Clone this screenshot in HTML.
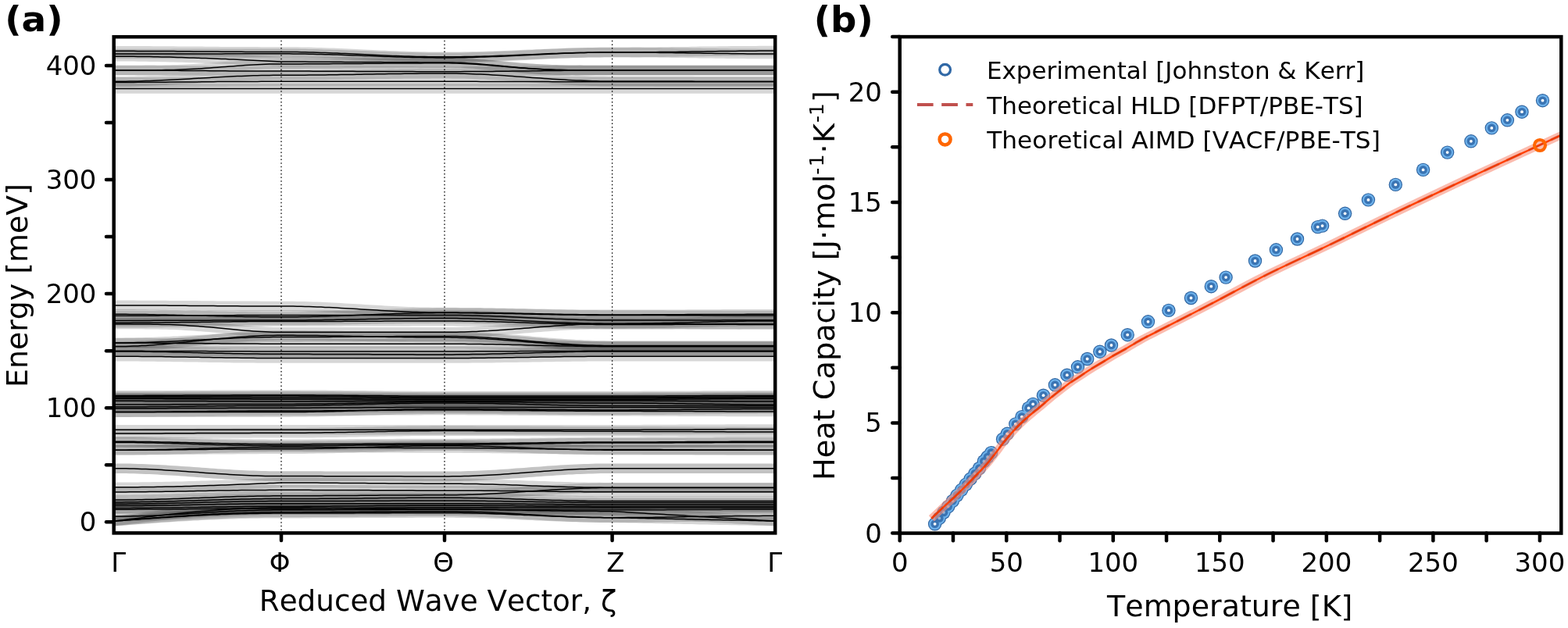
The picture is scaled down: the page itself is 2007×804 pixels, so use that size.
<!DOCTYPE html>
<html><head><meta charset="utf-8"><title>Figure</title>
<style>html,body{margin:0;padding:0;background:#fff;}body{width:2007px;height:804px;overflow:hidden;}svg{display:block;}text{font-family:"DejaVu Sans","Liberation Sans",sans-serif;fill:#000;font-kerning:none;}</style>
</head><body>
<svg width="2007" height="804" viewBox="0 0 2007 804">
<rect x="0" y="0" width="2007" height="804" fill="#fff"/>
<defs><clipPath id="cl"><rect x="145.7" y="47.2" width="846.5" height="635.2"/></clipPath><clipPath id="cr"><rect x="1151.7" y="47.1" width="846.6" height="635.5"/></clipPath></defs>
<g clip-path="url(#cl)">
<g fill="none" stroke="#000" stroke-opacity="0.155" stroke-width="12.6" stroke-linecap="butt">
<path d="M145.7,65.3 L150.8,65.3 L155.9,65.3 L161.0,65.3 L166.1,65.3 L171.2,65.3 L176.3,65.4 L181.4,65.4 L186.5,65.4 L191.6,65.4 L196.7,65.5 L201.8,65.5 L206.9,65.5 L212.0,65.6 L217.1,65.6 L222.2,65.6 L227.3,65.7 L232.4,65.7 L237.5,65.8 L242.6,65.8 L247.7,65.9 L252.8,65.9 L258.0,65.9 L263.1,66.0 L268.2,66.0 L273.3,66.1 L278.4,66.1 L283.5,66.2 L288.6,66.2 L293.7,66.2 L298.8,66.3 L303.9,66.3 L309.0,66.3 L314.1,66.4 L319.2,66.4 L324.3,66.4 L329.4,66.4 L334.5,66.5 L339.6,66.5 L344.7,66.5 L349.8,66.5 L354.9,66.5 L360.0,66.5 L365.1,66.5 L370.2,66.5 L375.3,66.6 L380.4,66.6 L385.5,66.7 L390.6,66.8 L395.7,66.9 L400.8,67.1 L405.9,67.2 L411.0,67.4 L416.1,67.6 L421.2,67.7 L426.3,67.9 L431.4,68.1 L436.5,68.4 L441.6,68.6 L446.7,68.8 L451.8,69.1 L456.9,69.3 L462.0,69.5 L467.0,69.8 L472.1,70.0 L477.2,70.2 L482.3,70.5 L487.4,70.7 L492.5,70.9 L497.6,71.2 L502.7,71.4 L507.8,71.6 L512.9,71.7 L518.0,71.9 L523.1,72.1 L528.2,72.2 L533.3,72.4 L538.4,72.5 L543.5,72.6 L548.6,72.7 L553.7,72.7 L558.8,72.8 L563.9,72.8 L569.0,72.8 L574.1,72.8 L579.2,72.8 L584.3,72.7 L589.4,72.7 L594.5,72.6 L599.7,72.5 L604.8,72.4 L609.9,72.3 L615.0,72.2 L620.1,72.0 L625.2,71.9 L630.3,71.7 L635.4,71.5 L640.5,71.3 L645.6,71.2 L650.8,71.0 L655.9,70.8 L661.0,70.5 L666.1,70.3 L671.2,70.1 L676.3,69.9 L681.4,69.7 L686.5,69.5 L691.6,69.3 L696.7,69.0 L701.8,68.8 L707.0,68.6 L712.1,68.5 L717.2,68.3 L722.3,68.1 L727.4,67.9 L732.5,67.8 L737.6,67.6 L742.7,67.5 L747.8,67.4 L752.9,67.3 L758.1,67.2 L763.2,67.1 L768.3,67.1 L773.4,67.0 L778.5,67.0 L783.6,67.0 L788.7,67.0 L793.8,67.0 L798.9,67.0 L804.0,67.0 L809.0,66.9 L814.1,66.9 L819.2,66.9 L824.3,66.8 L829.4,66.8 L834.5,66.7 L839.6,66.7 L844.7,66.6 L849.7,66.6 L854.8,66.5 L859.9,66.4 L865.0,66.4 L870.1,66.3 L875.2,66.2 L880.3,66.2 L885.4,66.1 L890.4,66.0 L895.5,65.9 L900.6,65.9 L905.7,65.8 L910.8,65.7 L915.9,65.7 L921.0,65.6 L926.1,65.5 L931.1,65.5 L936.2,65.4 L941.3,65.4 L946.4,65.3 L951.5,65.3 L956.6,65.2 L961.7,65.2 L966.8,65.2 L971.8,65.1 L976.9,65.1 L982.0,65.1 L987.1,65.1 L992.2,65.1"/>
<path d="M145.7,69.0 L150.8,69.0 L155.9,69.0 L161.0,69.0 L166.1,69.0 L171.2,69.0 L176.3,69.0 L181.4,69.0 L186.5,69.0 L191.6,69.0 L196.7,69.0 L201.8,69.0 L206.9,69.0 L212.0,69.0 L217.1,69.0 L222.2,68.9 L227.3,68.9 L232.4,68.9 L237.5,68.9 L242.6,68.9 L247.7,68.9 L252.8,68.9 L258.0,68.9 L263.1,68.9 L268.2,68.9 L273.3,68.9 L278.4,68.9 L283.5,68.9 L288.6,68.8 L293.7,68.8 L298.8,68.8 L303.9,68.8 L309.0,68.8 L314.1,68.8 L319.2,68.8 L324.3,68.8 L329.4,68.8 L334.5,68.8 L339.6,68.8 L344.7,68.8 L349.8,68.8 L354.9,68.8 L360.0,68.8 L365.1,68.8 L370.2,68.8 L375.3,68.9 L380.4,68.9 L385.5,69.0 L390.6,69.1 L395.7,69.2 L400.8,69.3 L405.9,69.4 L411.0,69.5 L416.1,69.7 L421.2,69.8 L426.3,70.0 L431.4,70.1 L436.5,70.3 L441.6,70.5 L446.7,70.7 L451.8,70.9 L456.9,71.1 L462.0,71.3 L467.0,71.4 L472.1,71.6 L477.2,71.8 L482.3,72.0 L487.4,72.2 L492.5,72.4 L497.6,72.6 L502.7,72.7 L507.8,72.9 L512.9,73.0 L518.0,73.2 L523.1,73.3 L528.2,73.4 L533.3,73.5 L538.4,73.6 L543.5,73.7 L548.6,73.8 L553.7,73.8 L558.8,73.9 L563.9,73.9 L569.0,73.9 L574.1,73.9 L579.2,73.9 L584.3,73.8 L589.4,73.7 L594.5,73.7 L599.7,73.6 L604.8,73.4 L609.9,73.3 L615.0,73.1 L620.1,73.0 L625.2,72.8 L630.3,72.6 L635.4,72.4 L640.5,72.2 L645.6,71.9 L650.8,71.7 L655.9,71.5 L661.0,71.2 L666.1,71.0 L671.2,70.7 L676.3,70.5 L681.4,70.2 L686.5,69.9 L691.6,69.7 L696.7,69.4 L701.8,69.2 L707.0,69.0 L712.1,68.7 L717.2,68.5 L722.3,68.3 L727.4,68.1 L732.5,67.9 L737.6,67.8 L742.7,67.6 L747.8,67.5 L752.9,67.3 L758.1,67.2 L763.2,67.2 L768.3,67.1 L773.4,67.0 L778.5,67.0 L783.6,67.0 L788.7,67.0 L793.8,67.0 L798.9,67.0 L804.0,67.0 L809.0,67.1 L814.1,67.1 L819.2,67.1 L824.3,67.2 L829.4,67.2 L834.5,67.3 L839.6,67.3 L844.7,67.4 L849.7,67.5 L854.8,67.5 L859.9,67.6 L865.0,67.7 L870.1,67.7 L875.2,67.8 L880.3,67.9 L885.4,68.0 L890.4,68.0 L895.5,68.1 L900.6,68.2 L905.7,68.3 L910.8,68.3 L915.9,68.4 L921.0,68.5 L926.1,68.5 L931.1,68.6 L936.2,68.7 L941.3,68.7 L946.4,68.8 L951.5,68.8 L956.6,68.9 L961.7,68.9 L966.8,68.9 L971.8,69.0 L976.9,69.0 L982.0,69.0 L987.1,69.0 L992.2,69.0"/>
<path d="M145.7,72.2 L150.8,72.2 L155.9,72.2 L161.0,72.2 L166.1,72.3 L171.2,72.3 L176.3,72.4 L181.4,72.4 L186.5,72.5 L191.6,72.6 L196.7,72.7 L201.8,72.8 L206.9,72.9 L212.0,73.0 L217.1,73.1 L222.2,73.3 L227.3,73.4 L232.4,73.5 L237.5,73.7 L242.6,73.9 L247.7,74.0 L252.8,74.2 L258.0,74.4 L263.1,74.6 L268.2,74.8 L273.3,75.0 L278.4,75.2 L283.5,75.4 L288.6,75.6 L293.7,75.9 L298.8,76.1 L303.9,76.3 L309.0,76.6 L314.1,76.8 L319.2,77.1 L324.3,77.3 L329.4,77.6 L334.5,77.8 L339.6,78.1 L344.7,78.3 L349.8,78.6 L354.9,78.8 L360.0,79.1 L365.1,79.1 L370.2,79.1 L375.3,79.1 L380.4,79.1 L385.5,79.1 L390.6,79.1 L395.7,79.2 L400.8,79.2 L405.9,79.2 L411.0,79.2 L416.1,79.2 L421.2,79.3 L426.3,79.3 L431.4,79.3 L436.5,79.3 L441.6,79.4 L446.7,79.4 L451.8,79.4 L456.9,79.5 L462.0,79.5 L467.0,79.5 L472.1,79.5 L477.2,79.6 L482.3,79.6 L487.4,79.6 L492.5,79.7 L497.6,79.7 L502.7,79.7 L507.8,79.7 L512.9,79.8 L518.0,79.8 L523.1,79.8 L528.2,79.8 L533.3,79.8 L538.4,79.9 L543.5,79.9 L548.6,79.9 L553.7,79.9 L558.8,79.9 L563.9,79.9 L569.0,79.9 L574.1,79.9 L579.2,80.0 L584.3,80.2 L589.4,80.3 L594.5,80.6 L599.7,80.9 L604.8,81.2 L609.9,81.6 L615.0,82.0 L620.1,82.4 L625.2,82.9 L630.3,83.3 L635.4,83.8 L640.5,84.3 L645.6,84.8 L650.8,85.3 L655.9,85.8 L661.0,86.2 L666.1,86.7 L671.2,87.1 L676.3,87.5 L681.4,87.8 L686.5,88.2 L691.6,88.5 L696.7,88.7 L701.8,89.0 L707.0,89.2 L712.1,89.4 L717.2,89.5 L722.3,89.6 L727.4,89.7 L732.5,89.8 L737.6,89.9 L742.7,89.9 L747.8,90.0 L752.9,90.0 L758.1,90.0 L763.2,90.0 L768.3,90.0 L773.4,90.0 L778.5,90.0 L783.6,90.0 L788.7,90.0 L793.8,90.0 L798.9,90.0 L804.0,90.0 L809.0,90.0 L814.1,90.0 L819.2,90.0 L824.3,90.0 L829.4,90.0 L834.5,90.0 L839.6,90.0 L844.7,90.0 L849.7,90.0 L854.8,90.0 L859.9,90.0 L865.0,90.0 L870.1,90.0 L875.2,90.0 L880.3,90.0 L885.4,90.0 L890.4,90.0 L895.5,90.0 L900.6,90.0 L905.7,90.0 L910.8,90.0 L915.9,90.0 L921.0,90.0 L926.1,90.0 L931.1,90.0 L936.2,90.0 L941.3,90.0 L946.4,90.0 L951.5,90.0 L956.6,90.0 L961.7,90.0 L966.8,90.0 L971.8,90.0 L976.9,90.0 L982.0,90.0 L987.1,90.0 L992.2,90.0"/>
<path d="M145.7,90.0 L150.8,90.0 L155.9,90.0 L161.0,90.0 L166.1,90.0 L171.2,90.0 L176.3,90.0 L181.4,90.0 L186.5,89.9 L191.6,89.9 L196.7,89.9 L201.8,89.8 L206.9,89.7 L212.0,89.6 L217.1,89.5 L222.2,89.4 L227.3,89.2 L232.4,89.0 L237.5,88.8 L242.6,88.5 L247.7,88.3 L252.8,88.0 L258.0,87.7 L263.1,87.3 L268.2,87.0 L273.3,86.6 L278.4,86.2 L283.5,85.8 L288.6,85.4 L293.7,85.1 L298.8,84.7 L303.9,84.3 L309.0,83.9 L314.1,83.6 L319.2,83.2 L324.3,82.9 L329.4,82.7 L334.5,82.5 L339.6,82.3 L344.7,82.1 L349.8,82.0 L354.9,81.9 L360.0,81.9 L365.1,81.9 L370.2,81.9 L375.3,81.9 L380.4,81.9 L385.5,81.9 L390.6,81.8 L395.7,81.8 L400.8,81.8 L405.9,81.8 L411.0,81.7 L416.1,81.7 L421.2,81.7 L426.3,81.6 L431.4,81.6 L436.5,81.6 L441.6,81.5 L446.7,81.5 L451.8,81.5 L456.9,81.4 L462.0,81.4 L467.0,81.3 L472.1,81.3 L477.2,81.2 L482.3,81.2 L487.4,81.2 L492.5,81.1 L497.6,81.1 L502.7,81.1 L507.8,81.0 L512.9,81.0 L518.0,81.0 L523.1,80.9 L528.2,80.9 L533.3,80.9 L538.4,80.9 L543.5,80.8 L548.6,80.8 L553.7,80.8 L558.8,80.8 L563.9,80.8 L569.0,80.8 L574.1,80.8 L579.2,80.9 L584.3,81.0 L589.4,81.2 L594.5,81.4 L599.7,81.7 L604.8,82.0 L609.9,82.3 L615.0,82.7 L620.1,83.1 L625.2,83.5 L630.3,83.9 L635.4,84.4 L640.5,84.8 L645.6,85.3 L650.8,85.7 L655.9,86.1 L661.0,86.6 L666.1,87.0 L671.2,87.3 L676.3,87.7 L681.4,88.0 L686.5,88.3 L691.6,88.6 L696.7,88.9 L701.8,89.1 L707.0,89.3 L712.1,89.4 L717.2,89.6 L722.3,89.7 L727.4,89.8 L732.5,89.8 L737.6,89.9 L742.7,89.9 L747.8,90.0 L752.9,90.0 L758.1,90.0 L763.2,90.0 L768.3,90.0 L773.4,90.0 L778.5,90.0 L783.6,90.0 L788.7,90.0 L793.8,90.0 L798.9,90.0 L804.0,90.0 L809.0,90.0 L814.1,90.0 L819.2,90.0 L824.3,90.0 L829.4,90.0 L834.5,90.0 L839.6,90.0 L844.7,90.0 L849.7,90.0 L854.8,90.0 L859.9,90.0 L865.0,90.0 L870.1,90.0 L875.2,90.0 L880.3,90.0 L885.4,90.0 L890.4,90.0 L895.5,90.0 L900.6,90.0 L905.7,90.0 L910.8,90.0 L915.9,90.0 L921.0,90.0 L926.1,90.0 L931.1,90.0 L936.2,90.0 L941.3,90.0 L946.4,90.0 L951.5,90.0 L956.6,90.0 L961.7,90.0 L966.8,90.0 L971.8,90.0 L976.9,90.0 L982.0,90.0 L987.1,90.0 L992.2,90.0"/>
<path d="M145.7,90.0 L150.8,90.0 L155.9,90.0 L161.0,90.0 L166.1,90.0 L171.2,90.0 L176.3,90.1 L181.4,90.1 L186.5,90.1 L191.6,90.1 L196.7,90.1 L201.8,90.2 L206.9,90.2 L212.0,90.2 L217.1,90.3 L222.2,90.3 L227.3,90.3 L232.4,90.4 L237.5,90.4 L242.6,90.5 L247.7,90.5 L252.8,90.5 L258.0,90.6 L263.1,90.6 L268.2,90.7 L273.3,90.7 L278.4,90.8 L283.5,90.8 L288.6,90.8 L293.7,90.9 L298.8,90.9 L303.9,90.9 L309.0,91.0 L314.1,91.0 L319.2,91.0 L324.3,91.0 L329.4,91.0 L334.5,91.1 L339.6,91.1 L344.7,91.1 L349.8,91.1 L354.9,91.1 L360.0,91.1 L365.1,91.1 L370.2,91.1 L375.3,91.1 L380.4,91.1 L385.5,91.1 L390.6,91.1 L395.7,91.1 L400.8,91.2 L405.9,91.2 L411.0,91.2 L416.1,91.2 L421.2,91.2 L426.3,91.2 L431.4,91.3 L436.5,91.3 L441.6,91.3 L446.7,91.3 L451.8,91.3 L456.9,91.4 L462.0,91.4 L467.0,91.4 L472.1,91.4 L477.2,91.5 L482.3,91.5 L487.4,91.5 L492.5,91.5 L497.6,91.5 L502.7,91.6 L507.8,91.6 L512.9,91.6 L518.0,91.6 L523.1,91.6 L528.2,91.6 L533.3,91.7 L538.4,91.7 L543.5,91.7 L548.6,91.7 L553.7,91.7 L558.8,91.7 L563.9,91.7 L569.0,91.7 L574.1,91.7 L579.2,91.7 L584.3,91.7 L589.4,91.7 L594.5,91.6 L599.7,91.6 L604.8,91.6 L609.9,91.6 L615.0,91.5 L620.1,91.5 L625.2,91.4 L630.3,91.4 L635.4,91.3 L640.5,91.3 L645.6,91.2 L650.8,91.2 L655.9,91.1 L661.0,91.0 L666.1,91.0 L671.2,90.9 L676.3,90.9 L681.4,90.8 L686.5,90.7 L691.6,90.7 L696.7,90.6 L701.8,90.5 L707.0,90.5 L712.1,90.4 L717.2,90.4 L722.3,90.3 L727.4,90.3 L732.5,90.2 L737.6,90.2 L742.7,90.1 L747.8,90.1 L752.9,90.1 L758.1,90.1 L763.2,90.0 L768.3,90.0 L773.4,90.0 L778.5,90.0 L783.6,90.0 L788.7,90.0 L793.8,90.0 L798.9,90.0 L804.0,90.0 L809.0,90.0 L814.1,90.0 L819.2,90.0 L824.3,90.0 L829.4,90.0 L834.5,90.0 L839.6,90.0 L844.7,90.0 L849.7,90.0 L854.8,90.0 L859.9,90.0 L865.0,90.0 L870.1,90.0 L875.2,90.0 L880.3,90.0 L885.4,90.0 L890.4,90.0 L895.5,90.0 L900.6,90.0 L905.7,90.0 L910.8,90.0 L915.9,90.0 L921.0,90.0 L926.1,90.0 L931.1,90.0 L936.2,90.0 L941.3,90.0 L946.4,90.0 L951.5,90.0 L956.6,90.0 L961.7,90.0 L966.8,90.0 L971.8,90.0 L976.9,90.0 L982.0,90.0 L987.1,90.0 L992.2,90.0"/>
<path d="M145.7,104.3 L150.8,104.3 L155.9,104.3 L161.0,104.2 L166.1,104.1 L171.2,104.0 L176.3,103.9 L181.4,103.8 L186.5,103.6 L191.6,103.4 L196.7,103.2 L201.8,103.0 L206.9,102.8 L212.0,102.6 L217.1,102.3 L222.2,102.0 L227.3,101.8 L232.4,101.5 L237.5,101.2 L242.6,100.9 L247.7,100.6 L252.8,100.3 L258.0,100.0 L263.1,99.7 L268.2,99.4 L273.3,99.1 L278.4,98.8 L283.5,98.6 L288.6,98.3 L293.7,98.0 L298.8,97.8 L303.9,97.6 L309.0,97.4 L314.1,97.2 L319.2,97.0 L324.3,96.8 L329.4,96.7 L334.5,96.6 L339.6,96.5 L344.7,96.4 L349.8,96.3 L354.9,96.3 L360.0,96.3 L365.1,96.3 L370.2,96.3 L375.3,96.3 L380.4,96.2 L385.5,96.2 L390.6,96.2 L395.7,96.1 L400.8,96.1 L405.9,96.0 L411.0,96.0 L416.1,95.9 L421.2,95.8 L426.3,95.8 L431.4,95.7 L436.5,95.6 L441.6,95.5 L446.7,95.5 L451.8,95.4 L456.9,95.3 L462.0,95.2 L467.0,95.1 L472.1,95.0 L477.2,94.9 L482.3,94.8 L487.4,94.8 L492.5,94.7 L497.6,94.6 L502.7,94.5 L507.8,94.5 L512.9,94.4 L518.0,94.3 L523.1,94.3 L528.2,94.2 L533.3,94.2 L538.4,94.1 L543.5,94.1 L548.6,94.1 L553.7,94.0 L558.8,94.0 L563.9,94.0 L569.0,94.0 L574.1,94.0 L579.2,94.1 L584.3,94.1 L589.4,94.2 L594.5,94.3 L599.7,94.5 L604.8,94.7 L609.9,94.9 L615.0,95.1 L620.1,95.3 L625.2,95.6 L630.3,95.9 L635.4,96.2 L640.5,96.5 L645.6,96.8 L650.8,97.2 L655.9,97.5 L661.0,97.9 L666.1,98.3 L671.2,98.6 L676.3,99.0 L681.4,99.4 L686.5,99.7 L691.6,100.1 L696.7,100.5 L701.8,100.8 L707.0,101.2 L712.1,101.5 L717.2,101.8 L722.3,102.1 L727.4,102.4 L732.5,102.7 L737.6,102.9 L742.7,103.1 L747.8,103.3 L752.9,103.5 L758.1,103.7 L763.2,103.8 L768.3,103.9 L773.4,103.9 L778.5,104.0 L783.6,104.0 L788.7,104.0 L793.8,104.0 L798.9,104.0 L804.0,104.0 L809.0,104.0 L814.1,104.0 L819.2,104.0 L824.3,104.0 L829.4,104.0 L834.5,104.0 L839.6,104.1 L844.7,104.1 L849.7,104.1 L854.8,104.1 L859.9,104.1 L865.0,104.1 L870.1,104.1 L875.2,104.1 L880.3,104.1 L885.4,104.1 L890.4,104.2 L895.5,104.2 L900.6,104.2 L905.7,104.2 L910.8,104.2 L915.9,104.2 L921.0,104.2 L926.1,104.2 L931.1,104.2 L936.2,104.2 L941.3,104.3 L946.4,104.3 L951.5,104.3 L956.6,104.3 L961.7,104.3 L966.8,104.3 L971.8,104.3 L976.9,104.3 L982.0,104.3 L987.1,104.3 L992.2,104.3"/>
<path d="M145.7,105.4 L150.8,105.4 L155.9,105.4 L161.0,105.4 L166.1,105.4 L171.2,105.4 L176.3,105.3 L181.4,105.3 L186.5,105.3 L191.6,105.3 L196.7,105.3 L201.8,105.2 L206.9,105.2 L212.0,105.2 L217.1,105.1 L222.2,105.1 L227.3,105.1 L232.4,105.0 L237.5,105.0 L242.6,104.9 L247.7,104.9 L252.8,104.9 L258.0,104.8 L263.1,104.8 L268.2,104.7 L273.3,104.7 L278.4,104.6 L283.5,104.6 L288.6,104.6 L293.7,104.5 L298.8,104.5 L303.9,104.5 L309.0,104.4 L314.1,104.4 L319.2,104.4 L324.3,104.4 L329.4,104.4 L334.5,104.3 L339.6,104.3 L344.7,104.3 L349.8,104.3 L354.9,104.3 L360.0,104.3 L365.1,104.3 L370.2,104.3 L375.3,104.3 L380.4,104.3 L385.5,104.3 L390.6,104.3 L395.7,104.3 L400.8,104.3 L405.9,104.3 L411.0,104.3 L416.1,104.3 L421.2,104.3 L426.3,104.3 L431.4,104.3 L436.5,104.3 L441.6,104.3 L446.7,104.3 L451.8,104.3 L456.9,104.3 L462.0,104.3 L467.0,104.3 L472.1,104.3 L477.2,104.3 L482.3,104.3 L487.4,104.3 L492.5,104.3 L497.6,104.3 L502.7,104.3 L507.8,104.3 L512.9,104.3 L518.0,104.3 L523.1,104.3 L528.2,104.3 L533.3,104.3 L538.4,104.3 L543.5,104.3 L548.6,104.3 L553.7,104.3 L558.8,104.3 L563.9,104.3 L569.0,104.3 L574.1,104.3 L579.2,104.3 L584.3,104.3 L589.4,104.3 L594.5,104.3 L599.7,104.3 L604.8,104.3 L609.9,104.3 L615.0,104.4 L620.1,104.4 L625.2,104.4 L630.3,104.4 L635.4,104.4 L640.5,104.4 L645.6,104.4 L650.8,104.5 L655.9,104.5 L661.0,104.5 L666.1,104.5 L671.2,104.5 L676.3,104.5 L681.4,104.6 L686.5,104.6 L691.6,104.6 L696.7,104.6 L701.8,104.6 L707.0,104.7 L712.1,104.7 L717.2,104.7 L722.3,104.7 L727.4,104.7 L732.5,104.7 L737.6,104.7 L742.7,104.8 L747.8,104.8 L752.9,104.8 L758.1,104.8 L763.2,104.8 L768.3,104.8 L773.4,104.8 L778.5,104.8 L783.6,104.8 L788.7,104.8 L793.8,104.8 L798.9,104.8 L804.0,104.8 L809.0,104.8 L814.1,104.8 L819.2,104.8 L824.3,104.8 L829.4,104.8 L834.5,104.8 L839.6,104.8 L844.7,104.8 L849.7,104.8 L854.8,104.8 L859.9,104.8 L865.0,104.8 L870.1,104.8 L875.2,104.8 L880.3,104.8 L885.4,104.8 L890.4,104.8 L895.5,104.8 L900.6,104.8 L905.7,104.8 L910.8,104.8 L915.9,104.8 L921.0,104.8 L926.1,104.8 L931.1,104.8 L936.2,104.8 L941.3,104.8 L946.4,104.8 L951.5,104.8 L956.6,104.8 L961.7,104.8 L966.8,104.8 L971.8,104.8 L976.9,104.8 L982.0,104.8 L987.1,104.8 L992.2,104.8"/>
<path d="M145.7,113.4 L150.8,113.4 L155.9,113.4 L161.0,113.4 L166.1,113.4 L171.2,113.4 L176.3,113.4 L181.4,113.4 L186.5,113.4 L191.6,113.4 L196.7,113.4 L201.8,113.4 L206.9,113.4 L212.0,113.4 L217.1,113.4 L222.2,113.4 L227.3,113.4 L232.4,113.4 L237.5,113.4 L242.6,113.4 L247.7,113.4 L252.8,113.4 L258.0,113.4 L263.1,113.4 L268.2,113.4 L273.3,113.4 L278.4,113.4 L283.5,113.4 L288.6,113.4 L293.7,113.4 L298.8,113.4 L303.9,113.4 L309.0,113.4 L314.1,113.4 L319.2,113.4 L324.3,113.4 L329.4,113.4 L334.5,113.4 L339.6,113.4 L344.7,113.4 L349.8,113.4 L354.9,113.4 L360.0,113.4 L365.1,113.4 L370.2,113.4 L375.3,113.4 L380.4,113.4 L385.5,113.4 L390.6,113.4 L395.7,113.4 L400.8,113.4 L405.9,113.4 L411.0,113.4 L416.1,113.4 L421.2,113.4 L426.3,113.4 L431.4,113.4 L436.5,113.4 L441.6,113.4 L446.7,113.4 L451.8,113.4 L456.9,113.4 L462.0,113.4 L467.0,113.4 L472.1,113.4 L477.2,113.4 L482.3,113.4 L487.4,113.4 L492.5,113.4 L497.6,113.4 L502.7,113.4 L507.8,113.4 L512.9,113.4 L518.0,113.4 L523.1,113.4 L528.2,113.4 L533.3,113.4 L538.4,113.4 L543.5,113.4 L548.6,113.4 L553.7,113.4 L558.8,113.4 L563.9,113.4 L569.0,113.4 L574.1,113.4 L579.2,113.4 L584.3,113.4 L589.4,113.4 L594.5,113.4 L599.7,113.4 L604.8,113.4 L609.9,113.4 L615.0,113.4 L620.1,113.4 L625.2,113.4 L630.3,113.4 L635.4,113.4 L640.5,113.4 L645.6,113.4 L650.8,113.4 L655.9,113.4 L661.0,113.4 L666.1,113.4 L671.2,113.4 L676.3,113.4 L681.4,113.4 L686.5,113.4 L691.6,113.4 L696.7,113.4 L701.8,113.4 L707.0,113.4 L712.1,113.4 L717.2,113.4 L722.3,113.4 L727.4,113.4 L732.5,113.4 L737.6,113.4 L742.7,113.4 L747.8,113.4 L752.9,113.4 L758.1,113.4 L763.2,113.4 L768.3,113.4 L773.4,113.4 L778.5,113.4 L783.6,113.4 L788.7,113.4 L793.8,113.4 L798.9,113.4 L804.0,113.4 L809.0,113.4 L814.1,113.4 L819.2,113.4 L824.3,113.4 L829.4,113.4 L834.5,113.4 L839.6,113.4 L844.7,113.4 L849.7,113.4 L854.8,113.4 L859.9,113.4 L865.0,113.4 L870.1,113.4 L875.2,113.4 L880.3,113.4 L885.4,113.4 L890.4,113.4 L895.5,113.4 L900.6,113.4 L905.7,113.4 L910.8,113.4 L915.9,113.4 L921.0,113.4 L926.1,113.4 L931.1,113.4 L936.2,113.4 L941.3,113.4 L946.4,113.4 L951.5,113.4 L956.6,113.4 L961.7,113.4 L966.8,113.4 L971.8,113.4 L976.9,113.4 L982.0,113.4 L987.1,113.4 L992.2,113.4"/>
<path d="M145.7,390.9 L150.8,390.9 L155.9,390.9 L161.0,390.9 L166.1,390.9 L171.2,390.9 L176.3,391.0 L181.4,391.0 L186.5,391.0 L191.6,391.0 L196.7,391.0 L201.8,391.1 L206.9,391.1 L212.0,391.1 L217.1,391.2 L222.2,391.2 L227.3,391.2 L232.4,391.3 L237.5,391.3 L242.6,391.4 L247.7,391.4 L252.8,391.4 L258.0,391.5 L263.1,391.5 L268.2,391.6 L273.3,391.6 L278.4,391.7 L283.5,391.7 L288.6,391.7 L293.7,391.8 L298.8,391.8 L303.9,391.8 L309.0,391.9 L314.1,391.9 L319.2,391.9 L324.3,391.9 L329.4,391.9 L334.5,392.0 L339.6,392.0 L344.7,392.0 L349.8,392.0 L354.9,392.0 L360.0,392.0 L365.1,392.0 L370.2,392.0 L375.3,392.1 L380.4,392.2 L385.5,392.3 L390.6,392.4 L395.7,392.6 L400.8,392.7 L405.9,392.9 L411.0,393.1 L416.1,393.4 L421.2,393.6 L426.3,393.8 L431.4,394.1 L436.5,394.4 L441.6,394.7 L446.7,395.0 L451.8,395.3 L456.9,395.6 L462.0,395.9 L467.0,396.2 L472.1,396.5 L477.2,396.8 L482.3,397.1 L487.4,397.4 L492.5,397.7 L497.6,398.0 L502.7,398.3 L507.8,398.5 L512.9,398.7 L518.0,399.0 L523.1,399.2 L528.2,399.4 L533.3,399.5 L538.4,399.7 L543.5,399.8 L548.6,399.9 L553.7,400.0 L558.8,400.1 L563.9,400.1 L569.0,400.1 L574.1,400.1 L579.2,400.1 L584.3,400.1 L589.4,400.2 L594.5,400.2 L599.7,400.2 L604.8,400.3 L609.9,400.3 L615.0,400.4 L620.1,400.5 L625.2,400.5 L630.3,400.6 L635.4,400.7 L640.5,400.8 L645.6,400.9 L650.8,401.0 L655.9,401.1 L661.0,401.2 L666.1,401.3 L671.2,401.4 L676.3,401.5 L681.4,401.6 L686.5,401.7 L691.6,401.8 L696.7,401.9 L701.8,402.0 L707.0,402.1 L712.1,402.2 L717.2,402.3 L722.3,402.4 L727.4,402.5 L732.5,402.5 L737.6,402.6 L742.7,402.7 L747.8,402.7 L752.9,402.8 L758.1,402.8 L763.2,402.8 L768.3,402.9 L773.4,402.9 L778.5,402.9 L783.6,402.9 L788.7,402.9 L793.8,402.9 L798.9,402.9 L804.0,402.9 L809.0,402.9 L814.1,402.9 L819.2,402.9 L824.3,402.8 L829.4,402.8 L834.5,402.8 L839.6,402.8 L844.7,402.8 L849.7,402.8 L854.8,402.7 L859.9,402.7 L865.0,402.7 L870.1,402.7 L875.2,402.7 L880.3,402.6 L885.4,402.6 L890.4,402.6 L895.5,402.6 L900.6,402.5 L905.7,402.5 L910.8,402.5 L915.9,402.5 L921.0,402.5 L926.1,402.4 L931.1,402.4 L936.2,402.4 L941.3,402.4 L946.4,402.4 L951.5,402.4 L956.6,402.3 L961.7,402.3 L966.8,402.3 L971.8,402.3 L976.9,402.3 L982.0,402.3 L987.1,402.3 L992.2,402.3"/>
<path d="M145.7,402.3 L150.8,402.3 L155.9,402.3 L161.0,402.3 L166.1,402.4 L171.2,402.4 L176.3,402.5 L181.4,402.5 L186.5,402.6 L191.6,402.7 L196.7,402.8 L201.8,402.9 L206.9,403.0 L212.0,403.1 L217.1,403.2 L222.2,403.3 L227.3,403.4 L232.4,403.5 L237.5,403.7 L242.6,403.8 L247.7,403.9 L252.8,404.1 L258.0,404.2 L263.1,404.3 L268.2,404.4 L273.3,404.6 L278.4,404.7 L283.5,404.8 L288.6,404.9 L293.7,405.0 L298.8,405.1 L303.9,405.2 L309.0,405.3 L314.1,405.4 L319.2,405.5 L324.3,405.6 L329.4,405.6 L334.5,405.7 L339.6,405.7 L344.7,405.8 L349.8,405.8 L354.9,405.8 L360.0,405.8 L365.1,405.8 L370.2,405.8 L375.3,405.7 L380.4,405.7 L385.5,405.6 L390.6,405.5 L395.7,405.4 L400.8,405.3 L405.9,405.2 L411.0,405.1 L416.1,404.9 L421.2,404.8 L426.3,404.6 L431.4,404.4 L436.5,404.3 L441.6,404.1 L446.7,403.9 L451.8,403.7 L456.9,403.5 L462.0,403.3 L467.0,403.1 L472.1,402.9 L477.2,402.7 L482.3,402.5 L487.4,402.3 L492.5,402.1 L497.6,402.0 L502.7,401.8 L507.8,401.6 L512.9,401.5 L518.0,401.3 L523.1,401.2 L528.2,401.1 L533.3,401.0 L538.4,400.9 L543.5,400.8 L548.6,400.7 L553.7,400.7 L558.8,400.6 L563.9,400.6 L569.0,400.6 L574.1,400.6 L579.2,400.6 L584.3,400.6 L589.4,400.7 L594.5,400.7 L599.7,400.7 L604.8,400.8 L609.9,400.9 L615.0,400.9 L620.1,401.0 L625.2,401.1 L630.3,401.1 L635.4,401.2 L640.5,401.3 L645.6,401.4 L650.8,401.5 L655.9,401.6 L661.0,401.7 L666.1,401.8 L671.2,401.9 L676.3,402.1 L681.4,402.2 L686.5,402.3 L691.6,402.4 L696.7,402.5 L701.8,402.6 L707.0,402.7 L712.1,402.8 L717.2,402.9 L722.3,403.0 L727.4,403.0 L732.5,403.1 L737.6,403.2 L742.7,403.2 L747.8,403.3 L752.9,403.4 L758.1,403.4 L763.2,403.4 L768.3,403.5 L773.4,403.5 L778.5,403.5 L783.6,403.5 L788.7,403.5 L793.8,403.5 L798.9,403.5 L804.0,403.5 L809.0,403.5 L814.1,403.5 L819.2,403.5 L824.3,403.6 L829.4,403.6 L834.5,403.6 L839.6,403.6 L844.7,403.6 L849.7,403.6 L854.8,403.7 L859.9,403.7 L865.0,403.7 L870.1,403.7 L875.2,403.7 L880.3,403.8 L885.4,403.8 L890.4,403.8 L895.5,403.8 L900.6,403.9 L905.7,403.9 L910.8,403.9 L915.9,403.9 L921.0,403.9 L926.1,404.0 L931.1,404.0 L936.2,404.0 L941.3,404.0 L946.4,404.0 L951.5,404.0 L956.6,404.1 L961.7,404.1 L966.8,404.1 L971.8,404.1 L976.9,404.1 L982.0,404.1 L987.1,404.1 L992.2,404.1"/>
<path d="M145.7,404.3 L150.8,404.3 L155.9,404.3 L161.0,404.3 L166.1,404.3 L171.2,404.3 L176.3,404.3 L181.4,404.2 L186.5,404.2 L191.6,404.2 L196.7,404.2 L201.8,404.2 L206.9,404.1 L212.0,404.1 L217.1,404.1 L222.2,404.1 L227.3,404.0 L232.4,404.0 L237.5,404.0 L242.6,404.0 L247.7,403.9 L252.8,403.9 L258.0,403.9 L263.1,403.8 L268.2,403.8 L273.3,403.8 L278.4,403.8 L283.5,403.7 L288.6,403.7 L293.7,403.7 L298.8,403.7 L303.9,403.6 L309.0,403.6 L314.1,403.6 L319.2,403.6 L324.3,403.6 L329.4,403.5 L334.5,403.5 L339.6,403.5 L344.7,403.5 L349.8,403.5 L354.9,403.5 L360.0,403.5 L365.1,403.5 L370.2,403.5 L375.3,403.5 L380.4,403.5 L385.5,403.5 L390.6,403.5 L395.7,403.5 L400.8,403.5 L405.9,403.5 L411.0,403.5 L416.1,403.5 L421.2,403.5 L426.3,403.5 L431.4,403.5 L436.5,403.5 L441.6,403.5 L446.7,403.5 L451.8,403.5 L456.9,403.5 L462.0,403.5 L467.0,403.5 L472.1,403.5 L477.2,403.5 L482.3,403.5 L487.4,403.5 L492.5,403.5 L497.6,403.5 L502.7,403.5 L507.8,403.5 L512.9,403.5 L518.0,403.5 L523.1,403.5 L528.2,403.5 L533.3,403.5 L538.4,403.5 L543.5,403.5 L548.6,403.5 L553.7,403.5 L558.8,403.5 L563.9,403.5 L569.0,403.5 L574.1,403.5 L579.2,403.5 L584.3,403.6 L589.4,403.6 L594.5,403.7 L599.7,403.8 L604.8,403.9 L609.9,404.1 L615.0,404.2 L620.1,404.4 L625.2,404.5 L630.3,404.7 L635.4,404.9 L640.5,405.1 L645.6,405.3 L650.8,405.6 L655.9,405.8 L661.0,406.0 L666.1,406.3 L671.2,406.5 L676.3,406.8 L681.4,407.0 L686.5,407.2 L691.6,407.5 L696.7,407.7 L701.8,407.9 L707.0,408.2 L712.1,408.4 L717.2,408.6 L722.3,408.8 L727.4,409.0 L732.5,409.1 L737.6,409.3 L742.7,409.4 L747.8,409.6 L752.9,409.7 L758.1,409.8 L763.2,409.9 L768.3,409.9 L773.4,410.0 L778.5,410.0 L783.6,410.0 L788.7,410.0 L793.8,410.0 L798.9,410.0 L804.0,410.0 L809.0,410.0 L814.1,410.0 L819.2,410.0 L824.3,410.0 L829.4,410.0 L834.5,410.0 L839.6,410.0 L844.7,410.0 L849.7,410.0 L854.8,409.9 L859.9,409.9 L865.0,409.9 L870.1,409.9 L875.2,409.9 L880.3,409.9 L885.4,409.9 L890.4,409.9 L895.5,409.9 L900.6,409.9 L905.7,409.9 L910.8,409.9 L915.9,409.9 L921.0,409.9 L926.1,409.8 L931.1,409.8 L936.2,409.8 L941.3,409.8 L946.4,409.8 L951.5,409.8 L956.6,409.8 L961.7,409.8 L966.8,409.8 L971.8,409.8 L976.9,409.8 L982.0,409.8 L987.1,409.8 L992.2,409.8"/>
<path d="M145.7,410.4 L150.8,410.4 L155.9,410.4 L161.0,410.4 L166.1,410.4 L171.2,410.4 L176.3,410.4 L181.4,410.4 L186.5,410.4 L191.6,410.4 L196.7,410.3 L201.8,410.3 L206.9,410.3 L212.0,410.3 L217.1,410.3 L222.2,410.3 L227.3,410.3 L232.4,410.3 L237.5,410.2 L242.6,410.2 L247.7,410.2 L252.8,410.2 L258.0,410.2 L263.1,410.2 L268.2,410.2 L273.3,410.1 L278.4,410.1 L283.5,410.1 L288.6,410.1 L293.7,410.1 L298.8,410.1 L303.9,410.1 L309.0,410.1 L314.1,410.0 L319.2,410.0 L324.3,410.0 L329.4,410.0 L334.5,410.0 L339.6,410.0 L344.7,410.0 L349.8,410.0 L354.9,410.0 L360.0,410.0 L365.1,410.0 L370.2,410.0 L375.3,410.0 L380.4,409.9 L385.5,409.9 L390.6,409.9 L395.7,409.8 L400.8,409.8 L405.9,409.7 L411.0,409.7 L416.1,409.6 L421.2,409.5 L426.3,409.4 L431.4,409.3 L436.5,409.3 L441.6,409.2 L446.7,409.1 L451.8,409.0 L456.9,408.9 L462.0,408.8 L467.0,408.7 L472.1,408.6 L477.2,408.5 L482.3,408.4 L487.4,408.3 L492.5,408.2 L497.6,408.2 L502.7,408.1 L507.8,408.0 L512.9,407.9 L518.0,407.8 L523.1,407.8 L528.2,407.7 L533.3,407.7 L538.4,407.6 L543.5,407.6 L548.6,407.6 L553.7,407.5 L558.8,407.5 L563.9,407.5 L569.0,407.5 L574.1,407.5 L579.2,407.5 L584.3,407.6 L589.4,407.7 L594.5,407.7 L599.7,407.8 L604.8,408.0 L609.9,408.1 L615.0,408.3 L620.1,408.4 L625.2,408.6 L630.3,408.8 L635.4,409.0 L640.5,409.2 L645.6,409.5 L650.8,409.7 L655.9,409.9 L661.0,410.2 L666.1,410.4 L671.2,410.7 L676.3,410.9 L681.4,411.2 L686.5,411.5 L691.6,411.7 L696.7,412.0 L701.8,412.2 L707.0,412.4 L712.1,412.7 L717.2,412.9 L722.3,413.1 L727.4,413.3 L732.5,413.5 L737.6,413.6 L742.7,413.8 L747.8,413.9 L752.9,414.1 L758.1,414.2 L763.2,414.2 L768.3,414.3 L773.4,414.4 L778.5,414.4 L783.6,414.4 L788.7,414.4 L793.8,414.4 L798.9,414.4 L804.0,414.3 L809.0,414.3 L814.1,414.2 L819.2,414.2 L824.3,414.1 L829.4,414.0 L834.5,413.9 L839.6,413.8 L844.7,413.7 L849.7,413.6 L854.8,413.5 L859.9,413.4 L865.0,413.2 L870.1,413.1 L875.2,413.0 L880.3,412.9 L885.4,412.7 L890.4,412.6 L895.5,412.4 L900.6,412.3 L905.7,412.2 L910.8,412.1 L915.9,411.9 L921.0,411.8 L926.1,411.7 L931.1,411.6 L936.2,411.5 L941.3,411.4 L946.4,411.3 L951.5,411.2 L956.6,411.1 L961.7,411.1 L966.8,411.0 L971.8,411.0 L976.9,410.9 L982.0,410.9 L987.1,410.9 L992.2,410.9"/>
<path d="M145.7,413.2 L150.8,413.2 L155.9,413.2 L161.0,413.2 L166.1,413.2 L171.2,413.1 L176.3,413.1 L181.4,413.1 L186.5,413.1 L191.6,413.0 L196.7,413.0 L201.8,412.9 L206.9,412.9 L212.0,412.8 L217.1,412.8 L222.2,412.7 L227.3,412.7 L232.4,412.6 L237.5,412.5 L242.6,412.5 L247.7,412.4 L252.8,412.4 L258.0,412.3 L263.1,412.2 L268.2,412.2 L273.3,412.1 L278.4,412.0 L283.5,412.0 L288.6,411.9 L293.7,411.9 L298.8,411.8 L303.9,411.8 L309.0,411.7 L314.1,411.7 L319.2,411.6 L324.3,411.6 L329.4,411.6 L334.5,411.6 L339.6,411.5 L344.7,411.5 L349.8,411.5 L354.9,411.5 L360.0,411.5 L365.1,411.5 L370.2,411.5 L375.3,411.5 L380.4,411.5 L385.5,411.5 L390.6,411.5 L395.7,411.5 L400.8,411.5 L405.9,411.4 L411.0,411.4 L416.1,411.4 L421.2,411.4 L426.3,411.4 L431.4,411.4 L436.5,411.4 L441.6,411.3 L446.7,411.3 L451.8,411.3 L456.9,411.3 L462.0,411.3 L467.0,411.2 L472.1,411.2 L477.2,411.2 L482.3,411.2 L487.4,411.2 L492.5,411.1 L497.6,411.1 L502.7,411.1 L507.8,411.1 L512.9,411.1 L518.0,411.1 L523.1,411.1 L528.2,411.0 L533.3,411.0 L538.4,411.0 L543.5,411.0 L548.6,411.0 L553.7,411.0 L558.8,411.0 L563.9,411.0 L569.0,411.0 L574.1,411.0 L579.2,411.0 L584.3,411.1 L589.4,411.1 L594.5,411.2 L599.7,411.2 L604.8,411.3 L609.9,411.4 L615.0,411.5 L620.1,411.6 L625.2,411.7 L630.3,411.8 L635.4,412.0 L640.5,412.1 L645.6,412.3 L650.8,412.4 L655.9,412.6 L661.0,412.7 L666.1,412.9 L671.2,413.1 L676.3,413.2 L681.4,413.4 L686.5,413.6 L691.6,413.8 L696.7,413.9 L701.8,414.1 L707.0,414.2 L712.1,414.4 L717.2,414.5 L722.3,414.7 L727.4,414.8 L732.5,414.9 L737.6,415.0 L742.7,415.1 L747.8,415.2 L752.9,415.3 L758.1,415.3 L763.2,415.4 L768.3,415.4 L773.4,415.5 L778.5,415.5 L783.6,415.5 L788.7,415.5 L793.8,415.5 L798.9,415.5 L804.0,415.5 L809.0,415.5 L814.1,415.5 L819.2,415.5 L824.3,415.5 L829.4,415.4 L834.5,415.4 L839.6,415.4 L844.7,415.4 L849.7,415.4 L854.8,415.4 L859.9,415.4 L865.0,415.3 L870.1,415.3 L875.2,415.3 L880.3,415.3 L885.4,415.3 L890.4,415.2 L895.5,415.2 L900.6,415.2 L905.7,415.2 L910.8,415.2 L915.9,415.1 L921.0,415.1 L926.1,415.1 L931.1,415.1 L936.2,415.1 L941.3,415.1 L946.4,415.1 L951.5,415.0 L956.6,415.0 L961.7,415.0 L966.8,415.0 L971.8,415.0 L976.9,415.0 L982.0,415.0 L987.1,415.0 L992.2,415.0"/>
<path d="M145.7,415.0 L150.8,415.0 L155.9,415.0 L161.0,415.0 L166.1,415.0 L171.2,415.0 L176.3,415.0 L181.4,415.0 L186.5,415.1 L191.6,415.1 L196.7,415.2 L201.8,415.3 L206.9,415.4 L212.0,415.5 L217.1,415.6 L222.2,415.8 L227.3,416.0 L232.4,416.3 L237.5,416.6 L242.6,416.9 L247.7,417.2 L252.8,417.6 L258.0,418.0 L263.1,418.4 L268.2,418.8 L273.3,419.3 L278.4,419.8 L283.5,420.3 L288.6,420.8 L293.7,421.3 L298.8,421.8 L303.9,422.3 L309.0,422.7 L314.1,423.2 L319.2,423.6 L324.3,424.0 L329.4,424.3 L334.5,424.6 L339.6,424.8 L344.7,425.0 L349.8,425.2 L354.9,425.3 L360.0,425.3 L365.1,425.3 L370.2,425.3 L375.3,425.3 L380.4,425.3 L385.5,425.3 L390.6,425.3 L395.7,425.3 L400.8,425.3 L405.9,425.3 L411.0,425.3 L416.1,425.3 L421.2,425.3 L426.3,425.3 L431.4,425.3 L436.5,425.3 L441.6,425.3 L446.7,425.3 L451.8,425.3 L456.9,425.3 L462.0,425.3 L467.0,425.3 L472.1,425.3 L477.2,425.3 L482.3,425.3 L487.4,425.3 L492.5,425.3 L497.6,425.3 L502.7,425.3 L507.8,425.3 L512.9,425.3 L518.0,425.3 L523.1,425.3 L528.2,425.3 L533.3,425.3 L538.4,425.3 L543.5,425.3 L548.6,425.3 L553.7,425.3 L558.8,425.3 L563.9,425.3 L569.0,425.3 L574.1,425.3 L579.2,425.2 L584.3,425.2 L589.4,425.1 L594.5,424.9 L599.7,424.8 L604.8,424.6 L609.9,424.4 L615.0,424.1 L620.1,423.8 L625.2,423.6 L630.3,423.2 L635.4,422.9 L640.5,422.6 L645.6,422.2 L650.8,421.8 L655.9,421.5 L661.0,421.1 L666.1,420.7 L671.2,420.3 L676.3,419.9 L681.4,419.4 L686.5,419.0 L691.6,418.6 L696.7,418.2 L701.8,417.9 L707.0,417.5 L712.1,417.1 L717.2,416.8 L722.3,416.5 L727.4,416.1 L732.5,415.9 L737.6,415.6 L742.7,415.3 L747.8,415.1 L752.9,414.9 L758.1,414.8 L763.2,414.6 L768.3,414.5 L773.4,414.5 L778.5,414.4 L783.6,414.4 L788.7,414.4 L793.8,414.4 L798.9,414.4 L804.0,414.4 L809.0,414.4 L814.1,414.5 L819.2,414.5 L824.3,414.5 L829.4,414.5 L834.5,414.6 L839.6,414.6 L844.7,414.6 L849.7,414.7 L854.8,414.7 L859.9,414.7 L865.0,414.8 L870.1,414.8 L875.2,414.8 L880.3,414.9 L885.4,414.9 L890.4,415.0 L895.5,415.0 L900.6,415.1 L905.7,415.1 L910.8,415.1 L915.9,415.2 L921.0,415.2 L926.1,415.2 L931.1,415.3 L936.2,415.3 L941.3,415.3 L946.4,415.4 L951.5,415.4 L956.6,415.4 L961.7,415.4 L966.8,415.5 L971.8,415.5 L976.9,415.5 L982.0,415.5 L987.1,415.5 L992.2,415.5"/>
<path d="M145.7,439.0 L150.8,439.0 L155.9,439.0 L161.0,438.9 L166.1,438.8 L171.2,438.7 L176.3,438.6 L181.4,438.5 L186.5,438.4 L191.6,438.2 L196.7,438.0 L201.8,437.8 L206.9,437.6 L212.0,437.4 L217.1,437.2 L222.2,436.9 L227.3,436.7 L232.4,436.4 L237.5,436.1 L242.6,435.9 L247.7,435.6 L252.8,435.3 L258.0,435.0 L263.1,434.7 L268.2,434.5 L273.3,434.2 L278.4,433.9 L283.5,433.7 L288.6,433.5 L293.7,433.2 L298.8,433.0 L303.9,432.8 L309.0,432.6 L314.1,432.4 L319.2,432.2 L324.3,432.1 L329.4,432.0 L334.5,431.9 L339.6,431.8 L344.7,431.7 L349.8,431.6 L354.9,431.6 L360.0,431.6 L365.1,431.6 L370.2,431.6 L375.3,431.6 L380.4,431.6 L385.5,431.6 L390.6,431.5 L395.7,431.5 L400.8,431.5 L405.9,431.5 L411.0,431.4 L416.1,431.4 L421.2,431.4 L426.3,431.3 L431.4,431.3 L436.5,431.2 L441.6,431.2 L446.7,431.2 L451.8,431.1 L456.9,431.1 L462.0,431.0 L467.0,431.0 L472.1,430.9 L477.2,430.9 L482.3,430.8 L487.4,430.8 L492.5,430.8 L497.6,430.7 L502.7,430.7 L507.8,430.6 L512.9,430.6 L518.0,430.6 L523.1,430.5 L528.2,430.5 L533.3,430.5 L538.4,430.5 L543.5,430.4 L548.6,430.4 L553.7,430.4 L558.8,430.4 L563.9,430.4 L569.0,430.4 L574.1,430.4 L579.2,430.5 L584.3,430.6 L589.4,430.7 L594.5,430.8 L599.7,431.0 L604.8,431.2 L609.9,431.5 L615.0,431.7 L620.1,432.0 L625.2,432.3 L630.3,432.7 L635.4,433.0 L640.5,433.4 L645.6,433.8 L650.8,434.2 L655.9,434.7 L661.0,435.1 L666.1,435.5 L671.2,436.0 L676.3,436.4 L681.4,436.9 L686.5,437.4 L691.6,437.8 L696.7,438.2 L701.8,438.7 L707.0,439.1 L712.1,439.5 L717.2,439.9 L722.3,440.2 L727.4,440.6 L732.5,440.9 L737.6,441.2 L742.7,441.4 L747.8,441.7 L752.9,441.9 L758.1,442.1 L763.2,442.2 L768.3,442.3 L773.4,442.4 L778.5,442.5 L783.6,442.5 L788.7,442.5 L793.8,442.5 L798.9,442.5 L804.0,442.5 L809.0,442.5 L814.1,442.5 L819.2,442.5 L824.3,442.5 L829.4,442.5 L834.5,442.5 L839.6,442.5 L844.7,442.5 L849.7,442.5 L854.8,442.5 L859.9,442.5 L865.0,442.5 L870.1,442.5 L875.2,442.5 L880.3,442.5 L885.4,442.5 L890.4,442.5 L895.5,442.5 L900.6,442.5 L905.7,442.5 L910.8,442.5 L915.9,442.5 L921.0,442.5 L926.1,442.5 L931.1,442.5 L936.2,442.5 L941.3,442.5 L946.4,442.5 L951.5,442.5 L956.6,442.5 L961.7,442.5 L966.8,442.5 L971.8,442.5 L976.9,442.5 L982.0,442.5 L987.1,442.5 L992.2,442.5"/>
<path d="M145.7,443.6 L150.8,443.6 L155.9,443.5 L161.0,443.4 L166.1,443.3 L171.2,443.1 L176.3,442.9 L181.4,442.6 L186.5,442.4 L191.6,442.0 L196.7,441.7 L201.8,441.3 L206.9,440.9 L212.0,440.5 L217.1,440.0 L222.2,439.6 L227.3,439.1 L232.4,438.6 L237.5,438.0 L242.6,437.5 L247.7,437.0 L252.8,436.5 L258.0,435.9 L263.1,435.4 L268.2,434.9 L273.3,434.3 L278.4,433.8 L283.5,433.3 L288.6,432.9 L293.7,432.4 L298.8,432.0 L303.9,431.6 L309.0,431.2 L314.1,430.9 L319.2,430.5 L324.3,430.3 L329.4,430.0 L334.5,429.8 L339.6,429.6 L344.7,429.5 L349.8,429.4 L354.9,429.3 L360.0,429.3 L365.1,429.3 L370.2,429.3 L375.3,429.3 L380.4,429.4 L385.5,429.4 L390.6,429.4 L395.7,429.5 L400.8,429.6 L405.9,429.6 L411.0,429.7 L416.1,429.8 L421.2,429.9 L426.3,429.9 L431.4,430.0 L436.5,430.1 L441.6,430.2 L446.7,430.3 L451.8,430.4 L456.9,430.5 L462.0,430.6 L467.0,430.8 L472.1,430.9 L477.2,431.0 L482.3,431.1 L487.4,431.2 L492.5,431.3 L497.6,431.4 L502.7,431.5 L507.8,431.5 L512.9,431.6 L518.0,431.7 L523.1,431.8 L528.2,431.8 L533.3,431.9 L538.4,432.0 L543.5,432.0 L548.6,432.0 L553.7,432.1 L558.8,432.1 L563.9,432.1 L569.0,432.1 L574.1,432.1 L579.2,432.2 L584.3,432.2 L589.4,432.4 L594.5,432.5 L599.7,432.7 L604.8,432.9 L609.9,433.1 L615.0,433.4 L620.1,433.6 L625.2,433.9 L630.3,434.3 L635.4,434.6 L640.5,435.0 L645.6,435.4 L650.8,435.7 L655.9,436.2 L661.0,436.6 L666.1,437.0 L671.2,437.4 L676.3,437.9 L681.4,438.3 L686.5,438.7 L691.6,439.1 L696.7,439.5 L701.8,440.0 L707.0,440.3 L712.1,440.7 L717.2,441.1 L722.3,441.4 L727.4,441.8 L732.5,442.1 L737.6,442.3 L742.7,442.6 L747.8,442.8 L752.9,443.0 L758.1,443.2 L763.2,443.3 L768.3,443.5 L773.4,443.5 L778.5,443.6 L783.6,443.6 L788.7,443.6 L793.8,443.6 L798.9,443.6 L804.0,443.6 L809.0,443.6 L814.1,443.6 L819.2,443.6 L824.3,443.6 L829.4,443.6 L834.5,443.6 L839.6,443.6 L844.7,443.6 L849.7,443.6 L854.8,443.6 L859.9,443.6 L865.0,443.6 L870.1,443.6 L875.2,443.6 L880.3,443.6 L885.4,443.6 L890.4,443.6 L895.5,443.6 L900.6,443.6 L905.7,443.6 L910.8,443.6 L915.9,443.6 L921.0,443.6 L926.1,443.6 L931.1,443.6 L936.2,443.6 L941.3,443.6 L946.4,443.6 L951.5,443.6 L956.6,443.6 L961.7,443.6 L966.8,443.6 L971.8,443.6 L976.9,443.6 L982.0,443.6 L987.1,443.6 L992.2,443.6"/>
<path d="M145.7,439.0 L150.8,439.0 L155.9,439.0 L161.0,439.0 L166.1,439.0 L171.2,439.0 L176.3,439.1 L181.4,439.1 L186.5,439.1 L191.6,439.1 L196.7,439.2 L201.8,439.2 L206.9,439.2 L212.0,439.3 L217.1,439.3 L222.2,439.3 L227.3,439.4 L232.4,439.4 L237.5,439.5 L242.6,439.5 L247.7,439.6 L252.8,439.6 L258.0,439.6 L263.1,439.7 L268.2,439.7 L273.3,439.8 L278.4,439.8 L283.5,439.9 L288.6,439.9 L293.7,439.9 L298.8,440.0 L303.9,440.0 L309.0,440.0 L314.1,440.1 L319.2,440.1 L324.3,440.1 L329.4,440.1 L334.5,440.2 L339.6,440.2 L344.7,440.2 L349.8,440.2 L354.9,440.2 L360.0,440.2 L365.1,440.2 L370.2,440.2 L375.3,440.2 L380.4,440.2 L385.5,440.2 L390.6,440.2 L395.7,440.2 L400.8,440.2 L405.9,440.2 L411.0,440.2 L416.1,440.2 L421.2,440.2 L426.3,440.2 L431.4,440.2 L436.5,440.2 L441.6,440.2 L446.7,440.2 L451.8,440.2 L456.9,440.2 L462.0,440.2 L467.0,440.2 L472.1,440.2 L477.2,440.2 L482.3,440.2 L487.4,440.2 L492.5,440.2 L497.6,440.2 L502.7,440.2 L507.8,440.2 L512.9,440.2 L518.0,440.2 L523.1,440.2 L528.2,440.2 L533.3,440.2 L538.4,440.2 L543.5,440.2 L548.6,440.2 L553.7,440.2 L558.8,440.2 L563.9,440.2 L569.0,440.2 L574.1,440.2 L579.2,440.2 L584.3,440.2 L589.4,440.3 L594.5,440.3 L599.7,440.4 L604.8,440.4 L609.9,440.5 L615.0,440.6 L620.1,440.7 L625.2,440.7 L630.3,440.8 L635.4,440.9 L640.5,441.1 L645.6,441.2 L650.8,441.3 L655.9,441.4 L661.0,441.5 L666.1,441.6 L671.2,441.8 L676.3,441.9 L681.4,442.0 L686.5,442.2 L691.6,442.3 L696.7,442.4 L701.8,442.5 L707.0,442.6 L712.1,442.8 L717.2,442.9 L722.3,443.0 L727.4,443.1 L732.5,443.1 L737.6,443.2 L742.7,443.3 L747.8,443.4 L752.9,443.4 L758.1,443.5 L763.2,443.5 L768.3,443.6 L773.4,443.6 L778.5,443.6 L783.6,443.6 L788.7,443.6 L793.8,443.6 L798.9,443.6 L804.0,443.6 L809.0,443.6 L814.1,443.6 L819.2,443.6 L824.3,443.6 L829.4,443.6 L834.5,443.6 L839.6,443.6 L844.7,443.6 L849.7,443.6 L854.8,443.6 L859.9,443.6 L865.0,443.6 L870.1,443.6 L875.2,443.6 L880.3,443.6 L885.4,443.6 L890.4,443.6 L895.5,443.6 L900.6,443.6 L905.7,443.6 L910.8,443.6 L915.9,443.6 L921.0,443.6 L926.1,443.6 L931.1,443.6 L936.2,443.6 L941.3,443.6 L946.4,443.6 L951.5,443.6 L956.6,443.6 L961.7,443.6 L966.8,443.6 L971.8,443.6 L976.9,443.6 L982.0,443.6 L987.1,443.6 L992.2,443.6"/>
<path d="M145.7,449.3 L150.8,449.3 L155.9,449.3 L161.0,449.3 L166.1,449.3 L171.2,449.3 L176.3,449.3 L181.4,449.3 L186.5,449.4 L191.6,449.4 L196.7,449.4 L201.8,449.4 L206.9,449.4 L212.0,449.4 L217.1,449.4 L222.2,449.5 L227.3,449.5 L232.4,449.5 L237.5,449.5 L242.6,449.6 L247.7,449.6 L252.8,449.6 L258.0,449.6 L263.1,449.6 L268.2,449.7 L273.3,449.7 L278.4,449.7 L283.5,449.7 L288.6,449.8 L293.7,449.8 L298.8,449.8 L303.9,449.8 L309.0,449.8 L314.1,449.8 L319.2,449.8 L324.3,449.9 L329.4,449.9 L334.5,449.9 L339.6,449.9 L344.7,449.9 L349.8,449.9 L354.9,449.9 L360.0,449.9 L365.1,449.9 L370.2,449.9 L375.3,449.9 L380.4,449.9 L385.5,449.9 L390.6,449.9 L395.7,449.9 L400.8,449.9 L405.9,449.9 L411.0,449.9 L416.1,449.9 L421.2,449.9 L426.3,449.9 L431.4,449.9 L436.5,449.9 L441.6,449.9 L446.7,449.9 L451.8,449.9 L456.9,449.9 L462.0,449.9 L467.0,449.9 L472.1,449.9 L477.2,449.9 L482.3,449.9 L487.4,449.9 L492.5,449.9 L497.6,449.9 L502.7,449.9 L507.8,449.9 L512.9,449.9 L518.0,449.9 L523.1,449.9 L528.2,449.9 L533.3,449.9 L538.4,449.9 L543.5,449.9 L548.6,449.9 L553.7,449.9 L558.8,449.9 L563.9,449.9 L569.0,449.9 L574.1,449.9 L579.2,449.9 L584.3,449.9 L589.4,449.9 L594.5,449.9 L599.7,449.9 L604.8,449.9 L609.9,449.8 L615.0,449.8 L620.1,449.8 L625.2,449.8 L630.3,449.8 L635.4,449.8 L640.5,449.8 L645.6,449.7 L650.8,449.7 L655.9,449.7 L661.0,449.7 L666.1,449.6 L671.2,449.6 L676.3,449.6 L681.4,449.6 L686.5,449.6 L691.6,449.5 L696.7,449.5 L701.8,449.5 L707.0,449.5 L712.1,449.4 L717.2,449.4 L722.3,449.4 L727.4,449.4 L732.5,449.4 L737.6,449.4 L742.7,449.4 L747.8,449.3 L752.9,449.3 L758.1,449.3 L763.2,449.3 L768.3,449.3 L773.4,449.3 L778.5,449.3 L783.6,449.3 L788.7,449.3 L793.8,449.3 L798.9,449.3 L804.0,449.3 L809.0,449.3 L814.1,449.3 L819.2,449.3 L824.3,449.3 L829.4,449.3 L834.5,449.3 L839.6,449.3 L844.7,449.3 L849.7,449.3 L854.8,449.3 L859.9,449.3 L865.0,449.3 L870.1,449.3 L875.2,449.3 L880.3,449.3 L885.4,449.3 L890.4,449.3 L895.5,449.3 L900.6,449.3 L905.7,449.3 L910.8,449.3 L915.9,449.3 L921.0,449.3 L926.1,449.3 L931.1,449.3 L936.2,449.3 L941.3,449.3 L946.4,449.3 L951.5,449.3 L956.6,449.3 L961.7,449.3 L966.8,449.3 L971.8,449.3 L976.9,449.3 L982.0,449.3 L987.1,449.3 L992.2,449.3"/>
<path d="M145.7,449.9 L150.8,449.9 L155.9,449.9 L161.0,449.9 L166.1,450.0 L171.2,450.0 L176.3,450.1 L181.4,450.1 L186.5,450.2 L191.6,450.3 L196.7,450.4 L201.8,450.4 L206.9,450.5 L212.0,450.6 L217.1,450.8 L222.2,450.9 L227.3,451.0 L232.4,451.1 L237.5,451.2 L242.6,451.3 L247.7,451.5 L252.8,451.6 L258.0,451.7 L263.1,451.9 L268.2,452.0 L273.3,452.1 L278.4,452.2 L283.5,452.3 L288.6,452.4 L293.7,452.6 L298.8,452.7 L303.9,452.8 L309.0,452.8 L314.1,452.9 L319.2,453.0 L324.3,453.1 L329.4,453.1 L334.5,453.2 L339.6,453.2 L344.7,453.3 L349.8,453.3 L354.9,453.3 L360.0,453.3 L365.1,453.3 L370.2,453.3 L375.3,453.3 L380.4,453.3 L385.5,453.3 L390.6,453.3 L395.7,453.3 L400.8,453.4 L405.9,453.4 L411.0,453.4 L416.1,453.4 L421.2,453.4 L426.3,453.4 L431.4,453.5 L436.5,453.5 L441.6,453.5 L446.7,453.5 L451.8,453.5 L456.9,453.6 L462.0,453.6 L467.0,453.6 L472.1,453.6 L477.2,453.7 L482.3,453.7 L487.4,453.7 L492.5,453.7 L497.6,453.7 L502.7,453.8 L507.8,453.8 L512.9,453.8 L518.0,453.8 L523.1,453.8 L528.2,453.8 L533.3,453.9 L538.4,453.9 L543.5,453.9 L548.6,453.9 L553.7,453.9 L558.8,453.9 L563.9,453.9 L569.0,453.9 L574.1,453.9 L579.2,453.9 L584.3,453.8 L589.4,453.8 L594.5,453.8 L599.7,453.7 L604.8,453.6 L609.9,453.6 L615.0,453.5 L620.1,453.4 L625.2,453.3 L630.3,453.1 L635.4,453.0 L640.5,452.9 L645.6,452.8 L650.8,452.6 L655.9,452.5 L661.0,452.3 L666.1,452.2 L671.2,452.0 L676.3,451.9 L681.4,451.8 L686.5,451.6 L691.6,451.5 L696.7,451.3 L701.8,451.2 L707.0,451.0 L712.1,450.9 L717.2,450.8 L722.3,450.7 L727.4,450.5 L732.5,450.4 L737.6,450.3 L742.7,450.2 L747.8,450.2 L752.9,450.1 L758.1,450.0 L763.2,450.0 L768.3,450.0 L773.4,449.9 L778.5,449.9 L783.6,449.9 L788.7,449.9 L793.8,449.9 L798.9,449.9 L804.0,449.9 L809.0,449.9 L814.1,449.9 L819.2,449.9 L824.3,449.9 L829.4,449.9 L834.5,449.9 L839.6,449.9 L844.7,449.9 L849.7,449.9 L854.8,449.9 L859.9,449.9 L865.0,449.9 L870.1,449.9 L875.2,449.9 L880.3,449.9 L885.4,449.9 L890.4,449.9 L895.5,449.9 L900.6,449.9 L905.7,449.9 L910.8,449.9 L915.9,449.9 L921.0,449.9 L926.1,449.9 L931.1,449.9 L936.2,449.9 L941.3,449.9 L946.4,449.9 L951.5,449.9 L956.6,449.9 L961.7,449.9 L966.8,449.9 L971.8,449.9 L976.9,449.9 L982.0,449.9 L987.1,449.9 L992.2,449.9"/>
<path d="M145.7,456.2 L150.8,456.2 L155.9,456.2 L161.0,456.2 L166.1,456.3 L171.2,456.3 L176.3,456.3 L181.4,456.4 L186.5,456.4 L191.6,456.5 L196.7,456.5 L201.8,456.6 L206.9,456.6 L212.0,456.7 L217.1,456.8 L222.2,456.9 L227.3,456.9 L232.4,457.0 L237.5,457.1 L242.6,457.2 L247.7,457.3 L252.8,457.3 L258.0,457.4 L263.1,457.5 L268.2,457.6 L273.3,457.7 L278.4,457.8 L283.5,457.8 L288.6,457.9 L293.7,458.0 L298.8,458.1 L303.9,458.1 L309.0,458.2 L314.1,458.2 L319.2,458.3 L324.3,458.3 L329.4,458.4 L334.5,458.4 L339.6,458.4 L344.7,458.5 L349.8,458.5 L354.9,458.5 L360.0,458.5 L365.1,458.5 L370.2,458.5 L375.3,458.5 L380.4,458.5 L385.5,458.5 L390.6,458.5 L395.7,458.5 L400.8,458.5 L405.9,458.5 L411.0,458.5 L416.1,458.5 L421.2,458.5 L426.3,458.5 L431.4,458.5 L436.5,458.5 L441.6,458.5 L446.7,458.5 L451.8,458.5 L456.9,458.5 L462.0,458.5 L467.0,458.5 L472.1,458.5 L477.2,458.5 L482.3,458.5 L487.4,458.5 L492.5,458.5 L497.6,458.5 L502.7,458.5 L507.8,458.5 L512.9,458.5 L518.0,458.5 L523.1,458.5 L528.2,458.5 L533.3,458.5 L538.4,458.5 L543.5,458.5 L548.6,458.5 L553.7,458.5 L558.8,458.5 L563.9,458.5 L569.0,458.5 L574.1,458.5 L579.2,458.5 L584.3,458.5 L589.4,458.4 L594.5,458.4 L599.7,458.4 L604.8,458.3 L609.9,458.3 L615.0,458.2 L620.1,458.2 L625.2,458.1 L630.3,458.1 L635.4,458.0 L640.5,457.9 L645.6,457.8 L650.8,457.8 L655.9,457.7 L661.0,457.6 L666.1,457.5 L671.2,457.4 L676.3,457.4 L681.4,457.3 L686.5,457.2 L691.6,457.1 L696.7,457.0 L701.8,456.9 L707.0,456.9 L712.1,456.8 L717.2,456.7 L722.3,456.6 L727.4,456.6 L732.5,456.5 L737.6,456.5 L742.7,456.4 L747.8,456.4 L752.9,456.3 L758.1,456.3 L763.2,456.3 L768.3,456.2 L773.4,456.2 L778.5,456.2 L783.6,456.2 L788.7,456.2 L793.8,456.2 L798.9,456.2 L804.0,456.2 L809.0,456.2 L814.1,456.2 L819.2,456.2 L824.3,456.2 L829.4,456.2 L834.5,456.2 L839.6,456.2 L844.7,456.2 L849.7,456.2 L854.8,456.2 L859.9,456.2 L865.0,456.2 L870.1,456.2 L875.2,456.2 L880.3,456.2 L885.4,456.2 L890.4,456.2 L895.5,456.2 L900.6,456.2 L905.7,456.2 L910.8,456.2 L915.9,456.2 L921.0,456.2 L926.1,456.2 L931.1,456.2 L936.2,456.2 L941.3,456.2 L946.4,456.2 L951.5,456.2 L956.6,456.2 L961.7,456.2 L966.8,456.2 L971.8,456.2 L976.9,456.2 L982.0,456.2 L987.1,456.2 L992.2,456.2"/>
<path d="M145.7,506.4 L150.8,506.4 L155.9,506.4 L161.0,506.4 L166.1,506.4 L171.2,506.4 L176.3,506.4 L181.4,506.4 L186.5,506.3 L191.6,506.3 L196.7,506.3 L201.8,506.3 L206.9,506.3 L212.0,506.2 L217.1,506.2 L222.2,506.2 L227.3,506.2 L232.4,506.2 L237.5,506.1 L242.6,506.1 L247.7,506.1 L252.8,506.1 L258.0,506.0 L263.1,506.0 L268.2,506.0 L273.3,505.9 L278.4,505.9 L283.5,505.9 L288.6,505.9 L293.7,505.9 L298.8,505.8 L303.9,505.8 L309.0,505.8 L314.1,505.8 L319.2,505.8 L324.3,505.7 L329.4,505.7 L334.5,505.7 L339.6,505.7 L344.7,505.7 L349.8,505.7 L354.9,505.7 L360.0,505.7 L365.1,505.7 L370.2,505.7 L375.3,505.7 L380.4,505.7 L385.5,505.8 L390.6,505.8 L395.7,505.8 L400.8,505.8 L405.9,505.9 L411.0,505.9 L416.1,505.9 L421.2,506.0 L426.3,506.0 L431.4,506.1 L436.5,506.1 L441.6,506.2 L446.7,506.2 L451.8,506.3 L456.9,506.3 L462.0,506.4 L467.0,506.4 L472.1,506.5 L477.2,506.5 L482.3,506.6 L487.4,506.6 L492.5,506.7 L497.6,506.7 L502.7,506.8 L507.8,506.8 L512.9,506.9 L518.0,506.9 L523.1,506.9 L528.2,507.0 L533.3,507.0 L538.4,507.0 L543.5,507.0 L548.6,507.1 L553.7,507.1 L558.8,507.1 L563.9,507.1 L569.0,507.1 L574.1,507.1 L579.2,507.1 L584.3,507.1 L589.4,507.1 L594.5,507.1 L599.7,507.1 L604.8,507.1 L609.9,507.1 L615.0,507.1 L620.1,507.1 L625.2,507.1 L630.3,507.1 L635.4,507.1 L640.5,507.1 L645.6,507.1 L650.8,507.1 L655.9,507.1 L661.0,507.1 L666.1,507.1 L671.2,507.1 L676.3,507.1 L681.4,507.0 L686.5,507.0 L691.6,507.0 L696.7,507.0 L701.8,507.0 L707.0,507.0 L712.1,507.0 L717.2,507.0 L722.3,507.0 L727.4,507.0 L732.5,507.0 L737.6,507.0 L742.7,507.0 L747.8,507.0 L752.9,507.0 L758.1,507.0 L763.2,507.0 L768.3,507.0 L773.4,507.0 L778.5,507.0 L783.6,507.0 L788.7,507.0 L793.8,507.0 L798.9,507.0 L804.0,507.0 L809.0,507.0 L814.1,507.0 L819.2,507.0 L824.3,506.9 L829.4,506.9 L834.5,506.9 L839.6,506.9 L844.7,506.9 L849.7,506.9 L854.8,506.8 L859.9,506.8 L865.0,506.8 L870.1,506.8 L875.2,506.8 L880.3,506.7 L885.4,506.7 L890.4,506.7 L895.5,506.7 L900.6,506.6 L905.7,506.6 L910.8,506.6 L915.9,506.6 L921.0,506.6 L926.1,506.5 L931.1,506.5 L936.2,506.5 L941.3,506.5 L946.4,506.5 L951.5,506.5 L956.6,506.4 L961.7,506.4 L966.8,506.4 L971.8,506.4 L976.9,506.4 L982.0,506.4 L987.1,506.4 L992.2,506.4"/>
<path d="M145.7,507.8 L150.8,507.8 L155.9,507.8 L161.0,507.8 L166.1,507.8 L171.2,507.8 L176.3,507.8 L181.4,507.8 L186.5,507.7 L191.6,507.7 L196.7,507.7 L201.8,507.7 L206.9,507.7 L212.0,507.6 L217.1,507.6 L222.2,507.6 L227.3,507.6 L232.4,507.6 L237.5,507.5 L242.6,507.5 L247.7,507.5 L252.8,507.5 L258.0,507.4 L263.1,507.4 L268.2,507.4 L273.3,507.3 L278.4,507.3 L283.5,507.3 L288.6,507.3 L293.7,507.3 L298.8,507.2 L303.9,507.2 L309.0,507.2 L314.1,507.2 L319.2,507.2 L324.3,507.1 L329.4,507.1 L334.5,507.1 L339.6,507.1 L344.7,507.1 L349.8,507.1 L354.9,507.1 L360.0,507.1 L365.1,507.1 L370.2,507.1 L375.3,507.1 L380.4,507.1 L385.5,507.2 L390.6,507.2 L395.7,507.2 L400.8,507.2 L405.9,507.3 L411.0,507.3 L416.1,507.3 L421.2,507.4 L426.3,507.4 L431.4,507.5 L436.5,507.5 L441.6,507.6 L446.7,507.6 L451.8,507.7 L456.9,507.7 L462.0,507.8 L467.0,507.8 L472.1,507.9 L477.2,507.9 L482.3,508.0 L487.4,508.0 L492.5,508.1 L497.6,508.1 L502.7,508.2 L507.8,508.2 L512.9,508.3 L518.0,508.3 L523.1,508.3 L528.2,508.4 L533.3,508.4 L538.4,508.4 L543.5,508.4 L548.6,508.5 L553.7,508.5 L558.8,508.5 L563.9,508.5 L569.0,508.5 L574.1,508.5 L579.2,508.5 L584.3,508.5 L589.4,508.5 L594.5,508.5 L599.7,508.5 L604.8,508.5 L609.9,508.5 L615.0,508.5 L620.1,508.5 L625.2,508.5 L630.3,508.5 L635.4,508.5 L640.5,508.5 L645.6,508.5 L650.8,508.5 L655.9,508.5 L661.0,508.5 L666.1,508.5 L671.2,508.5 L676.3,508.5 L681.4,508.5 L686.5,508.5 L691.6,508.5 L696.7,508.5 L701.8,508.5 L707.0,508.5 L712.1,508.5 L717.2,508.5 L722.3,508.5 L727.4,508.5 L732.5,508.5 L737.6,508.5 L742.7,508.5 L747.8,508.5 L752.9,508.5 L758.1,508.5 L763.2,508.5 L768.3,508.5 L773.4,508.5 L778.5,508.5 L783.6,508.5 L788.7,508.5 L793.8,508.5 L798.9,508.5 L804.0,508.5 L809.0,508.5 L814.1,508.5 L819.2,508.5 L824.3,508.4 L829.4,508.4 L834.5,508.4 L839.6,508.4 L844.7,508.4 L849.7,508.3 L854.8,508.3 L859.9,508.3 L865.0,508.3 L870.1,508.2 L875.2,508.2 L880.3,508.2 L885.4,508.2 L890.4,508.1 L895.5,508.1 L900.6,508.1 L905.7,508.1 L910.8,508.0 L915.9,508.0 L921.0,508.0 L926.1,508.0 L931.1,507.9 L936.2,507.9 L941.3,507.9 L946.4,507.9 L951.5,507.9 L956.6,507.8 L961.7,507.8 L966.8,507.8 L971.8,507.8 L976.9,507.8 L982.0,507.8 L987.1,507.8 L992.2,507.8"/>
<path d="M145.7,509.2 L150.8,509.2 L155.9,509.2 L161.0,509.2 L166.1,509.2 L171.2,509.2 L176.3,509.2 L181.4,509.2 L186.5,509.2 L191.6,509.2 L196.7,509.2 L201.8,509.2 L206.9,509.2 L212.0,509.2 L217.1,509.2 L222.2,509.2 L227.3,509.2 L232.4,509.2 L237.5,509.2 L242.6,509.2 L247.7,509.2 L252.8,509.2 L258.0,509.2 L263.1,509.2 L268.2,509.2 L273.3,509.2 L278.4,509.2 L283.5,509.2 L288.6,509.2 L293.7,509.2 L298.8,509.2 L303.9,509.2 L309.0,509.2 L314.1,509.2 L319.2,509.2 L324.3,509.2 L329.4,509.2 L334.5,509.2 L339.6,509.2 L344.7,509.2 L349.8,509.2 L354.9,509.2 L360.0,509.2 L365.1,509.2 L370.2,509.2 L375.3,509.2 L380.4,509.2 L385.5,509.2 L390.6,509.2 L395.7,509.3 L400.8,509.3 L405.9,509.3 L411.0,509.3 L416.1,509.3 L421.2,509.4 L426.3,509.4 L431.4,509.4 L436.5,509.4 L441.6,509.5 L446.7,509.5 L451.8,509.5 L456.9,509.6 L462.0,509.6 L467.0,509.6 L472.1,509.6 L477.2,509.7 L482.3,509.7 L487.4,509.7 L492.5,509.8 L497.6,509.8 L502.7,509.8 L507.8,509.8 L512.9,509.9 L518.0,509.9 L523.1,509.9 L528.2,509.9 L533.3,509.9 L538.4,510.0 L543.5,510.0 L548.6,510.0 L553.7,510.0 L558.8,510.0 L563.9,510.0 L569.0,510.0 L574.1,510.0 L579.2,510.0 L584.3,510.0 L589.4,510.0 L594.5,510.0 L599.7,510.0 L604.8,510.0 L609.9,510.0 L615.0,510.0 L620.1,510.0 L625.2,510.0 L630.3,510.0 L635.4,510.0 L640.5,510.0 L645.6,510.0 L650.8,510.0 L655.9,510.0 L661.0,510.0 L666.1,510.0 L671.2,510.0 L676.3,510.0 L681.4,510.0 L686.5,510.0 L691.6,510.0 L696.7,510.0 L701.8,510.0 L707.0,510.0 L712.1,510.0 L717.2,510.0 L722.3,510.0 L727.4,510.0 L732.5,510.0 L737.6,510.0 L742.7,510.0 L747.8,510.0 L752.9,510.0 L758.1,510.0 L763.2,510.0 L768.3,510.0 L773.4,510.0 L778.5,510.0 L783.6,510.0 L788.7,510.0 L793.8,510.0 L798.9,510.0 L804.0,510.0 L809.0,510.0 L814.1,510.0 L819.2,509.9 L824.3,509.9 L829.4,509.9 L834.5,509.9 L839.6,509.9 L844.7,509.8 L849.7,509.8 L854.8,509.8 L859.9,509.8 L865.0,509.7 L870.1,509.7 L875.2,509.7 L880.3,509.6 L885.4,509.6 L890.4,509.6 L895.5,509.6 L900.6,509.5 L905.7,509.5 L910.8,509.5 L915.9,509.4 L921.0,509.4 L926.1,509.4 L931.1,509.4 L936.2,509.3 L941.3,509.3 L946.4,509.3 L951.5,509.3 L956.6,509.3 L961.7,509.2 L966.8,509.2 L971.8,509.2 L976.9,509.2 L982.0,509.2 L987.1,509.2 L992.2,509.2"/>
<path d="M145.7,510.5 L150.8,510.5 L155.9,510.5 L161.0,510.5 L166.1,510.5 L171.2,510.5 L176.3,510.5 L181.4,510.5 L186.5,510.6 L191.6,510.6 L196.7,510.6 L201.8,510.6 L206.9,510.6 L212.0,510.7 L217.1,510.7 L222.2,510.7 L227.3,510.7 L232.4,510.7 L237.5,510.8 L242.6,510.8 L247.7,510.8 L252.8,510.8 L258.0,510.9 L263.1,510.9 L268.2,510.9 L273.3,511.0 L278.4,511.0 L283.5,511.0 L288.6,511.0 L293.7,511.0 L298.8,511.1 L303.9,511.1 L309.0,511.1 L314.1,511.1 L319.2,511.1 L324.3,511.2 L329.4,511.2 L334.5,511.2 L339.6,511.2 L344.7,511.2 L349.8,511.2 L354.9,511.2 L360.0,511.2 L365.1,511.2 L370.2,511.2 L375.3,511.2 L380.4,511.2 L385.5,511.2 L390.6,511.2 L395.7,511.2 L400.8,511.2 L405.9,511.2 L411.0,511.2 L416.1,511.3 L421.2,511.3 L426.3,511.3 L431.4,511.3 L436.5,511.3 L441.6,511.3 L446.7,511.3 L451.8,511.3 L456.9,511.3 L462.0,511.3 L467.0,511.4 L472.1,511.4 L477.2,511.4 L482.3,511.4 L487.4,511.4 L492.5,511.4 L497.6,511.4 L502.7,511.4 L507.8,511.4 L512.9,511.4 L518.0,511.5 L523.1,511.5 L528.2,511.5 L533.3,511.5 L538.4,511.5 L543.5,511.5 L548.6,511.5 L553.7,511.5 L558.8,511.5 L563.9,511.5 L569.0,511.5 L574.1,511.5 L579.2,511.5 L584.3,511.5 L589.4,511.5 L594.5,511.5 L599.7,511.5 L604.8,511.5 L609.9,511.5 L615.0,511.5 L620.1,511.5 L625.2,511.5 L630.3,511.5 L635.4,511.5 L640.5,511.5 L645.6,511.5 L650.8,511.5 L655.9,511.5 L661.0,511.5 L666.1,511.5 L671.2,511.5 L676.3,511.5 L681.4,511.5 L686.5,511.5 L691.6,511.5 L696.7,511.5 L701.8,511.5 L707.0,511.5 L712.1,511.5 L717.2,511.5 L722.3,511.5 L727.4,511.5 L732.5,511.5 L737.6,511.5 L742.7,511.5 L747.8,511.5 L752.9,511.5 L758.1,511.5 L763.2,511.5 L768.3,511.5 L773.4,511.5 L778.5,511.5 L783.6,511.5 L788.7,511.5 L793.8,511.5 L798.9,511.5 L804.0,511.5 L809.0,511.5 L814.1,511.4 L819.2,511.4 L824.3,511.4 L829.4,511.4 L834.5,511.4 L839.6,511.3 L844.7,511.3 L849.7,511.3 L854.8,511.2 L859.9,511.2 L865.0,511.2 L870.1,511.1 L875.2,511.1 L880.3,511.1 L885.4,511.0 L890.4,511.0 L895.5,510.9 L900.6,510.9 L905.7,510.9 L910.8,510.8 L915.9,510.8 L921.0,510.8 L926.1,510.7 L931.1,510.7 L936.2,510.7 L941.3,510.6 L946.4,510.6 L951.5,510.6 L956.6,510.6 L961.7,510.6 L966.8,510.5 L971.8,510.5 L976.9,510.5 L982.0,510.5 L987.1,510.5 L992.2,510.5"/>
<path d="M145.7,513.3 L150.8,513.3 L155.9,513.3 L161.0,513.3 L166.1,513.3 L171.2,513.3 L176.3,513.3 L181.4,513.3 L186.5,513.4 L191.6,513.4 L196.7,513.4 L201.8,513.4 L206.9,513.4 L212.0,513.4 L217.1,513.4 L222.2,513.5 L227.3,513.5 L232.4,513.5 L237.5,513.5 L242.6,513.6 L247.7,513.6 L252.8,513.6 L258.0,513.6 L263.1,513.6 L268.2,513.7 L273.3,513.7 L278.4,513.7 L283.5,513.7 L288.6,513.8 L293.7,513.8 L298.8,513.8 L303.9,513.8 L309.0,513.8 L314.1,513.8 L319.2,513.8 L324.3,513.9 L329.4,513.9 L334.5,513.9 L339.6,513.9 L344.7,513.9 L349.8,513.9 L354.9,513.9 L360.0,513.9 L365.1,513.9 L370.2,513.9 L375.3,513.9 L380.4,513.9 L385.5,513.9 L390.6,513.9 L395.7,513.9 L400.8,513.8 L405.9,513.8 L411.0,513.8 L416.1,513.8 L421.2,513.8 L426.3,513.8 L431.4,513.7 L436.5,513.7 L441.6,513.7 L446.7,513.7 L451.8,513.7 L456.9,513.6 L462.0,513.6 L467.0,513.6 L472.1,513.6 L477.2,513.5 L482.3,513.5 L487.4,513.5 L492.5,513.5 L497.6,513.5 L502.7,513.4 L507.8,513.4 L512.9,513.4 L518.0,513.4 L523.1,513.4 L528.2,513.4 L533.3,513.3 L538.4,513.3 L543.5,513.3 L548.6,513.3 L553.7,513.3 L558.8,513.3 L563.9,513.3 L569.0,513.3 L574.1,513.3 L579.2,513.3 L584.3,513.3 L589.4,513.3 L594.5,513.3 L599.7,513.3 L604.8,513.3 L609.9,513.3 L615.0,513.3 L620.1,513.3 L625.2,513.3 L630.3,513.2 L635.4,513.2 L640.5,513.2 L645.6,513.2 L650.8,513.2 L655.9,513.2 L661.0,513.2 L666.1,513.2 L671.2,513.2 L676.3,513.1 L681.4,513.1 L686.5,513.1 L691.6,513.1 L696.7,513.1 L701.8,513.1 L707.0,513.1 L712.1,513.1 L717.2,513.1 L722.3,513.1 L727.4,513.0 L732.5,513.0 L737.6,513.0 L742.7,513.0 L747.8,513.0 L752.9,513.0 L758.1,513.0 L763.2,513.0 L768.3,513.0 L773.4,513.0 L778.5,513.0 L783.6,513.0 L788.7,513.0 L793.8,513.0 L798.9,513.0 L804.0,513.0 L809.0,513.0 L814.1,513.1 L819.2,513.1 L824.3,513.1 L829.4,513.1 L834.5,513.1 L839.6,513.2 L844.7,513.2 L849.7,513.2 L854.8,513.3 L859.9,513.3 L865.0,513.3 L870.1,513.4 L875.2,513.4 L880.3,513.4 L885.4,513.5 L890.4,513.5 L895.5,513.6 L900.6,513.6 L905.7,513.6 L910.8,513.7 L915.9,513.7 L921.0,513.7 L926.1,513.8 L931.1,513.8 L936.2,513.8 L941.3,513.9 L946.4,513.9 L951.5,513.9 L956.6,513.9 L961.7,513.9 L966.8,514.0 L971.8,514.0 L976.9,514.0 L982.0,514.0 L987.1,514.0 L992.2,514.0"/>
<path d="M145.7,518.0 L150.8,518.0 L155.9,518.0 L161.0,518.0 L166.1,518.0 L171.2,518.0 L176.3,518.0 L181.4,518.0 L186.5,517.9 L191.6,517.9 L196.7,517.9 L201.8,517.9 L206.9,517.9 L212.0,517.9 L217.1,517.9 L222.2,517.8 L227.3,517.8 L232.4,517.8 L237.5,517.8 L242.6,517.7 L247.7,517.7 L252.8,517.7 L258.0,517.7 L263.1,517.7 L268.2,517.6 L273.3,517.6 L278.4,517.6 L283.5,517.6 L288.6,517.5 L293.7,517.5 L298.8,517.5 L303.9,517.5 L309.0,517.5 L314.1,517.5 L319.2,517.5 L324.3,517.4 L329.4,517.4 L334.5,517.4 L339.6,517.4 L344.7,517.4 L349.8,517.4 L354.9,517.4 L360.0,517.4 L365.1,517.4 L370.2,517.4 L375.3,517.4 L380.4,517.3 L385.5,517.3 L390.6,517.2 L395.7,517.2 L400.8,517.1 L405.9,517.1 L411.0,517.0 L416.1,516.9 L421.2,516.8 L426.3,516.7 L431.4,516.6 L436.5,516.5 L441.6,516.4 L446.7,516.3 L451.8,516.2 L456.9,516.1 L462.0,516.0 L467.0,515.9 L472.1,515.8 L477.2,515.7 L482.3,515.6 L487.4,515.5 L492.5,515.4 L497.6,515.3 L502.7,515.2 L507.8,515.1 L512.9,515.0 L518.0,514.9 L523.1,514.8 L528.2,514.8 L533.3,514.7 L538.4,514.7 L543.5,514.6 L548.6,514.6 L553.7,514.5 L558.8,514.5 L563.9,514.5 L569.0,514.5 L574.1,514.5 L579.2,514.5 L584.3,514.5 L589.4,514.5 L594.5,514.6 L599.7,514.6 L604.8,514.6 L609.9,514.6 L615.0,514.7 L620.1,514.7 L625.2,514.7 L630.3,514.8 L635.4,514.8 L640.5,514.9 L645.6,514.9 L650.8,515.0 L655.9,515.0 L661.0,515.1 L666.1,515.1 L671.2,515.2 L676.3,515.2 L681.4,515.3 L686.5,515.4 L691.6,515.4 L696.7,515.5 L701.8,515.5 L707.0,515.6 L712.1,515.6 L717.2,515.7 L722.3,515.7 L727.4,515.8 L732.5,515.8 L737.6,515.8 L742.7,515.9 L747.8,515.9 L752.9,515.9 L758.1,515.9 L763.2,516.0 L768.3,516.0 L773.4,516.0 L778.5,516.0 L783.6,516.0 L788.7,516.0 L793.8,516.0 L798.9,516.0 L804.0,516.0 L809.0,516.1 L814.1,516.1 L819.2,516.1 L824.3,516.2 L829.4,516.2 L834.5,516.3 L839.6,516.3 L844.7,516.4 L849.7,516.5 L854.8,516.5 L859.9,516.6 L865.0,516.7 L870.1,516.7 L875.2,516.8 L880.3,516.9 L885.4,517.0 L890.4,517.0 L895.5,517.1 L900.6,517.2 L905.7,517.3 L910.8,517.3 L915.9,517.4 L921.0,517.5 L926.1,517.5 L931.1,517.6 L936.2,517.7 L941.3,517.7 L946.4,517.8 L951.5,517.8 L956.6,517.9 L961.7,517.9 L966.8,517.9 L971.8,518.0 L976.9,518.0 L982.0,518.0 L987.1,518.0 L992.2,518.0"/>
<path d="M145.7,520.8 L150.8,520.8 L155.9,520.8 L161.0,520.8 L166.1,520.8 L171.2,520.8 L176.3,520.7 L181.4,520.7 L186.5,520.7 L191.6,520.6 L196.7,520.6 L201.8,520.6 L206.9,520.5 L212.0,520.5 L217.1,520.4 L222.2,520.4 L227.3,520.4 L232.4,520.3 L237.5,520.3 L242.6,520.2 L247.7,520.2 L252.8,520.1 L258.0,520.0 L263.1,520.0 L268.2,519.9 L273.3,519.9 L278.4,519.8 L283.5,519.8 L288.6,519.8 L293.7,519.7 L298.8,519.7 L303.9,519.6 L309.0,519.6 L314.1,519.6 L319.2,519.5 L324.3,519.5 L329.4,519.5 L334.5,519.4 L339.6,519.4 L344.7,519.4 L349.8,519.4 L354.9,519.4 L360.0,519.4 L365.1,519.4 L370.2,519.4 L375.3,519.4 L380.4,519.3 L385.5,519.3 L390.6,519.2 L395.7,519.2 L400.8,519.1 L405.9,519.0 L411.0,518.9 L416.1,518.8 L421.2,518.7 L426.3,518.6 L431.4,518.5 L436.5,518.4 L441.6,518.3 L446.7,518.2 L451.8,518.0 L456.9,517.9 L462.0,517.8 L467.0,517.6 L472.1,517.5 L477.2,517.4 L482.3,517.2 L487.4,517.1 L492.5,517.0 L497.6,516.9 L502.7,516.8 L507.8,516.7 L512.9,516.6 L518.0,516.5 L523.1,516.4 L528.2,516.3 L533.3,516.2 L538.4,516.2 L543.5,516.1 L548.6,516.1 L553.7,516.0 L558.8,516.0 L563.9,516.0 L569.0,516.0 L574.1,516.0 L579.2,516.0 L584.3,516.0 L589.4,516.1 L594.5,516.1 L599.7,516.2 L604.8,516.2 L609.9,516.3 L615.0,516.4 L620.1,516.5 L625.2,516.5 L630.3,516.6 L635.4,516.7 L640.5,516.9 L645.6,517.0 L650.8,517.1 L655.9,517.2 L661.0,517.3 L666.1,517.4 L671.2,517.6 L676.3,517.7 L681.4,517.8 L686.5,518.0 L691.6,518.1 L696.7,518.2 L701.8,518.3 L707.0,518.4 L712.1,518.5 L717.2,518.7 L722.3,518.8 L727.4,518.9 L732.5,518.9 L737.6,519.0 L742.7,519.1 L747.8,519.2 L752.9,519.2 L758.1,519.3 L763.2,519.3 L768.3,519.4 L773.4,519.4 L778.5,519.4 L783.6,519.4 L788.7,519.4 L793.8,519.4 L798.9,519.4 L804.0,519.4 L809.0,519.4 L814.1,519.4 L819.2,519.4 L824.3,519.4 L829.4,519.4 L834.5,519.4 L839.6,519.4 L844.7,519.4 L849.7,519.4 L854.8,519.4 L859.9,519.4 L865.0,519.4 L870.1,519.4 L875.2,519.4 L880.3,519.4 L885.4,519.4 L890.4,519.4 L895.5,519.4 L900.6,519.4 L905.7,519.4 L910.8,519.4 L915.9,519.4 L921.0,519.4 L926.1,519.4 L931.1,519.4 L936.2,519.4 L941.3,519.4 L946.4,519.4 L951.5,519.4 L956.6,519.4 L961.7,519.4 L966.8,519.4 L971.8,519.4 L976.9,519.4 L982.0,519.4 L987.1,519.4 L992.2,519.4"/>
<path d="M145.7,522.8 L150.8,522.8 L155.9,522.8 L161.0,522.8 L166.1,522.8 L171.2,522.8 L176.3,522.8 L181.4,522.8 L186.5,522.7 L191.6,522.7 L196.7,522.7 L201.8,522.7 L206.9,522.7 L212.0,522.7 L217.1,522.6 L222.2,522.6 L227.3,522.6 L232.4,522.6 L237.5,522.6 L242.6,522.5 L247.7,522.5 L252.8,522.5 L258.0,522.5 L263.1,522.5 L268.2,522.4 L273.3,522.4 L278.4,522.4 L283.5,522.4 L288.6,522.4 L293.7,522.3 L298.8,522.3 L303.9,522.3 L309.0,522.3 L314.1,522.3 L319.2,522.3 L324.3,522.2 L329.4,522.2 L334.5,522.2 L339.6,522.2 L344.7,522.2 L349.8,522.2 L354.9,522.2 L360.0,522.2 L365.1,522.2 L370.2,522.2 L375.3,522.2 L380.4,522.2 L385.5,522.2 L390.6,522.2 L395.7,522.2 L400.8,522.1 L405.9,522.1 L411.0,522.1 L416.1,522.1 L421.2,522.1 L426.3,522.0 L431.4,522.0 L436.5,522.0 L441.6,522.0 L446.7,521.9 L451.8,521.9 L456.9,521.9 L462.0,521.9 L467.0,521.8 L472.1,521.8 L477.2,521.8 L482.3,521.8 L487.4,521.7 L492.5,521.7 L497.6,521.7 L502.7,521.7 L507.8,521.6 L512.9,521.6 L518.0,521.6 L523.1,521.6 L528.2,521.6 L533.3,521.5 L538.4,521.5 L543.5,521.5 L548.6,521.5 L553.7,521.5 L558.8,521.5 L563.9,521.5 L569.0,521.5 L574.1,521.5 L579.2,521.5 L584.3,521.5 L589.4,521.5 L594.5,521.5 L599.7,521.5 L604.8,521.5 L609.9,521.5 L615.0,521.5 L620.1,521.5 L625.2,521.5 L630.3,521.5 L635.4,521.5 L640.5,521.5 L645.6,521.5 L650.8,521.5 L655.9,521.5 L661.0,521.5 L666.1,521.5 L671.2,521.5 L676.3,521.5 L681.4,521.5 L686.5,521.5 L691.6,521.5 L696.7,521.5 L701.8,521.5 L707.0,521.5 L712.1,521.5 L717.2,521.5 L722.3,521.5 L727.4,521.5 L732.5,521.5 L737.6,521.5 L742.7,521.5 L747.8,521.5 L752.9,521.5 L758.1,521.5 L763.2,521.5 L768.3,521.5 L773.4,521.5 L778.5,521.5 L783.6,521.5 L788.7,521.5 L793.8,521.5 L798.9,521.5 L804.0,521.5 L809.0,521.5 L814.1,521.5 L819.2,521.5 L824.3,521.5 L829.4,521.5 L834.5,521.5 L839.6,521.5 L844.7,521.5 L849.7,521.5 L854.8,521.5 L859.9,521.5 L865.0,521.5 L870.1,521.5 L875.2,521.5 L880.3,521.5 L885.4,521.5 L890.4,521.5 L895.5,521.5 L900.6,521.5 L905.7,521.5 L910.8,521.5 L915.9,521.5 L921.0,521.5 L926.1,521.5 L931.1,521.5 L936.2,521.5 L941.3,521.5 L946.4,521.5 L951.5,521.5 L956.6,521.5 L961.7,521.5 L966.8,521.5 L971.8,521.5 L976.9,521.5 L982.0,521.5 L987.1,521.5 L992.2,521.5"/>
<path d="M145.7,527.6 L150.8,527.6 L155.9,527.6 L161.0,527.6 L166.1,527.6 L171.2,527.6 L176.3,527.6 L181.4,527.6 L186.5,527.6 L191.6,527.6 L196.7,527.6 L201.8,527.6 L206.9,527.6 L212.0,527.6 L217.1,527.6 L222.2,527.6 L227.3,527.6 L232.4,527.6 L237.5,527.6 L242.6,527.6 L247.7,527.6 L252.8,527.6 L258.0,527.6 L263.1,527.6 L268.2,527.6 L273.3,527.6 L278.4,527.6 L283.5,527.6 L288.6,527.6 L293.7,527.6 L298.8,527.6 L303.9,527.6 L309.0,527.6 L314.1,527.6 L319.2,527.6 L324.3,527.6 L329.4,527.6 L334.5,527.6 L339.6,527.6 L344.7,527.6 L349.8,527.6 L354.9,527.6 L360.0,527.6 L365.1,527.6 L370.2,527.6 L375.3,527.5 L380.4,527.5 L385.5,527.5 L390.6,527.4 L395.7,527.3 L400.8,527.2 L405.9,527.1 L411.0,527.0 L416.1,526.9 L421.2,526.8 L426.3,526.7 L431.4,526.5 L436.5,526.4 L441.6,526.2 L446.7,526.1 L451.8,525.9 L456.9,525.8 L462.0,525.6 L467.0,525.5 L472.1,525.3 L477.2,525.2 L482.3,525.0 L487.4,524.9 L492.5,524.7 L497.6,524.6 L502.7,524.4 L507.8,524.3 L512.9,524.2 L518.0,524.1 L523.1,524.0 L528.2,523.9 L533.3,523.8 L538.4,523.7 L543.5,523.6 L548.6,523.6 L553.7,523.6 L558.8,523.5 L563.9,523.5 L569.0,523.5 L574.1,523.5 L579.2,523.5 L584.3,523.5 L589.4,523.5 L594.5,523.5 L599.7,523.6 L604.8,523.6 L609.9,523.6 L615.0,523.7 L620.1,523.7 L625.2,523.7 L630.3,523.8 L635.4,523.8 L640.5,523.9 L645.6,523.9 L650.8,523.9 L655.9,524.0 L661.0,524.0 L666.1,524.1 L671.2,524.1 L676.3,524.2 L681.4,524.3 L686.5,524.3 L691.6,524.4 L696.7,524.4 L701.8,524.5 L707.0,524.5 L712.1,524.5 L717.2,524.6 L722.3,524.6 L727.4,524.7 L732.5,524.7 L737.6,524.7 L742.7,524.8 L747.8,524.8 L752.9,524.8 L758.1,524.9 L763.2,524.9 L768.3,524.9 L773.4,524.9 L778.5,524.9 L783.6,524.9 L788.7,524.9 L793.8,524.9 L798.9,524.9 L804.0,524.9 L809.0,524.8 L814.1,524.8 L819.2,524.8 L824.3,524.8 L829.4,524.7 L834.5,524.7 L839.6,524.7 L844.7,524.6 L849.7,524.6 L854.8,524.5 L859.9,524.5 L865.0,524.4 L870.1,524.4 L875.2,524.3 L880.3,524.3 L885.4,524.2 L890.4,524.2 L895.5,524.1 L900.6,524.1 L905.7,524.0 L910.8,524.0 L915.9,523.9 L921.0,523.9 L926.1,523.8 L931.1,523.8 L936.2,523.7 L941.3,523.7 L946.4,523.7 L951.5,523.6 L956.6,523.6 L961.7,523.6 L966.8,523.6 L971.8,523.5 L976.9,523.5 L982.0,523.5 L987.1,523.5 L992.2,523.5"/>
<path d="M145.7,527.6 L150.8,527.6 L155.9,527.6 L161.0,527.6 L166.1,527.6 L171.2,527.5 L176.3,527.5 L181.4,527.5 L186.5,527.5 L191.6,527.4 L196.7,527.4 L201.8,527.3 L206.9,527.3 L212.0,527.3 L217.1,527.2 L222.2,527.1 L227.3,527.1 L232.4,527.0 L237.5,527.0 L242.6,526.9 L247.7,526.9 L252.8,526.8 L258.0,526.7 L263.1,526.7 L268.2,526.6 L273.3,526.6 L278.4,526.5 L283.5,526.5 L288.6,526.4 L293.7,526.3 L298.8,526.3 L303.9,526.3 L309.0,526.2 L314.1,526.2 L319.2,526.1 L324.3,526.1 L329.4,526.1 L334.5,526.1 L339.6,526.0 L344.7,526.0 L349.8,526.0 L354.9,526.0 L360.0,526.0 L365.1,526.0 L370.2,526.0 L375.3,526.0 L380.4,526.0 L385.5,526.0 L390.6,525.9 L395.7,525.9 L400.8,525.9 L405.9,525.9 L411.0,525.9 L416.1,525.8 L421.2,525.8 L426.3,525.8 L431.4,525.7 L436.5,525.7 L441.6,525.7 L446.7,525.6 L451.8,525.6 L456.9,525.6 L462.0,525.5 L467.0,525.5 L472.1,525.4 L477.2,525.4 L482.3,525.4 L487.4,525.3 L492.5,525.3 L497.6,525.3 L502.7,525.2 L507.8,525.2 L512.9,525.2 L518.0,525.1 L523.1,525.1 L528.2,525.1 L533.3,525.1 L538.4,525.1 L543.5,525.0 L548.6,525.0 L553.7,525.0 L558.8,525.0 L563.9,525.0 L569.0,525.0 L574.1,525.0 L579.2,525.0 L584.3,525.0 L589.4,525.0 L594.5,525.0 L599.7,525.1 L604.8,525.1 L609.9,525.1 L615.0,525.1 L620.1,525.2 L625.2,525.2 L630.3,525.2 L635.4,525.3 L640.5,525.3 L645.6,525.4 L650.8,525.4 L655.9,525.5 L661.0,525.5 L666.1,525.6 L671.2,525.6 L676.3,525.6 L681.4,525.7 L686.5,525.7 L691.6,525.8 L696.7,525.8 L701.8,525.9 L707.0,525.9 L712.1,526.0 L717.2,526.0 L722.3,526.1 L727.4,526.1 L732.5,526.1 L737.6,526.2 L742.7,526.2 L747.8,526.2 L752.9,526.2 L758.1,526.3 L763.2,526.3 L768.3,526.3 L773.4,526.3 L778.5,526.3 L783.6,526.3 L788.7,526.3 L793.8,526.3 L798.9,526.3 L804.0,526.3 L809.0,526.3 L814.1,526.3 L819.2,526.3 L824.3,526.4 L829.4,526.4 L834.5,526.4 L839.6,526.4 L844.7,526.4 L849.7,526.5 L854.8,526.5 L859.9,526.5 L865.0,526.5 L870.1,526.6 L875.2,526.6 L880.3,526.6 L885.4,526.6 L890.4,526.7 L895.5,526.7 L900.6,526.7 L905.7,526.7 L910.8,526.8 L915.9,526.8 L921.0,526.8 L926.1,526.8 L931.1,526.9 L936.2,526.9 L941.3,526.9 L946.4,526.9 L951.5,526.9 L956.6,527.0 L961.7,527.0 L966.8,527.0 L971.8,527.0 L976.9,527.0 L982.0,527.0 L987.1,527.0 L992.2,527.0"/>
<path d="M145.7,550.2 L150.8,550.2 L155.9,550.2 L161.0,550.2 L166.1,550.2 L171.2,550.2 L176.3,550.2 L181.4,550.2 L186.5,550.2 L191.6,550.2 L196.7,550.2 L201.8,550.2 L206.9,550.2 L212.0,550.2 L217.1,550.2 L222.2,550.2 L227.3,550.2 L232.4,550.2 L237.5,550.2 L242.6,550.2 L247.7,550.2 L252.8,550.2 L258.0,550.2 L263.1,550.2 L268.2,550.2 L273.3,550.2 L278.4,550.2 L283.5,550.2 L288.6,550.2 L293.7,550.2 L298.8,550.2 L303.9,550.2 L309.0,550.2 L314.1,550.2 L319.2,550.2 L324.3,550.2 L329.4,550.2 L334.5,550.2 L339.6,550.2 L344.7,550.2 L349.8,550.2 L354.9,550.2 L360.0,550.2 L365.1,550.2 L370.2,550.2 L375.3,550.2 L380.4,550.2 L385.5,550.2 L390.6,550.2 L395.7,550.2 L400.8,550.2 L405.9,550.2 L411.0,550.2 L416.1,550.2 L421.2,550.2 L426.3,550.2 L431.4,550.2 L436.5,550.2 L441.6,550.2 L446.7,550.2 L451.8,550.2 L456.9,550.2 L462.0,550.2 L467.0,550.2 L472.1,550.2 L477.2,550.2 L482.3,550.2 L487.4,550.2 L492.5,550.2 L497.6,550.2 L502.7,550.2 L507.8,550.2 L512.9,550.2 L518.0,550.2 L523.1,550.2 L528.2,550.2 L533.3,550.2 L538.4,550.2 L543.5,550.2 L548.6,550.2 L553.7,550.2 L558.8,550.2 L563.9,550.2 L569.0,550.2 L574.1,550.2 L579.2,550.2 L584.3,550.2 L589.4,550.2 L594.5,550.2 L599.7,550.2 L604.8,550.2 L609.9,550.2 L615.0,550.2 L620.1,550.2 L625.2,550.2 L630.3,550.2 L635.4,550.2 L640.5,550.2 L645.6,550.2 L650.8,550.2 L655.9,550.2 L661.0,550.2 L666.1,550.2 L671.2,550.2 L676.3,550.2 L681.4,550.2 L686.5,550.2 L691.6,550.2 L696.7,550.2 L701.8,550.2 L707.0,550.2 L712.1,550.2 L717.2,550.2 L722.3,550.2 L727.4,550.2 L732.5,550.2 L737.6,550.2 L742.7,550.2 L747.8,550.2 L752.9,550.2 L758.1,550.2 L763.2,550.2 L768.3,550.2 L773.4,550.2 L778.5,550.2 L783.6,550.2 L788.7,550.2 L793.8,550.2 L798.9,550.2 L804.0,550.2 L809.0,550.2 L814.1,550.2 L819.2,550.2 L824.3,550.1 L829.4,550.1 L834.5,550.1 L839.6,550.1 L844.7,550.1 L849.7,550.0 L854.8,550.0 L859.9,550.0 L865.0,550.0 L870.1,549.9 L875.2,549.9 L880.3,549.9 L885.4,549.9 L890.4,549.8 L895.5,549.8 L900.6,549.8 L905.7,549.8 L910.8,549.7 L915.9,549.7 L921.0,549.7 L926.1,549.7 L931.1,549.6 L936.2,549.6 L941.3,549.6 L946.4,549.6 L951.5,549.6 L956.6,549.5 L961.7,549.5 L966.8,549.5 L971.8,549.5 L976.9,549.5 L982.0,549.5 L987.1,549.5 L992.2,549.5"/>
<path d="M145.7,555.0 L150.8,555.0 L155.9,555.0 L161.0,555.0 L166.1,555.0 L171.2,555.0 L176.3,555.0 L181.4,555.0 L186.5,554.9 L191.6,554.9 L196.7,554.9 L201.8,554.9 L206.9,554.9 L212.0,554.8 L217.1,554.8 L222.2,554.8 L227.3,554.8 L232.4,554.8 L237.5,554.7 L242.6,554.7 L247.7,554.7 L252.8,554.6 L258.0,554.6 L263.1,554.6 L268.2,554.6 L273.3,554.5 L278.4,554.5 L283.5,554.5 L288.6,554.5 L293.7,554.5 L298.8,554.4 L303.9,554.4 L309.0,554.4 L314.1,554.4 L319.2,554.4 L324.3,554.3 L329.4,554.3 L334.5,554.3 L339.6,554.3 L344.7,554.3 L349.8,554.3 L354.9,554.3 L360.0,554.3 L365.1,554.3 L370.2,554.3 L375.3,554.3 L380.4,554.2 L385.5,554.2 L390.6,554.2 L395.7,554.1 L400.8,554.1 L405.9,554.0 L411.0,553.9 L416.1,553.8 L421.2,553.8 L426.3,553.7 L431.4,553.6 L436.5,553.5 L441.6,553.4 L446.7,553.3 L451.8,553.2 L456.9,553.1 L462.0,553.0 L467.0,552.9 L472.1,552.8 L477.2,552.7 L482.3,552.6 L487.4,552.5 L492.5,552.4 L497.6,552.3 L502.7,552.2 L507.8,552.1 L512.9,552.1 L518.0,552.0 L523.1,551.9 L528.2,551.8 L533.3,551.8 L538.4,551.7 L543.5,551.7 L548.6,551.7 L553.7,551.6 L558.8,551.6 L563.9,551.6 L569.0,551.6 L574.1,551.6 L579.2,551.6 L584.3,551.6 L589.4,551.6 L594.5,551.6 L599.7,551.6 L604.8,551.6 L609.9,551.7 L615.0,551.7 L620.1,551.7 L625.2,551.7 L630.3,551.7 L635.4,551.8 L640.5,551.8 L645.6,551.8 L650.8,551.8 L655.9,551.8 L661.0,551.9 L666.1,551.9 L671.2,551.9 L676.3,551.9 L681.4,552.0 L686.5,552.0 L691.6,552.0 L696.7,552.1 L701.8,552.1 L707.0,552.1 L712.1,552.1 L717.2,552.1 L722.3,552.2 L727.4,552.2 L732.5,552.2 L737.6,552.2 L742.7,552.2 L747.8,552.3 L752.9,552.3 L758.1,552.3 L763.2,552.3 L768.3,552.3 L773.4,552.3 L778.5,552.3 L783.6,552.3 L788.7,552.3 L793.8,552.3 L798.9,552.3 L804.0,552.3 L809.0,552.3 L814.1,552.3 L819.2,552.3 L824.3,552.4 L829.4,552.4 L834.5,552.4 L839.6,552.4 L844.7,552.4 L849.7,552.5 L854.8,552.5 L859.9,552.5 L865.0,552.5 L870.1,552.6 L875.2,552.6 L880.3,552.6 L885.4,552.6 L890.4,552.7 L895.5,552.7 L900.6,552.7 L905.7,552.7 L910.8,552.8 L915.9,552.8 L921.0,552.8 L926.1,552.8 L931.1,552.9 L936.2,552.9 L941.3,552.9 L946.4,552.9 L951.5,552.9 L956.6,553.0 L961.7,553.0 L966.8,553.0 L971.8,553.0 L976.9,553.0 L982.0,553.0 L987.1,553.0 L992.2,553.0"/>
<path d="M145.7,565.2 L150.8,565.2 L155.9,565.2 L161.0,565.2 L166.1,565.3 L171.2,565.3 L176.3,565.4 L181.4,565.4 L186.5,565.5 L191.6,565.6 L196.7,565.7 L201.8,565.8 L206.9,565.9 L212.0,566.0 L217.1,566.1 L222.2,566.2 L227.3,566.3 L232.4,566.4 L237.5,566.6 L242.6,566.7 L247.7,566.8 L252.8,567.0 L258.0,567.1 L263.1,567.2 L268.2,567.3 L273.3,567.5 L278.4,567.6 L283.5,567.7 L288.6,567.8 L293.7,567.9 L298.8,568.0 L303.9,568.1 L309.0,568.2 L314.1,568.3 L319.2,568.4 L324.3,568.5 L329.4,568.5 L334.5,568.6 L339.6,568.6 L344.7,568.7 L349.8,568.7 L354.9,568.7 L360.0,568.7 L365.1,568.7 L370.2,568.7 L375.3,568.7 L380.4,568.7 L385.5,568.7 L390.6,568.7 L395.7,568.7 L400.8,568.6 L405.9,568.6 L411.0,568.6 L416.1,568.6 L421.2,568.6 L426.3,568.5 L431.4,568.5 L436.5,568.5 L441.6,568.5 L446.7,568.4 L451.8,568.4 L456.9,568.4 L462.0,568.4 L467.0,568.3 L472.1,568.3 L477.2,568.3 L482.3,568.3 L487.4,568.2 L492.5,568.2 L497.6,568.2 L502.7,568.2 L507.8,568.1 L512.9,568.1 L518.0,568.1 L523.1,568.1 L528.2,568.1 L533.3,568.0 L538.4,568.0 L543.5,568.0 L548.6,568.0 L553.7,568.0 L558.8,568.0 L563.9,568.0 L569.0,568.0 L574.1,568.0 L579.2,568.0 L584.3,568.0 L589.4,568.0 L594.5,567.9 L599.7,567.9 L604.8,567.9 L609.9,567.8 L615.0,567.8 L620.1,567.7 L625.2,567.7 L630.3,567.6 L635.4,567.6 L640.5,567.5 L645.6,567.4 L650.8,567.4 L655.9,567.3 L661.0,567.2 L666.1,567.1 L671.2,567.1 L676.3,567.0 L681.4,566.9 L686.5,566.9 L691.6,566.8 L696.7,566.7 L701.8,566.6 L707.0,566.6 L712.1,566.5 L717.2,566.4 L722.3,566.4 L727.4,566.3 L732.5,566.3 L737.6,566.2 L742.7,566.2 L747.8,566.1 L752.9,566.1 L758.1,566.1 L763.2,566.0 L768.3,566.0 L773.4,566.0 L778.5,566.0 L783.6,566.0 L788.7,566.0 L793.8,566.0 L798.9,566.0 L804.0,566.0 L809.0,566.0 L814.1,566.0 L819.2,565.9 L824.3,565.9 L829.4,565.9 L834.5,565.9 L839.6,565.9 L844.7,565.8 L849.7,565.8 L854.8,565.8 L859.9,565.8 L865.0,565.7 L870.1,565.7 L875.2,565.7 L880.3,565.6 L885.4,565.6 L890.4,565.6 L895.5,565.6 L900.6,565.5 L905.7,565.5 L910.8,565.5 L915.9,565.4 L921.0,565.4 L926.1,565.4 L931.1,565.4 L936.2,565.3 L941.3,565.3 L946.4,565.3 L951.5,565.3 L956.6,565.3 L961.7,565.2 L966.8,565.2 L971.8,565.2 L976.9,565.2 L982.0,565.2 L987.1,565.2 L992.2,565.2"/>
<path d="M145.7,566.5 L150.8,566.5 L155.9,566.5 L161.0,566.6 L166.1,566.6 L171.2,566.6 L176.3,566.7 L181.4,566.8 L186.5,566.9 L191.6,567.0 L196.7,567.1 L201.8,567.2 L206.9,567.3 L212.0,567.4 L217.1,567.5 L222.2,567.7 L227.3,567.8 L232.4,568.0 L237.5,568.1 L242.6,568.3 L247.7,568.4 L252.8,568.6 L258.0,568.8 L263.1,568.9 L268.2,569.1 L273.3,569.2 L278.4,569.4 L283.5,569.5 L288.6,569.6 L293.7,569.8 L298.8,569.9 L303.9,570.0 L309.0,570.1 L314.1,570.2 L319.2,570.3 L324.3,570.4 L329.4,570.5 L334.5,570.6 L339.6,570.6 L344.7,570.6 L349.8,570.7 L354.9,570.7 L360.0,570.7 L365.1,570.7 L370.2,570.7 L375.3,570.7 L380.4,570.7 L385.5,570.7 L390.6,570.6 L395.7,570.6 L400.8,570.6 L405.9,570.6 L411.0,570.5 L416.1,570.5 L421.2,570.4 L426.3,570.4 L431.4,570.4 L436.5,570.3 L441.6,570.3 L446.7,570.2 L451.8,570.2 L456.9,570.1 L462.0,570.1 L467.0,570.0 L472.1,570.0 L477.2,569.9 L482.3,569.9 L487.4,569.8 L492.5,569.8 L497.6,569.7 L502.7,569.7 L507.8,569.7 L512.9,569.6 L518.0,569.6 L523.1,569.5 L528.2,569.5 L533.3,569.5 L538.4,569.5 L543.5,569.4 L548.6,569.4 L553.7,569.4 L558.8,569.4 L563.9,569.4 L569.0,569.4 L574.1,569.4 L579.2,569.4 L584.3,569.4 L589.4,569.3 L594.5,569.3 L599.7,569.3 L604.8,569.2 L609.9,569.2 L615.0,569.1 L620.1,569.1 L625.2,569.0 L630.3,568.9 L635.4,568.9 L640.5,568.8 L645.6,568.7 L650.8,568.6 L655.9,568.6 L661.0,568.5 L666.1,568.4 L671.2,568.3 L676.3,568.2 L681.4,568.1 L686.5,568.0 L691.6,567.9 L696.7,567.8 L701.8,567.8 L707.0,567.7 L712.1,567.6 L717.2,567.5 L722.3,567.5 L727.4,567.4 L732.5,567.3 L737.6,567.3 L742.7,567.2 L747.8,567.2 L752.9,567.1 L758.1,567.1 L763.2,567.1 L768.3,567.0 L773.4,567.0 L778.5,567.0 L783.6,567.0 L788.7,567.0 L793.8,567.0 L798.9,567.0 L804.0,567.0 L809.0,567.0 L814.1,567.0 L819.2,567.0 L824.3,567.0 L829.4,566.9 L834.5,566.9 L839.6,566.9 L844.7,566.9 L849.7,566.9 L854.8,566.9 L859.9,566.9 L865.0,566.8 L870.1,566.8 L875.2,566.8 L880.3,566.8 L885.4,566.8 L890.4,566.7 L895.5,566.7 L900.6,566.7 L905.7,566.7 L910.8,566.7 L915.9,566.6 L921.0,566.6 L926.1,566.6 L931.1,566.6 L936.2,566.6 L941.3,566.6 L946.4,566.6 L951.5,566.5 L956.6,566.5 L961.7,566.5 L966.8,566.5 L971.8,566.5 L976.9,566.5 L982.0,566.5 L987.1,566.5 L992.2,566.5"/>
<path d="M145.7,576.2 L150.8,576.2 L155.9,576.2 L161.0,576.2 L166.1,576.2 L171.2,576.2 L176.3,576.1 L181.4,576.1 L186.5,576.1 L191.6,576.0 L196.7,576.0 L201.8,576.0 L206.9,575.9 L212.0,575.9 L217.1,575.9 L222.2,575.8 L227.3,575.8 L232.4,575.7 L237.5,575.7 L242.6,575.6 L247.7,575.6 L252.8,575.5 L258.0,575.4 L263.1,575.4 L268.2,575.3 L273.3,575.3 L278.4,575.2 L283.5,575.2 L288.6,575.1 L293.7,575.1 L298.8,575.1 L303.9,575.0 L309.0,575.0 L314.1,575.0 L319.2,574.9 L324.3,574.9 L329.4,574.9 L334.5,574.8 L339.6,574.8 L344.7,574.8 L349.8,574.8 L354.9,574.8 L360.0,574.8 L365.1,574.8 L370.2,574.8 L375.3,574.7 L380.4,574.7 L385.5,574.7 L390.6,574.6 L395.7,574.5 L400.8,574.4 L405.9,574.3 L411.0,574.2 L416.1,574.1 L421.2,574.0 L426.3,573.9 L431.4,573.7 L436.5,573.6 L441.6,573.4 L446.7,573.3 L451.8,573.1 L456.9,573.0 L462.0,572.8 L467.0,572.7 L472.1,572.5 L477.2,572.4 L482.3,572.2 L487.4,572.1 L492.5,571.9 L497.6,571.8 L502.7,571.6 L507.8,571.5 L512.9,571.4 L518.0,571.3 L523.1,571.2 L528.2,571.1 L533.3,571.0 L538.4,570.9 L543.5,570.8 L548.6,570.8 L553.7,570.8 L558.8,570.7 L563.9,570.7 L569.0,570.7 L574.1,570.7 L579.2,570.7 L584.3,570.8 L589.4,570.8 L594.5,570.9 L599.7,571.0 L604.8,571.1 L609.9,571.2 L615.0,571.3 L620.1,571.4 L625.2,571.6 L630.3,571.7 L635.4,571.9 L640.5,572.1 L645.6,572.3 L650.8,572.4 L655.9,572.6 L661.0,572.8 L666.1,573.0 L671.2,573.2 L676.3,573.5 L681.4,573.7 L686.5,573.9 L691.6,574.1 L696.7,574.3 L701.8,574.5 L707.0,574.6 L712.1,574.8 L717.2,575.0 L722.3,575.2 L727.4,575.3 L732.5,575.5 L737.6,575.6 L742.7,575.7 L747.8,575.8 L752.9,575.9 L758.1,576.0 L763.2,576.1 L768.3,576.1 L773.4,576.2 L778.5,576.2 L783.6,576.2 L788.7,576.2 L793.8,576.2 L798.9,576.2 L804.0,576.2 L809.0,576.2 L814.1,576.2 L819.2,576.2 L824.3,576.2 L829.4,576.2 L834.5,576.2 L839.6,576.2 L844.7,576.2 L849.7,576.2 L854.8,576.2 L859.9,576.2 L865.0,576.2 L870.1,576.2 L875.2,576.2 L880.3,576.2 L885.4,576.2 L890.4,576.2 L895.5,576.2 L900.6,576.2 L905.7,576.2 L910.8,576.2 L915.9,576.2 L921.0,576.2 L926.1,576.2 L931.1,576.2 L936.2,576.2 L941.3,576.2 L946.4,576.2 L951.5,576.2 L956.6,576.2 L961.7,576.2 L966.8,576.2 L971.8,576.2 L976.9,576.2 L982.0,576.2 L987.1,576.2 L992.2,576.2"/>
<path d="M145.7,576.2 L150.8,576.2 L155.9,576.2 L161.0,576.2 L166.1,576.1 L171.2,576.1 L176.3,576.0 L181.4,576.0 L186.5,575.9 L191.6,575.8 L196.7,575.7 L201.8,575.6 L206.9,575.5 L212.0,575.4 L217.1,575.3 L222.2,575.2 L227.3,575.0 L232.4,574.9 L237.5,574.8 L242.6,574.6 L247.7,574.5 L252.8,574.4 L258.0,574.2 L263.1,574.1 L268.2,573.9 L273.3,573.8 L278.4,573.7 L283.5,573.5 L288.6,573.4 L293.7,573.3 L298.8,573.2 L303.9,573.1 L309.0,573.0 L314.1,572.9 L319.2,572.8 L324.3,572.7 L329.4,572.7 L334.5,572.6 L339.6,572.6 L344.7,572.5 L349.8,572.5 L354.9,572.5 L360.0,572.5 L365.1,572.5 L370.2,572.5 L375.3,572.5 L380.4,572.5 L385.5,572.5 L390.6,572.6 L395.7,572.6 L400.8,572.6 L405.9,572.6 L411.0,572.6 L416.1,572.7 L421.2,572.7 L426.3,572.7 L431.4,572.8 L436.5,572.8 L441.6,572.8 L446.7,572.9 L451.8,572.9 L456.9,572.9 L462.0,573.0 L467.0,573.0 L472.1,573.1 L477.2,573.1 L482.3,573.1 L487.4,573.2 L492.5,573.2 L497.6,573.2 L502.7,573.3 L507.8,573.3 L512.9,573.3 L518.0,573.4 L523.1,573.4 L528.2,573.4 L533.3,573.4 L538.4,573.4 L543.5,573.5 L548.6,573.5 L553.7,573.5 L558.8,573.5 L563.9,573.5 L569.0,573.5 L574.1,573.5 L579.2,573.5 L584.3,573.5 L589.4,573.5 L594.5,573.6 L599.7,573.6 L604.8,573.6 L609.9,573.7 L615.0,573.7 L620.1,573.8 L625.2,573.8 L630.3,573.9 L635.4,573.9 L640.5,574.0 L645.6,574.1 L650.8,574.1 L655.9,574.2 L661.0,574.3 L666.1,574.4 L671.2,574.4 L676.3,574.5 L681.4,574.6 L686.5,574.6 L691.6,574.7 L696.7,574.8 L701.8,574.9 L707.0,574.9 L712.1,575.0 L717.2,575.1 L722.3,575.1 L727.4,575.2 L732.5,575.2 L737.6,575.3 L742.7,575.3 L747.8,575.4 L752.9,575.4 L758.1,575.4 L763.2,575.5 L768.3,575.5 L773.4,575.5 L778.5,575.5 L783.6,575.5 L788.7,575.5 L793.8,575.5 L798.9,575.5 L804.0,575.5 L809.0,575.5 L814.1,575.5 L819.2,575.5 L824.3,575.6 L829.4,575.6 L834.5,575.6 L839.6,575.6 L844.7,575.6 L849.7,575.7 L854.8,575.7 L859.9,575.7 L865.0,575.7 L870.1,575.8 L875.2,575.8 L880.3,575.8 L885.4,575.8 L890.4,575.9 L895.5,575.9 L900.6,575.9 L905.7,575.9 L910.8,576.0 L915.9,576.0 L921.0,576.0 L926.1,576.0 L931.1,576.1 L936.2,576.1 L941.3,576.1 L946.4,576.1 L951.5,576.1 L956.6,576.2 L961.7,576.2 L966.8,576.2 L971.8,576.2 L976.9,576.2 L982.0,576.2 L987.1,576.2 L992.2,576.2"/>
<path d="M145.7,599.7 L150.8,599.7 L155.9,599.8 L161.0,599.8 L166.1,599.9 L171.2,600.0 L176.3,600.2 L181.4,600.4 L186.5,600.6 L191.6,600.8 L196.7,601.0 L201.8,601.3 L206.9,601.6 L212.0,601.9 L217.1,602.2 L222.2,602.5 L227.3,602.8 L232.4,603.2 L237.5,603.5 L242.6,603.9 L247.7,604.3 L252.8,604.6 L258.0,605.0 L263.1,605.4 L268.2,605.8 L273.3,606.1 L278.4,606.5 L283.5,606.8 L288.6,607.1 L293.7,607.4 L298.8,607.7 L303.9,608.0 L309.0,608.3 L314.1,608.5 L319.2,608.7 L324.3,608.9 L329.4,609.1 L334.5,609.3 L339.6,609.4 L344.7,609.5 L349.8,609.5 L354.9,609.6 L360.0,609.6 L365.1,609.6 L370.2,609.6 L375.3,609.6 L380.4,609.6 L385.5,609.6 L390.6,609.6 L395.7,609.6 L400.8,609.6 L405.9,609.6 L411.0,609.6 L416.1,609.7 L421.2,609.7 L426.3,609.7 L431.4,609.7 L436.5,609.7 L441.6,609.7 L446.7,609.7 L451.8,609.7 L456.9,609.7 L462.0,609.7 L467.0,609.8 L472.1,609.8 L477.2,609.8 L482.3,609.8 L487.4,609.8 L492.5,609.8 L497.6,609.8 L502.7,609.8 L507.8,609.8 L512.9,609.8 L518.0,609.9 L523.1,609.9 L528.2,609.9 L533.3,609.9 L538.4,609.9 L543.5,609.9 L548.6,609.9 L553.7,609.9 L558.8,609.9 L563.9,609.9 L569.0,609.9 L574.1,609.9 L579.2,609.8 L584.3,609.8 L589.4,609.7 L594.5,609.5 L599.7,609.4 L604.8,609.2 L609.9,609.0 L615.0,608.8 L620.1,608.5 L625.2,608.3 L630.3,608.0 L635.4,607.7 L640.5,607.4 L645.6,607.0 L650.8,606.7 L655.9,606.3 L661.0,605.9 L666.1,605.6 L671.2,605.2 L676.3,604.8 L681.4,604.4 L686.5,604.0 L691.6,603.7 L696.7,603.3 L701.8,602.9 L707.0,602.6 L712.1,602.2 L717.2,601.9 L722.3,601.6 L727.4,601.3 L732.5,601.1 L737.6,600.8 L742.7,600.6 L747.8,600.4 L752.9,600.2 L758.1,600.1 L763.2,599.9 L768.3,599.8 L773.4,599.8 L778.5,599.7 L783.6,599.7 L788.7,599.7 L793.8,599.7 L798.9,599.7 L804.0,599.7 L809.0,599.7 L814.1,599.7 L819.2,599.7 L824.3,599.7 L829.4,599.7 L834.5,599.7 L839.6,599.7 L844.7,599.7 L849.7,599.7 L854.8,599.7 L859.9,599.7 L865.0,599.7 L870.1,599.7 L875.2,599.7 L880.3,599.7 L885.4,599.7 L890.4,599.7 L895.5,599.7 L900.6,599.7 L905.7,599.7 L910.8,599.7 L915.9,599.7 L921.0,599.7 L926.1,599.7 L931.1,599.7 L936.2,599.7 L941.3,599.7 L946.4,599.7 L951.5,599.7 L956.6,599.7 L961.7,599.7 L966.8,599.7 L971.8,599.7 L976.9,599.7 L982.0,599.7 L987.1,599.7 L992.2,599.7" stroke-opacity="0.236"/>
<path d="M145.7,623.8 L150.8,623.8 L155.9,623.8 L161.0,623.8 L166.1,623.7 L171.2,623.7 L176.3,623.7 L181.4,623.6 L186.5,623.5 L191.6,623.5 L196.7,623.4 L201.8,623.3 L206.9,623.2 L212.0,623.1 L217.1,623.0 L222.2,622.9 L227.3,622.8 L232.4,622.7 L237.5,622.5 L242.6,622.4 L247.7,622.3 L252.8,622.1 L258.0,621.9 L263.1,621.8 L268.2,621.6 L273.3,621.4 L278.4,621.3 L283.5,621.1 L288.6,620.9 L293.7,620.7 L298.8,620.5 L303.9,620.3 L309.0,620.1 L314.1,619.9 L319.2,619.7 L324.3,619.5 L329.4,619.3 L334.5,619.1 L339.6,618.9 L344.7,618.6 L349.8,618.4 L354.9,618.2 L360.0,618.0 L365.1,618.0 L370.2,618.0 L375.3,618.0 L380.4,618.0 L385.5,618.0 L390.6,618.1 L395.7,618.1 L400.8,618.1 L405.9,618.1 L411.0,618.2 L416.1,618.2 L421.2,618.2 L426.3,618.3 L431.4,618.3 L436.5,618.4 L441.6,618.4 L446.7,618.4 L451.8,618.5 L456.9,618.5 L462.0,618.6 L467.0,618.6 L472.1,618.7 L477.2,618.7 L482.3,618.8 L487.4,618.8 L492.5,618.8 L497.6,618.9 L502.7,618.9 L507.8,619.0 L512.9,619.0 L518.0,619.0 L523.1,619.1 L528.2,619.1 L533.3,619.1 L538.4,619.1 L543.5,619.2 L548.6,619.2 L553.7,619.2 L558.8,619.2 L563.9,619.2 L569.0,619.2 L574.1,619.2 L579.2,619.2 L584.3,619.3 L589.4,619.3 L594.5,619.4 L599.7,619.4 L604.8,619.5 L609.9,619.6 L615.0,619.7 L620.1,619.9 L625.2,620.0 L630.3,620.1 L635.4,620.3 L640.5,620.5 L645.6,620.6 L650.8,620.8 L655.9,621.0 L661.0,621.1 L666.1,621.3 L671.2,621.5 L676.3,621.7 L681.4,621.9 L686.5,622.1 L691.6,622.3 L696.7,622.4 L701.8,622.6 L707.0,622.8 L712.1,623.0 L717.2,623.1 L722.3,623.3 L727.4,623.4 L732.5,623.5 L737.6,623.7 L742.7,623.8 L747.8,623.9 L752.9,624.0 L758.1,624.0 L763.2,624.1 L768.3,624.1 L773.4,624.2 L778.5,624.2 L783.6,624.2 L788.7,624.2 L793.8,624.2 L798.9,624.2 L804.0,624.2 L809.0,624.2 L814.1,624.2 L819.2,624.2 L824.3,624.2 L829.4,624.2 L834.5,624.2 L839.6,624.2 L844.7,624.2 L849.7,624.2 L854.8,624.2 L859.9,624.2 L865.0,624.2 L870.1,624.2 L875.2,624.2 L880.3,624.2 L885.4,624.2 L890.4,624.2 L895.5,624.2 L900.6,624.2 L905.7,624.2 L910.8,624.2 L915.9,624.2 L921.0,624.2 L926.1,624.2 L931.1,624.2 L936.2,624.2 L941.3,624.2 L946.4,624.2 L951.5,624.2 L956.6,624.2 L961.7,624.2 L966.8,624.2 L971.8,624.2 L976.9,624.2 L982.0,624.2 L987.1,624.2 L992.2,624.2"/>
<path d="M145.7,629.9 L150.8,629.9 L155.9,629.9 L161.0,629.9 L166.1,629.8 L171.2,629.8 L176.3,629.8 L181.4,629.7 L186.5,629.7 L191.6,629.6 L196.7,629.6 L201.8,629.5 L206.9,629.4 L212.0,629.3 L217.1,629.2 L222.2,629.2 L227.3,629.1 L232.4,629.0 L237.5,628.9 L242.6,628.8 L247.7,628.7 L252.8,628.6 L258.0,628.5 L263.1,628.4 L268.2,628.3 L273.3,628.2 L278.4,628.1 L283.5,628.0 L288.6,627.9 L293.7,627.9 L298.8,627.8 L303.9,627.7 L309.0,627.6 L314.1,627.6 L319.2,627.5 L324.3,627.5 L329.4,627.4 L334.5,627.4 L339.6,627.4 L344.7,627.3 L349.8,627.3 L354.9,627.3 L360.0,627.3 L365.1,627.3 L370.2,627.3 L375.3,627.3 L380.4,627.3 L385.5,627.3 L390.6,627.3 L395.7,627.3 L400.8,627.4 L405.9,627.4 L411.0,627.4 L416.1,627.4 L421.2,627.4 L426.3,627.4 L431.4,627.5 L436.5,627.5 L441.6,627.5 L446.7,627.5 L451.8,627.5 L456.9,627.6 L462.0,627.6 L467.0,627.6 L472.1,627.6 L477.2,627.7 L482.3,627.7 L487.4,627.7 L492.5,627.7 L497.6,627.7 L502.7,627.8 L507.8,627.8 L512.9,627.8 L518.0,627.8 L523.1,627.8 L528.2,627.8 L533.3,627.9 L538.4,627.9 L543.5,627.9 L548.6,627.9 L553.7,627.9 L558.8,627.9 L563.9,627.9 L569.0,627.9 L574.1,627.9 L579.2,627.9 L584.3,627.9 L589.4,627.9 L594.5,628.0 L599.7,628.0 L604.8,628.0 L609.9,628.1 L615.0,628.1 L620.1,628.2 L625.2,628.2 L630.3,628.3 L635.4,628.3 L640.5,628.4 L645.6,628.4 L650.8,628.5 L655.9,628.6 L661.0,628.6 L666.1,628.7 L671.2,628.8 L676.3,628.8 L681.4,628.9 L686.5,629.0 L691.6,629.1 L696.7,629.1 L701.8,629.2 L707.0,629.3 L712.1,629.3 L717.2,629.4 L722.3,629.4 L727.4,629.5 L732.5,629.5 L737.6,629.6 L742.7,629.6 L747.8,629.7 L752.9,629.7 L758.1,629.7 L763.2,629.8 L768.3,629.8 L773.4,629.8 L778.5,629.8 L783.6,629.8 L788.7,629.8 L793.8,629.8 L798.9,629.8 L804.0,629.8 L809.0,629.8 L814.1,629.8 L819.2,629.8 L824.3,629.8 L829.4,629.8 L834.5,629.8 L839.6,629.8 L844.7,629.8 L849.7,629.8 L854.8,629.8 L859.9,629.8 L865.0,629.8 L870.1,629.8 L875.2,629.8 L880.3,629.8 L885.4,629.8 L890.4,629.8 L895.5,629.8 L900.6,629.8 L905.7,629.8 L910.8,629.8 L915.9,629.8 L921.0,629.8 L926.1,629.8 L931.1,629.8 L936.2,629.8 L941.3,629.8 L946.4,629.8 L951.5,629.8 L956.6,629.8 L961.7,629.8 L966.8,629.8 L971.8,629.8 L976.9,629.8 L982.0,629.8 L987.1,629.8 L992.2,629.8"/>
<path d="M145.7,640.1 L150.8,640.1 L155.9,640.1 L161.0,640.0 L166.1,640.0 L171.2,639.9 L176.3,639.8 L181.4,639.7 L186.5,639.6 L191.6,639.5 L196.7,639.4 L201.8,639.3 L206.9,639.1 L212.0,638.9 L217.1,638.8 L222.2,638.6 L227.3,638.4 L232.4,638.2 L237.5,638.0 L242.6,637.8 L247.7,637.6 L252.8,637.5 L258.0,637.3 L263.1,637.1 L268.2,636.9 L273.3,636.7 L278.4,636.5 L283.5,636.3 L288.6,636.1 L293.7,636.0 L298.8,635.8 L303.9,635.6 L309.0,635.5 L314.1,635.4 L319.2,635.3 L324.3,635.2 L329.4,635.1 L334.5,635.0 L339.6,634.9 L344.7,634.9 L349.8,634.8 L354.9,634.8 L360.0,634.8 L365.1,634.8 L370.2,634.8 L375.3,634.8 L380.4,634.8 L385.5,634.8 L390.6,634.7 L395.7,634.7 L400.8,634.7 L405.9,634.7 L411.0,634.7 L416.1,634.6 L421.2,634.6 L426.3,634.6 L431.4,634.5 L436.5,634.5 L441.6,634.5 L446.7,634.4 L451.8,634.4 L456.9,634.4 L462.0,634.3 L467.0,634.3 L472.1,634.2 L477.2,634.2 L482.3,634.2 L487.4,634.1 L492.5,634.1 L497.6,634.1 L502.7,634.0 L507.8,634.0 L512.9,634.0 L518.0,633.9 L523.1,633.9 L528.2,633.9 L533.3,633.9 L538.4,633.9 L543.5,633.8 L548.6,633.8 L553.7,633.8 L558.8,633.8 L563.9,633.8 L569.0,633.8 L574.1,633.8 L579.2,633.7 L584.3,633.7 L589.4,633.6 L594.5,633.5 L599.7,633.3 L604.8,633.2 L609.9,633.0 L615.0,632.8 L620.1,632.6 L625.2,632.3 L630.3,632.0 L635.4,631.8 L640.5,631.5 L645.6,631.2 L650.8,630.8 L655.9,630.5 L661.0,630.2 L666.1,629.8 L671.2,629.5 L676.3,629.1 L681.4,628.8 L686.5,628.5 L691.6,628.1 L696.7,627.8 L701.8,627.5 L707.0,627.1 L712.1,626.8 L717.2,626.5 L722.3,626.3 L727.4,626.0 L732.5,625.7 L737.6,625.5 L742.7,625.3 L747.8,625.1 L752.9,625.0 L758.1,624.8 L763.2,624.7 L768.3,624.6 L773.4,624.6 L778.5,624.5 L783.6,624.5 L788.7,624.5 L793.8,624.5 L798.9,624.5 L804.0,624.5 L809.0,624.5 L814.1,624.5 L819.2,624.5 L824.3,624.5 L829.4,624.5 L834.5,624.5 L839.6,624.5 L844.7,624.5 L849.7,624.5 L854.8,624.5 L859.9,624.5 L865.0,624.5 L870.1,624.5 L875.2,624.5 L880.3,624.5 L885.4,624.5 L890.4,624.5 L895.5,624.5 L900.6,624.5 L905.7,624.5 L910.8,624.5 L915.9,624.5 L921.0,624.5 L926.1,624.5 L931.1,624.5 L936.2,624.5 L941.3,624.5 L946.4,624.5 L951.5,624.5 L956.6,624.5 L961.7,624.5 L966.8,624.5 L971.8,624.5 L976.9,624.5 L982.0,624.5 L987.1,624.5 L992.2,624.5"/>
<path d="M145.7,642.9 L150.8,642.9 L155.9,642.9 L161.0,642.8 L166.1,642.8 L171.2,642.7 L176.3,642.7 L181.4,642.6 L186.5,642.5 L191.6,642.4 L196.7,642.3 L201.8,642.2 L206.9,642.1 L212.0,641.9 L217.1,641.8 L222.2,641.7 L227.3,641.5 L232.4,641.3 L237.5,641.2 L242.6,641.0 L247.7,640.9 L252.8,640.7 L258.0,640.5 L263.1,640.4 L268.2,640.2 L273.3,640.1 L278.4,639.9 L283.5,639.7 L288.6,639.6 L293.7,639.5 L298.8,639.3 L303.9,639.2 L309.0,639.1 L314.1,639.0 L319.2,638.9 L324.3,638.8 L329.4,638.7 L334.5,638.7 L339.6,638.6 L344.7,638.6 L349.8,638.5 L354.9,638.5 L360.0,638.5 L365.1,638.5 L370.2,638.5 L375.3,638.5 L380.4,638.5 L385.5,638.5 L390.6,638.4 L395.7,638.4 L400.8,638.4 L405.9,638.4 L411.0,638.3 L416.1,638.3 L421.2,638.2 L426.3,638.2 L431.4,638.2 L436.5,638.1 L441.6,638.1 L446.7,638.0 L451.8,638.0 L456.9,637.9 L462.0,637.9 L467.0,637.8 L472.1,637.8 L477.2,637.7 L482.3,637.7 L487.4,637.6 L492.5,637.6 L497.6,637.5 L502.7,637.5 L507.8,637.5 L512.9,637.4 L518.0,637.4 L523.1,637.3 L528.2,637.3 L533.3,637.3 L538.4,637.3 L543.5,637.2 L548.6,637.2 L553.7,637.2 L558.8,637.2 L563.9,637.2 L569.0,637.2 L574.1,637.2 L579.2,637.2 L584.3,637.3 L589.4,637.3 L594.5,637.4 L599.7,637.4 L604.8,637.5 L609.9,637.6 L615.0,637.7 L620.1,637.8 L625.2,637.9 L630.3,638.0 L635.4,638.2 L640.5,638.3 L645.6,638.4 L650.8,638.6 L655.9,638.8 L661.0,638.9 L666.1,639.1 L671.2,639.2 L676.3,639.4 L681.4,639.6 L686.5,639.7 L691.6,639.9 L696.7,640.0 L701.8,640.2 L707.0,640.4 L712.1,640.5 L717.2,640.6 L722.3,640.8 L727.4,640.9 L732.5,641.0 L737.6,641.1 L742.7,641.2 L747.8,641.3 L752.9,641.4 L758.1,641.4 L763.2,641.5 L768.3,641.5 L773.4,641.6 L778.5,641.6 L783.6,641.6 L788.7,641.6 L793.8,641.6 L798.9,641.6 L804.0,641.6 L809.0,641.6 L814.1,641.6 L819.2,641.6 L824.3,641.6 L829.4,641.6 L834.5,641.6 L839.6,641.6 L844.7,641.6 L849.7,641.6 L854.8,641.6 L859.9,641.6 L865.0,641.6 L870.1,641.6 L875.2,641.6 L880.3,641.6 L885.4,641.6 L890.4,641.6 L895.5,641.6 L900.6,641.6 L905.7,641.6 L910.8,641.6 L915.9,641.6 L921.0,641.6 L926.1,641.6 L931.1,641.6 L936.2,641.6 L941.3,641.6 L946.4,641.6 L951.5,641.6 L956.6,641.6 L961.7,641.6 L966.8,641.6 L971.8,641.6 L976.9,641.6 L982.0,641.6 L987.1,641.6 L992.2,641.6"/>
<path d="M145.7,645.2 L150.8,645.2 L155.9,645.2 L161.0,645.2 L166.1,645.1 L171.2,645.1 L176.3,645.0 L181.4,645.0 L186.5,644.9 L191.6,644.8 L196.7,644.7 L201.8,644.6 L206.9,644.5 L212.0,644.4 L217.1,644.3 L222.2,644.2 L227.3,644.1 L232.4,643.9 L237.5,643.8 L242.6,643.7 L247.7,643.5 L252.8,643.4 L258.0,643.3 L263.1,643.1 L268.2,643.0 L273.3,642.9 L278.4,642.7 L283.5,642.6 L288.6,642.5 L293.7,642.4 L298.8,642.3 L303.9,642.2 L309.0,642.1 L314.1,642.0 L319.2,641.9 L324.3,641.8 L329.4,641.8 L334.5,641.7 L339.6,641.7 L344.7,641.6 L349.8,641.6 L354.9,641.6 L360.0,641.6 L365.1,641.6 L370.2,641.6 L375.3,641.6 L380.4,641.6 L385.5,641.6 L390.6,641.6 L395.7,641.6 L400.8,641.5 L405.9,641.5 L411.0,641.5 L416.1,641.5 L421.2,641.5 L426.3,641.5 L431.4,641.4 L436.5,641.4 L441.6,641.4 L446.7,641.4 L451.8,641.4 L456.9,641.3 L462.0,641.3 L467.0,641.3 L472.1,641.3 L477.2,641.2 L482.3,641.2 L487.4,641.2 L492.5,641.2 L497.6,641.2 L502.7,641.1 L507.8,641.1 L512.9,641.1 L518.0,641.1 L523.1,641.1 L528.2,641.1 L533.3,641.0 L538.4,641.0 L543.5,641.0 L548.6,641.0 L553.7,641.0 L558.8,641.0 L563.9,641.0 L569.0,641.0 L574.1,641.0 L579.2,641.0 L584.3,641.0 L589.4,641.1 L594.5,641.1 L599.7,641.1 L604.8,641.2 L609.9,641.2 L615.0,641.3 L620.1,641.3 L625.2,641.4 L630.3,641.5 L635.4,641.5 L640.5,641.6 L645.6,641.7 L650.8,641.8 L655.9,641.9 L661.0,642.0 L666.1,642.1 L671.2,642.2 L676.3,642.2 L681.4,642.3 L686.5,642.4 L691.6,642.5 L696.7,642.6 L701.8,642.7 L707.0,642.8 L712.1,642.9 L717.2,643.0 L722.3,643.0 L727.4,643.1 L732.5,643.2 L737.6,643.2 L742.7,643.3 L747.8,643.3 L752.9,643.4 L758.1,643.4 L763.2,643.4 L768.3,643.5 L773.4,643.5 L778.5,643.5 L783.6,643.5 L788.7,643.5 L793.8,643.5 L798.9,643.5 L804.0,643.5 L809.0,643.5 L814.1,643.5 L819.2,643.5 L824.3,643.5 L829.4,643.5 L834.5,643.5 L839.6,643.5 L844.7,643.5 L849.7,643.5 L854.8,643.5 L859.9,643.5 L865.0,643.5 L870.1,643.5 L875.2,643.5 L880.3,643.5 L885.4,643.5 L890.4,643.5 L895.5,643.5 L900.6,643.5 L905.7,643.5 L910.8,643.5 L915.9,643.5 L921.0,643.5 L926.1,643.5 L931.1,643.5 L936.2,643.5 L941.3,643.5 L946.4,643.5 L951.5,643.5 L956.6,643.5 L961.7,643.5 L966.8,643.5 L971.8,643.5 L976.9,643.5 L982.0,643.5 L987.1,643.5 L992.2,643.5"/>
<path d="M145.7,647.6 L150.8,647.6 L155.9,647.6 L161.0,647.6 L166.1,647.5 L171.2,647.5 L176.3,647.5 L181.4,647.4 L186.5,647.3 L191.6,647.3 L196.7,647.2 L201.8,647.1 L206.9,647.1 L212.0,647.0 L217.1,646.9 L222.2,646.8 L227.3,646.7 L232.4,646.6 L237.5,646.5 L242.6,646.4 L247.7,646.3 L252.8,646.2 L258.0,646.0 L263.1,645.9 L268.2,645.8 L273.3,645.7 L278.4,645.6 L283.5,645.5 L288.6,645.4 L293.7,645.3 L298.8,645.2 L303.9,645.2 L309.0,645.1 L314.1,645.0 L319.2,645.0 L324.3,644.9 L329.4,644.8 L334.5,644.8 L339.6,644.8 L344.7,644.7 L349.8,644.7 L354.9,644.7 L360.0,644.7 L365.1,644.7 L370.2,644.7 L375.3,644.7 L380.4,644.7 L385.5,644.7 L390.6,644.7 L395.7,644.7 L400.8,644.7 L405.9,644.7 L411.0,644.7 L416.1,644.7 L421.2,644.7 L426.3,644.7 L431.4,644.7 L436.5,644.7 L441.6,644.7 L446.7,644.7 L451.8,644.7 L456.9,644.7 L462.0,644.7 L467.0,644.7 L472.1,644.7 L477.2,644.7 L482.3,644.7 L487.4,644.7 L492.5,644.7 L497.6,644.7 L502.7,644.7 L507.8,644.7 L512.9,644.7 L518.0,644.7 L523.1,644.7 L528.2,644.7 L533.3,644.7 L538.4,644.7 L543.5,644.7 L548.6,644.7 L553.7,644.7 L558.8,644.7 L563.9,644.7 L569.0,644.7 L574.1,644.7 L579.2,644.7 L584.3,644.7 L589.4,644.7 L594.5,644.7 L599.7,644.8 L604.8,644.8 L609.9,644.8 L615.0,644.8 L620.1,644.9 L625.2,644.9 L630.3,644.9 L635.4,645.0 L640.5,645.0 L645.6,645.1 L650.8,645.1 L655.9,645.2 L661.0,645.2 L666.1,645.3 L671.2,645.3 L676.3,645.4 L681.4,645.4 L686.5,645.4 L691.6,645.5 L696.7,645.5 L701.8,645.6 L707.0,645.6 L712.1,645.7 L717.2,645.7 L722.3,645.8 L727.4,645.8 L732.5,645.8 L737.6,645.9 L742.7,645.9 L747.8,645.9 L752.9,645.9 L758.1,646.0 L763.2,646.0 L768.3,646.0 L773.4,646.0 L778.5,646.0 L783.6,646.0 L788.7,646.0 L793.8,646.0 L798.9,646.0 L804.0,646.0 L809.0,646.0 L814.1,646.0 L819.2,646.0 L824.3,646.0 L829.4,646.0 L834.5,646.0 L839.6,646.0 L844.7,646.0 L849.7,646.0 L854.8,646.0 L859.9,646.0 L865.0,646.0 L870.1,646.0 L875.2,646.0 L880.3,646.0 L885.4,646.0 L890.4,646.0 L895.5,646.0 L900.6,646.0 L905.7,646.0 L910.8,646.0 L915.9,646.0 L921.0,646.0 L926.1,646.0 L931.1,646.0 L936.2,646.0 L941.3,646.0 L946.4,646.0 L951.5,646.0 L956.6,646.0 L961.7,646.0 L966.8,646.0 L971.8,646.0 L976.9,646.0 L982.0,646.0 L987.1,646.0 L992.2,646.0"/>
<path d="M145.7,650.4 L150.8,650.4 L155.9,650.4 L161.0,650.4 L166.1,650.4 L171.2,650.3 L176.3,650.3 L181.4,650.3 L186.5,650.2 L191.6,650.2 L196.7,650.1 L201.8,650.1 L206.9,650.0 L212.0,650.0 L217.1,649.9 L222.2,649.8 L227.3,649.8 L232.4,649.7 L237.5,649.6 L242.6,649.5 L247.7,649.5 L252.8,649.4 L258.0,649.3 L263.1,649.3 L268.2,649.2 L273.3,649.1 L278.4,649.0 L283.5,649.0 L288.6,648.9 L293.7,648.8 L298.8,648.8 L303.9,648.7 L309.0,648.7 L314.1,648.6 L319.2,648.6 L324.3,648.5 L329.4,648.5 L334.5,648.5 L339.6,648.4 L344.7,648.4 L349.8,648.4 L354.9,648.4 L360.0,648.4 L365.1,648.4 L370.2,648.4 L375.3,648.4 L380.4,648.4 L385.5,648.4 L390.6,648.3 L395.7,648.3 L400.8,648.3 L405.9,648.3 L411.0,648.2 L416.1,648.2 L421.2,648.2 L426.3,648.1 L431.4,648.1 L436.5,648.0 L441.6,648.0 L446.7,648.0 L451.8,647.9 L456.9,647.9 L462.0,647.8 L467.0,647.8 L472.1,647.7 L477.2,647.7 L482.3,647.6 L487.4,647.6 L492.5,647.6 L497.6,647.5 L502.7,647.5 L507.8,647.4 L512.9,647.4 L518.0,647.4 L523.1,647.3 L528.2,647.3 L533.3,647.3 L538.4,647.3 L543.5,647.2 L548.6,647.2 L553.7,647.2 L558.8,647.2 L563.9,647.2 L569.0,647.2 L574.1,647.2 L579.2,647.2 L584.3,647.2 L589.4,647.2 L594.5,647.2 L599.7,647.3 L604.8,647.3 L609.9,647.3 L615.0,647.3 L620.1,647.4 L625.2,647.4 L630.3,647.4 L635.4,647.5 L640.5,647.5 L645.6,647.5 L650.8,647.6 L655.9,647.6 L661.0,647.7 L666.1,647.7 L671.2,647.8 L676.3,647.8 L681.4,647.8 L686.5,647.9 L691.6,647.9 L696.7,648.0 L701.8,648.0 L707.0,648.1 L712.1,648.1 L717.2,648.1 L722.3,648.2 L727.4,648.2 L732.5,648.2 L737.6,648.3 L742.7,648.3 L747.8,648.3 L752.9,648.3 L758.1,648.4 L763.2,648.4 L768.3,648.4 L773.4,648.4 L778.5,648.4 L783.6,648.4 L788.7,648.4 L793.8,648.4 L798.9,648.4 L804.0,648.4 L809.0,648.4 L814.1,648.4 L819.2,648.4 L824.3,648.4 L829.4,648.4 L834.5,648.4 L839.6,648.4 L844.7,648.4 L849.7,648.4 L854.8,648.4 L859.9,648.4 L865.0,648.4 L870.1,648.4 L875.2,648.4 L880.3,648.4 L885.4,648.4 L890.4,648.4 L895.5,648.4 L900.6,648.4 L905.7,648.4 L910.8,648.4 L915.9,648.4 L921.0,648.4 L926.1,648.4 L931.1,648.4 L936.2,648.4 L941.3,648.4 L946.4,648.4 L951.5,648.4 L956.6,648.4 L961.7,648.4 L966.8,648.4 L971.8,648.4 L976.9,648.4 L982.0,648.4 L987.1,648.4 L992.2,648.4"/>
<path d="M145.7,652.2 L150.8,652.2 L155.9,652.2 L161.0,652.2 L166.1,652.2 L171.2,652.2 L176.3,652.1 L181.4,652.1 L186.5,652.1 L191.6,652.1 L196.7,652.0 L201.8,652.0 L206.9,652.0 L212.0,651.9 L217.1,651.9 L222.2,651.8 L227.3,651.8 L232.4,651.7 L237.5,651.7 L242.6,651.6 L247.7,651.6 L252.8,651.6 L258.0,651.5 L263.1,651.5 L268.2,651.4 L273.3,651.4 L278.4,651.3 L283.5,651.3 L288.6,651.2 L293.7,651.2 L298.8,651.1 L303.9,651.1 L309.0,651.1 L314.1,651.0 L319.2,651.0 L324.3,651.0 L329.4,651.0 L334.5,650.9 L339.6,650.9 L344.7,650.9 L349.8,650.9 L354.9,650.9 L360.0,650.9 L365.1,650.9 L370.2,650.9 L375.3,650.9 L380.4,650.9 L385.5,650.9 L390.6,650.8 L395.7,650.8 L400.8,650.8 L405.9,650.8 L411.0,650.7 L416.1,650.7 L421.2,650.7 L426.3,650.6 L431.4,650.6 L436.5,650.5 L441.6,650.5 L446.7,650.5 L451.8,650.4 L456.9,650.4 L462.0,650.3 L467.0,650.3 L472.1,650.2 L477.2,650.2 L482.3,650.1 L487.4,650.1 L492.5,650.1 L497.6,650.0 L502.7,650.0 L507.8,649.9 L512.9,649.9 L518.0,649.9 L523.1,649.8 L528.2,649.8 L533.3,649.8 L538.4,649.8 L543.5,649.7 L548.6,649.7 L553.7,649.7 L558.8,649.7 L563.9,649.7 L569.0,649.7 L574.1,649.7 L579.2,649.7 L584.3,649.7 L589.4,649.7 L594.5,649.7 L599.7,649.7 L604.8,649.7 L609.9,649.8 L615.0,649.8 L620.1,649.8 L625.2,649.8 L630.3,649.8 L635.4,649.8 L640.5,649.9 L645.6,649.9 L650.8,649.9 L655.9,649.9 L661.0,649.9 L666.1,650.0 L671.2,650.0 L676.3,650.0 L681.4,650.0 L686.5,650.0 L691.6,650.1 L696.7,650.1 L701.8,650.1 L707.0,650.1 L712.1,650.1 L717.2,650.2 L722.3,650.2 L727.4,650.2 L732.5,650.2 L737.6,650.2 L742.7,650.2 L747.8,650.3 L752.9,650.3 L758.1,650.3 L763.2,650.3 L768.3,650.3 L773.4,650.3 L778.5,650.3 L783.6,650.3 L788.7,650.3 L793.8,650.3 L798.9,650.3 L804.0,650.3 L809.0,650.3 L814.1,650.3 L819.2,650.3 L824.3,650.3 L829.4,650.3 L834.5,650.3 L839.6,650.3 L844.7,650.3 L849.7,650.3 L854.8,650.3 L859.9,650.3 L865.0,650.3 L870.1,650.3 L875.2,650.3 L880.3,650.3 L885.4,650.3 L890.4,650.3 L895.5,650.3 L900.6,650.3 L905.7,650.3 L910.8,650.3 L915.9,650.3 L921.0,650.3 L926.1,650.3 L931.1,650.3 L936.2,650.3 L941.3,650.3 L946.4,650.3 L951.5,650.3 L956.6,650.3 L961.7,650.3 L966.8,650.3 L971.8,650.3 L976.9,650.3 L982.0,650.3 L987.1,650.3 L992.2,650.3"/>
<path d="M145.7,661.1 L150.8,661.1 L155.9,661.1 L161.0,661.0 L166.1,660.9 L171.2,660.8 L176.3,660.7 L181.4,660.5 L186.5,660.4 L191.6,660.2 L196.7,660.0 L201.8,659.8 L206.9,659.5 L212.0,659.3 L217.1,659.0 L222.2,658.8 L227.3,658.5 L232.4,658.2 L237.5,657.9 L242.6,657.6 L247.7,657.3 L252.8,657.0 L258.0,656.6 L263.1,656.3 L268.2,656.0 L273.3,655.7 L278.4,655.4 L283.5,655.1 L288.6,654.9 L293.7,654.6 L298.8,654.4 L303.9,654.1 L309.0,653.9 L314.1,653.7 L319.2,653.5 L324.3,653.4 L329.4,653.2 L334.5,653.1 L339.6,653.0 L344.7,652.9 L349.8,652.8 L354.9,652.8 L360.0,652.8 L365.1,652.8 L370.2,652.8 L375.3,652.8 L380.4,652.8 L385.5,652.8 L390.6,652.8 L395.7,652.8 L400.8,652.7 L405.9,652.7 L411.0,652.7 L416.1,652.7 L421.2,652.7 L426.3,652.7 L431.4,652.6 L436.5,652.6 L441.6,652.6 L446.7,652.6 L451.8,652.6 L456.9,652.5 L462.0,652.5 L467.0,652.5 L472.1,652.5 L477.2,652.4 L482.3,652.4 L487.4,652.4 L492.5,652.4 L497.6,652.4 L502.7,652.3 L507.8,652.3 L512.9,652.3 L518.0,652.3 L523.1,652.3 L528.2,652.3 L533.3,652.2 L538.4,652.2 L543.5,652.2 L548.6,652.2 L553.7,652.2 L558.8,652.2 L563.9,652.2 L569.0,652.2 L574.1,652.2 L579.2,652.2 L584.3,652.2 L589.4,652.2 L594.5,652.2 L599.7,652.2 L604.8,652.2 L609.9,652.3 L615.0,652.3 L620.1,652.3 L625.2,652.3 L630.3,652.3 L635.4,652.3 L640.5,652.4 L645.6,652.4 L650.8,652.4 L655.9,652.4 L661.0,652.4 L666.1,652.5 L671.2,652.5 L676.3,652.5 L681.4,652.5 L686.5,652.5 L691.6,652.6 L696.7,652.6 L701.8,652.6 L707.0,652.6 L712.1,652.6 L717.2,652.7 L722.3,652.7 L727.4,652.7 L732.5,652.7 L737.6,652.7 L742.7,652.7 L747.8,652.8 L752.9,652.8 L758.1,652.8 L763.2,652.8 L768.3,652.8 L773.4,652.8 L778.5,652.8 L783.6,652.8 L788.7,652.8 L793.8,652.8 L798.9,652.8 L804.0,652.8 L809.0,652.8 L814.1,652.8 L819.2,652.8 L824.3,652.7 L829.4,652.7 L834.5,652.7 L839.6,652.7 L844.7,652.7 L849.7,652.7 L854.8,652.6 L859.9,652.6 L865.0,652.6 L870.1,652.6 L875.2,652.6 L880.3,652.5 L885.4,652.5 L890.4,652.5 L895.5,652.5 L900.6,652.4 L905.7,652.4 L910.8,652.4 L915.9,652.4 L921.0,652.4 L926.1,652.3 L931.1,652.3 L936.2,652.3 L941.3,652.3 L946.4,652.3 L951.5,652.3 L956.6,652.2 L961.7,652.2 L966.8,652.2 L971.8,652.2 L976.9,652.2 L982.0,652.2 L987.1,652.2 L992.2,652.2"/>
<path d="M145.7,667.2 L150.8,666.8 L155.9,666.4 L161.0,665.9 L166.1,665.5 L171.2,665.1 L176.3,664.7 L181.4,664.3 L186.5,663.9 L191.6,663.5 L196.7,663.1 L201.8,662.7 L206.9,662.3 L212.0,661.9 L217.1,661.6 L222.2,661.2 L227.3,660.8 L232.4,660.5 L237.5,660.2 L242.6,659.8 L247.7,659.5 L252.8,659.2 L258.0,658.9 L263.1,658.6 L268.2,658.4 L273.3,658.1 L278.4,657.9 L283.5,657.6 L288.6,657.4 L293.7,657.2 L298.8,657.0 L303.9,656.8 L309.0,656.7 L314.1,656.5 L319.2,656.4 L324.3,656.3 L329.4,656.2 L334.5,656.1 L339.6,656.0 L344.7,656.0 L349.8,655.9 L354.9,655.9 L360.0,655.9 L365.1,655.9 L370.2,655.9 L375.3,655.9 L380.4,655.9 L385.5,655.9 L390.6,655.8 L395.7,655.8 L400.8,655.8 L405.9,655.8 L411.0,655.7 L416.1,655.7 L421.2,655.7 L426.3,655.6 L431.4,655.6 L436.5,655.5 L441.6,655.5 L446.7,655.5 L451.8,655.4 L456.9,655.4 L462.0,655.3 L467.0,655.3 L472.1,655.2 L477.2,655.2 L482.3,655.1 L487.4,655.1 L492.5,655.1 L497.6,655.0 L502.7,655.0 L507.8,654.9 L512.9,654.9 L518.0,654.9 L523.1,654.8 L528.2,654.8 L533.3,654.8 L538.4,654.8 L543.5,654.7 L548.6,654.7 L553.7,654.7 L558.8,654.7 L563.9,654.7 L569.0,654.7 L574.1,654.7 L579.2,654.7 L584.3,654.8 L589.4,654.9 L594.5,655.0 L599.7,655.1 L604.8,655.2 L609.9,655.4 L615.0,655.6 L620.1,655.8 L625.2,656.0 L630.3,656.2 L635.4,656.4 L640.5,656.7 L645.6,657.0 L650.8,657.2 L655.9,657.5 L661.0,657.8 L666.1,658.1 L671.2,658.4 L676.3,658.7 L681.4,659.0 L686.5,659.3 L691.6,659.6 L696.7,659.9 L701.8,660.2 L707.0,660.4 L712.1,660.7 L717.2,661.0 L722.3,661.2 L727.4,661.4 L732.5,661.6 L737.6,661.8 L742.7,662.0 L747.8,662.2 L752.9,662.3 L758.1,662.4 L763.2,662.5 L768.3,662.6 L773.4,662.7 L778.5,662.7 L783.6,662.7 L788.7,662.7 L793.8,662.7 L798.9,662.7 L804.0,662.6 L809.0,662.6 L814.1,662.6 L819.2,662.5 L824.3,662.5 L829.4,662.4 L834.5,662.4 L839.6,662.3 L844.7,662.2 L849.7,662.2 L854.8,662.1 L859.9,662.0 L865.0,661.9 L870.1,661.8 L875.2,661.7 L880.3,661.6 L885.4,661.5 L890.4,661.5 L895.5,661.4 L900.6,661.3 L905.7,661.2 L910.8,661.1 L915.9,661.0 L921.0,660.9 L926.1,660.8 L931.1,660.8 L936.2,660.7 L941.3,660.6 L946.4,660.6 L951.5,660.5 L956.6,660.5 L961.7,660.4 L966.8,660.4 L971.8,660.4 L976.9,660.3 L982.0,660.3 L987.1,660.3 L992.2,660.3"/>
<path d="M145.7,667.2 L150.8,666.8 L155.9,666.4 L161.0,666.1 L166.1,665.7 L171.2,665.3 L176.3,665.0 L181.4,664.6 L186.5,664.2 L191.6,663.9 L196.7,663.5 L201.8,663.2 L206.9,662.8 L212.0,662.5 L217.1,662.2 L222.2,661.8 L227.3,661.5 L232.4,661.2 L237.5,660.9 L242.6,660.6 L247.7,660.3 L252.8,660.1 L258.0,659.8 L263.1,659.5 L268.2,659.3 L273.3,659.1 L278.4,658.9 L283.5,658.6 L288.6,658.5 L293.7,658.3 L298.8,658.1 L303.9,657.9 L309.0,657.8 L314.1,657.7 L319.2,657.5 L324.3,657.4 L329.4,657.4 L334.5,657.3 L339.6,657.2 L344.7,657.2 L349.8,657.1 L354.9,657.1 L360.0,657.1 L365.1,657.1 L370.2,657.1 L375.3,657.1 L380.4,657.1 L385.5,657.1 L390.6,657.1 L395.7,657.1 L400.8,657.0 L405.9,657.0 L411.0,657.0 L416.1,657.0 L421.2,657.0 L426.3,657.0 L431.4,656.9 L436.5,656.9 L441.6,656.9 L446.7,656.9 L451.8,656.9 L456.9,656.8 L462.0,656.8 L467.0,656.8 L472.1,656.8 L477.2,656.7 L482.3,656.7 L487.4,656.7 L492.5,656.7 L497.6,656.7 L502.7,656.6 L507.8,656.6 L512.9,656.6 L518.0,656.6 L523.1,656.6 L528.2,656.6 L533.3,656.5 L538.4,656.5 L543.5,656.5 L548.6,656.5 L553.7,656.5 L558.8,656.5 L563.9,656.5 L569.0,656.5 L574.1,656.5 L579.2,656.5 L584.3,656.6 L589.4,656.6 L594.5,656.7 L599.7,656.8 L604.8,656.9 L609.9,657.0 L615.0,657.2 L620.1,657.3 L625.2,657.5 L630.3,657.7 L635.4,657.9 L640.5,658.0 L645.6,658.3 L650.8,658.5 L655.9,658.7 L661.0,658.9 L666.1,659.1 L671.2,659.4 L676.3,659.6 L681.4,659.8 L686.5,660.1 L691.6,660.3 L696.7,660.5 L701.8,660.7 L707.0,660.9 L712.1,661.1 L717.2,661.3 L722.3,661.5 L727.4,661.7 L732.5,661.9 L737.6,662.0 L742.7,662.2 L747.8,662.3 L752.9,662.4 L758.1,662.5 L763.2,662.6 L768.3,662.6 L773.4,662.7 L778.5,662.7 L783.6,662.7 L788.7,662.8 L793.8,662.9 L798.9,663.0 L804.0,663.1 L809.0,663.2 L814.1,663.3 L819.2,663.5 L824.3,663.6 L829.4,663.7 L834.5,663.8 L839.6,663.9 L844.7,664.0 L849.7,664.1 L854.8,664.2 L859.9,664.3 L865.0,664.4 L870.1,664.5 L875.2,664.6 L880.3,664.7 L885.4,664.8 L890.4,665.0 L895.5,665.1 L900.6,665.2 L905.7,665.3 L910.8,665.4 L915.9,665.5 L921.0,665.6 L926.1,665.7 L931.1,665.8 L936.2,665.9 L941.3,666.0 L946.4,666.1 L951.5,666.2 L956.6,666.3 L961.7,666.5 L966.8,666.6 L971.8,666.7 L976.9,666.8 L982.0,666.9 L987.1,667.0 L992.2,667.1"/>
<path d="M145.7,667.2 L150.8,666.6 L155.9,665.9 L161.0,665.3 L166.1,664.6 L171.2,664.0 L176.3,663.4 L181.4,662.7 L186.5,662.1 L191.6,661.5 L196.7,660.9 L201.8,660.3 L206.9,659.7 L212.0,659.2 L217.1,658.6 L222.2,658.0 L227.3,657.5 L232.4,657.0 L237.5,656.5 L242.6,656.0 L247.7,655.5 L252.8,655.0 L258.0,654.6 L263.1,654.2 L268.2,653.8 L273.3,653.4 L278.4,653.0 L283.5,652.6 L288.6,652.3 L293.7,652.0 L298.8,651.7 L303.9,651.4 L309.0,651.2 L314.1,651.0 L319.2,650.8 L324.3,650.6 L329.4,650.4 L334.5,650.3 L339.6,650.2 L344.7,650.1 L349.8,650.0 L354.9,650.0 L360.0,650.0 L365.1,650.0 L370.2,650.0 L375.3,650.0 L380.4,650.0 L385.5,650.1 L390.6,650.1 L395.7,650.1 L400.8,650.2 L405.9,650.2 L411.0,650.3 L416.1,650.3 L421.2,650.4 L426.3,650.5 L431.4,650.5 L436.5,650.6 L441.6,650.7 L446.7,650.7 L451.8,650.8 L456.9,650.9 L462.0,651.0 L467.0,651.0 L472.1,651.1 L477.2,651.2 L482.3,651.3 L487.4,651.3 L492.5,651.4 L497.6,651.5 L502.7,651.5 L507.8,651.6 L512.9,651.7 L518.0,651.7 L523.1,651.8 L528.2,651.8 L533.3,651.9 L538.4,651.9 L543.5,651.9 L548.6,652.0 L553.7,652.0 L558.8,652.0 L563.9,652.0 L569.0,652.0 L574.1,652.0 L579.2,652.0 L584.3,652.0 L589.4,652.1 L594.5,652.1 L599.7,652.1 L604.8,652.2 L609.9,652.2 L615.0,652.3 L620.1,652.4 L625.2,652.4 L630.3,652.5 L635.4,652.6 L640.5,652.7 L645.6,652.8 L650.8,652.9 L655.9,653.0 L661.0,653.0 L666.1,653.1 L671.2,653.2 L676.3,653.4 L681.4,653.5 L686.5,653.6 L691.6,653.7 L696.7,653.7 L701.8,653.8 L707.0,653.9 L712.1,654.0 L717.2,654.1 L722.3,654.2 L727.4,654.3 L732.5,654.3 L737.6,654.4 L742.7,654.5 L747.8,654.5 L752.9,654.6 L758.1,654.6 L763.2,654.6 L768.3,654.7 L773.4,654.7 L778.5,654.7 L783.6,654.7 L788.7,655.0 L793.8,655.3 L798.9,655.6 L804.0,655.9 L809.0,656.2 L814.1,656.5 L819.2,656.8 L824.3,657.1 L829.4,657.4 L834.5,657.7 L839.6,658.0 L844.7,658.3 L849.7,658.6 L854.8,658.9 L859.9,659.2 L865.0,659.5 L870.1,659.8 L875.2,660.1 L880.3,660.4 L885.4,660.7 L890.4,661.1 L895.5,661.4 L900.6,661.7 L905.7,662.0 L910.8,662.3 L915.9,662.6 L921.0,662.9 L926.1,663.2 L931.1,663.5 L936.2,663.8 L941.3,664.1 L946.4,664.4 L951.5,664.7 L956.6,665.0 L961.7,665.3 L966.8,665.6 L971.8,665.9 L976.9,666.2 L982.0,666.5 L987.1,666.8 L992.2,667.1"/>
</g>
<g stroke="#000" stroke-width="1.3" stroke-dasharray="1.5 3.1" fill="none">
<line x1="360.0" y1="47.2" x2="360.0" y2="682.4"/>
<line x1="569.0" y1="47.2" x2="569.0" y2="682.4"/>
<line x1="783.6" y1="47.2" x2="783.6" y2="682.4"/>
</g>
<g fill="none" stroke="#000" stroke-width="1.5" stroke-linejoin="round">
<path d="M145.7,65.3 L150.8,65.3 L155.9,65.3 L161.0,65.3 L166.1,65.3 L171.2,65.3 L176.3,65.4 L181.4,65.4 L186.5,65.4 L191.6,65.4 L196.7,65.5 L201.8,65.5 L206.9,65.5 L212.0,65.6 L217.1,65.6 L222.2,65.6 L227.3,65.7 L232.4,65.7 L237.5,65.8 L242.6,65.8 L247.7,65.9 L252.8,65.9 L258.0,65.9 L263.1,66.0 L268.2,66.0 L273.3,66.1 L278.4,66.1 L283.5,66.2 L288.6,66.2 L293.7,66.2 L298.8,66.3 L303.9,66.3 L309.0,66.3 L314.1,66.4 L319.2,66.4 L324.3,66.4 L329.4,66.4 L334.5,66.5 L339.6,66.5 L344.7,66.5 L349.8,66.5 L354.9,66.5 L360.0,66.5 L365.1,66.5 L370.2,66.5 L375.3,66.6 L380.4,66.6 L385.5,66.7 L390.6,66.8 L395.7,66.9 L400.8,67.1 L405.9,67.2 L411.0,67.4 L416.1,67.6 L421.2,67.7 L426.3,67.9 L431.4,68.1 L436.5,68.4 L441.6,68.6 L446.7,68.8 L451.8,69.1 L456.9,69.3 L462.0,69.5 L467.0,69.8 L472.1,70.0 L477.2,70.2 L482.3,70.5 L487.4,70.7 L492.5,70.9 L497.6,71.2 L502.7,71.4 L507.8,71.6 L512.9,71.7 L518.0,71.9 L523.1,72.1 L528.2,72.2 L533.3,72.4 L538.4,72.5 L543.5,72.6 L548.6,72.7 L553.7,72.7 L558.8,72.8 L563.9,72.8 L569.0,72.8 L574.1,72.8 L579.2,72.8 L584.3,72.7 L589.4,72.7 L594.5,72.6 L599.7,72.5 L604.8,72.4 L609.9,72.3 L615.0,72.2 L620.1,72.0 L625.2,71.9 L630.3,71.7 L635.4,71.5 L640.5,71.3 L645.6,71.2 L650.8,71.0 L655.9,70.8 L661.0,70.5 L666.1,70.3 L671.2,70.1 L676.3,69.9 L681.4,69.7 L686.5,69.5 L691.6,69.3 L696.7,69.0 L701.8,68.8 L707.0,68.6 L712.1,68.5 L717.2,68.3 L722.3,68.1 L727.4,67.9 L732.5,67.8 L737.6,67.6 L742.7,67.5 L747.8,67.4 L752.9,67.3 L758.1,67.2 L763.2,67.1 L768.3,67.1 L773.4,67.0 L778.5,67.0 L783.6,67.0 L788.7,67.0 L793.8,67.0 L798.9,67.0 L804.0,67.0 L809.0,66.9 L814.1,66.9 L819.2,66.9 L824.3,66.8 L829.4,66.8 L834.5,66.7 L839.6,66.7 L844.7,66.6 L849.7,66.6 L854.8,66.5 L859.9,66.4 L865.0,66.4 L870.1,66.3 L875.2,66.2 L880.3,66.2 L885.4,66.1 L890.4,66.0 L895.5,65.9 L900.6,65.9 L905.7,65.8 L910.8,65.7 L915.9,65.7 L921.0,65.6 L926.1,65.5 L931.1,65.5 L936.2,65.4 L941.3,65.4 L946.4,65.3 L951.5,65.3 L956.6,65.2 L961.7,65.2 L966.8,65.2 L971.8,65.1 L976.9,65.1 L982.0,65.1 L987.1,65.1 L992.2,65.1"/>
<path d="M145.7,69.0 L150.8,69.0 L155.9,69.0 L161.0,69.0 L166.1,69.0 L171.2,69.0 L176.3,69.0 L181.4,69.0 L186.5,69.0 L191.6,69.0 L196.7,69.0 L201.8,69.0 L206.9,69.0 L212.0,69.0 L217.1,69.0 L222.2,68.9 L227.3,68.9 L232.4,68.9 L237.5,68.9 L242.6,68.9 L247.7,68.9 L252.8,68.9 L258.0,68.9 L263.1,68.9 L268.2,68.9 L273.3,68.9 L278.4,68.9 L283.5,68.9 L288.6,68.8 L293.7,68.8 L298.8,68.8 L303.9,68.8 L309.0,68.8 L314.1,68.8 L319.2,68.8 L324.3,68.8 L329.4,68.8 L334.5,68.8 L339.6,68.8 L344.7,68.8 L349.8,68.8 L354.9,68.8 L360.0,68.8 L365.1,68.8 L370.2,68.8 L375.3,68.9 L380.4,68.9 L385.5,69.0 L390.6,69.1 L395.7,69.2 L400.8,69.3 L405.9,69.4 L411.0,69.5 L416.1,69.7 L421.2,69.8 L426.3,70.0 L431.4,70.1 L436.5,70.3 L441.6,70.5 L446.7,70.7 L451.8,70.9 L456.9,71.1 L462.0,71.3 L467.0,71.4 L472.1,71.6 L477.2,71.8 L482.3,72.0 L487.4,72.2 L492.5,72.4 L497.6,72.6 L502.7,72.7 L507.8,72.9 L512.9,73.0 L518.0,73.2 L523.1,73.3 L528.2,73.4 L533.3,73.5 L538.4,73.6 L543.5,73.7 L548.6,73.8 L553.7,73.8 L558.8,73.9 L563.9,73.9 L569.0,73.9 L574.1,73.9 L579.2,73.9 L584.3,73.8 L589.4,73.7 L594.5,73.7 L599.7,73.6 L604.8,73.4 L609.9,73.3 L615.0,73.1 L620.1,73.0 L625.2,72.8 L630.3,72.6 L635.4,72.4 L640.5,72.2 L645.6,71.9 L650.8,71.7 L655.9,71.5 L661.0,71.2 L666.1,71.0 L671.2,70.7 L676.3,70.5 L681.4,70.2 L686.5,69.9 L691.6,69.7 L696.7,69.4 L701.8,69.2 L707.0,69.0 L712.1,68.7 L717.2,68.5 L722.3,68.3 L727.4,68.1 L732.5,67.9 L737.6,67.8 L742.7,67.6 L747.8,67.5 L752.9,67.3 L758.1,67.2 L763.2,67.2 L768.3,67.1 L773.4,67.0 L778.5,67.0 L783.6,67.0 L788.7,67.0 L793.8,67.0 L798.9,67.0 L804.0,67.0 L809.0,67.1 L814.1,67.1 L819.2,67.1 L824.3,67.2 L829.4,67.2 L834.5,67.3 L839.6,67.3 L844.7,67.4 L849.7,67.5 L854.8,67.5 L859.9,67.6 L865.0,67.7 L870.1,67.7 L875.2,67.8 L880.3,67.9 L885.4,68.0 L890.4,68.0 L895.5,68.1 L900.6,68.2 L905.7,68.3 L910.8,68.3 L915.9,68.4 L921.0,68.5 L926.1,68.5 L931.1,68.6 L936.2,68.7 L941.3,68.7 L946.4,68.8 L951.5,68.8 L956.6,68.9 L961.7,68.9 L966.8,68.9 L971.8,69.0 L976.9,69.0 L982.0,69.0 L987.1,69.0 L992.2,69.0"/>
<path d="M145.7,72.2 L150.8,72.2 L155.9,72.2 L161.0,72.2 L166.1,72.3 L171.2,72.3 L176.3,72.4 L181.4,72.4 L186.5,72.5 L191.6,72.6 L196.7,72.7 L201.8,72.8 L206.9,72.9 L212.0,73.0 L217.1,73.1 L222.2,73.3 L227.3,73.4 L232.4,73.5 L237.5,73.7 L242.6,73.9 L247.7,74.0 L252.8,74.2 L258.0,74.4 L263.1,74.6 L268.2,74.8 L273.3,75.0 L278.4,75.2 L283.5,75.4 L288.6,75.6 L293.7,75.9 L298.8,76.1 L303.9,76.3 L309.0,76.6 L314.1,76.8 L319.2,77.1 L324.3,77.3 L329.4,77.6 L334.5,77.8 L339.6,78.1 L344.7,78.3 L349.8,78.6 L354.9,78.8 L360.0,79.1 L365.1,79.1 L370.2,79.1 L375.3,79.1 L380.4,79.1 L385.5,79.1 L390.6,79.1 L395.7,79.2 L400.8,79.2 L405.9,79.2 L411.0,79.2 L416.1,79.2 L421.2,79.3 L426.3,79.3 L431.4,79.3 L436.5,79.3 L441.6,79.4 L446.7,79.4 L451.8,79.4 L456.9,79.5 L462.0,79.5 L467.0,79.5 L472.1,79.5 L477.2,79.6 L482.3,79.6 L487.4,79.6 L492.5,79.7 L497.6,79.7 L502.7,79.7 L507.8,79.7 L512.9,79.8 L518.0,79.8 L523.1,79.8 L528.2,79.8 L533.3,79.8 L538.4,79.9 L543.5,79.9 L548.6,79.9 L553.7,79.9 L558.8,79.9 L563.9,79.9 L569.0,79.9 L574.1,79.9 L579.2,80.0 L584.3,80.2 L589.4,80.3 L594.5,80.6 L599.7,80.9 L604.8,81.2 L609.9,81.6 L615.0,82.0 L620.1,82.4 L625.2,82.9 L630.3,83.3 L635.4,83.8 L640.5,84.3 L645.6,84.8 L650.8,85.3 L655.9,85.8 L661.0,86.2 L666.1,86.7 L671.2,87.1 L676.3,87.5 L681.4,87.8 L686.5,88.2 L691.6,88.5 L696.7,88.7 L701.8,89.0 L707.0,89.2 L712.1,89.4 L717.2,89.5 L722.3,89.6 L727.4,89.7 L732.5,89.8 L737.6,89.9 L742.7,89.9 L747.8,90.0 L752.9,90.0 L758.1,90.0 L763.2,90.0 L768.3,90.0 L773.4,90.0 L778.5,90.0 L783.6,90.0 L788.7,90.0 L793.8,90.0 L798.9,90.0 L804.0,90.0 L809.0,90.0 L814.1,90.0 L819.2,90.0 L824.3,90.0 L829.4,90.0 L834.5,90.0 L839.6,90.0 L844.7,90.0 L849.7,90.0 L854.8,90.0 L859.9,90.0 L865.0,90.0 L870.1,90.0 L875.2,90.0 L880.3,90.0 L885.4,90.0 L890.4,90.0 L895.5,90.0 L900.6,90.0 L905.7,90.0 L910.8,90.0 L915.9,90.0 L921.0,90.0 L926.1,90.0 L931.1,90.0 L936.2,90.0 L941.3,90.0 L946.4,90.0 L951.5,90.0 L956.6,90.0 L961.7,90.0 L966.8,90.0 L971.8,90.0 L976.9,90.0 L982.0,90.0 L987.1,90.0 L992.2,90.0"/>
<path d="M145.7,90.0 L150.8,90.0 L155.9,90.0 L161.0,90.0 L166.1,90.0 L171.2,90.0 L176.3,90.0 L181.4,90.0 L186.5,89.9 L191.6,89.9 L196.7,89.9 L201.8,89.8 L206.9,89.7 L212.0,89.6 L217.1,89.5 L222.2,89.4 L227.3,89.2 L232.4,89.0 L237.5,88.8 L242.6,88.5 L247.7,88.3 L252.8,88.0 L258.0,87.7 L263.1,87.3 L268.2,87.0 L273.3,86.6 L278.4,86.2 L283.5,85.8 L288.6,85.4 L293.7,85.1 L298.8,84.7 L303.9,84.3 L309.0,83.9 L314.1,83.6 L319.2,83.2 L324.3,82.9 L329.4,82.7 L334.5,82.5 L339.6,82.3 L344.7,82.1 L349.8,82.0 L354.9,81.9 L360.0,81.9 L365.1,81.9 L370.2,81.9 L375.3,81.9 L380.4,81.9 L385.5,81.9 L390.6,81.8 L395.7,81.8 L400.8,81.8 L405.9,81.8 L411.0,81.7 L416.1,81.7 L421.2,81.7 L426.3,81.6 L431.4,81.6 L436.5,81.6 L441.6,81.5 L446.7,81.5 L451.8,81.5 L456.9,81.4 L462.0,81.4 L467.0,81.3 L472.1,81.3 L477.2,81.2 L482.3,81.2 L487.4,81.2 L492.5,81.1 L497.6,81.1 L502.7,81.1 L507.8,81.0 L512.9,81.0 L518.0,81.0 L523.1,80.9 L528.2,80.9 L533.3,80.9 L538.4,80.9 L543.5,80.8 L548.6,80.8 L553.7,80.8 L558.8,80.8 L563.9,80.8 L569.0,80.8 L574.1,80.8 L579.2,80.9 L584.3,81.0 L589.4,81.2 L594.5,81.4 L599.7,81.7 L604.8,82.0 L609.9,82.3 L615.0,82.7 L620.1,83.1 L625.2,83.5 L630.3,83.9 L635.4,84.4 L640.5,84.8 L645.6,85.3 L650.8,85.7 L655.9,86.1 L661.0,86.6 L666.1,87.0 L671.2,87.3 L676.3,87.7 L681.4,88.0 L686.5,88.3 L691.6,88.6 L696.7,88.9 L701.8,89.1 L707.0,89.3 L712.1,89.4 L717.2,89.6 L722.3,89.7 L727.4,89.8 L732.5,89.8 L737.6,89.9 L742.7,89.9 L747.8,90.0 L752.9,90.0 L758.1,90.0 L763.2,90.0 L768.3,90.0 L773.4,90.0 L778.5,90.0 L783.6,90.0 L788.7,90.0 L793.8,90.0 L798.9,90.0 L804.0,90.0 L809.0,90.0 L814.1,90.0 L819.2,90.0 L824.3,90.0 L829.4,90.0 L834.5,90.0 L839.6,90.0 L844.7,90.0 L849.7,90.0 L854.8,90.0 L859.9,90.0 L865.0,90.0 L870.1,90.0 L875.2,90.0 L880.3,90.0 L885.4,90.0 L890.4,90.0 L895.5,90.0 L900.6,90.0 L905.7,90.0 L910.8,90.0 L915.9,90.0 L921.0,90.0 L926.1,90.0 L931.1,90.0 L936.2,90.0 L941.3,90.0 L946.4,90.0 L951.5,90.0 L956.6,90.0 L961.7,90.0 L966.8,90.0 L971.8,90.0 L976.9,90.0 L982.0,90.0 L987.1,90.0 L992.2,90.0"/>
<path d="M145.7,90.0 L150.8,90.0 L155.9,90.0 L161.0,90.0 L166.1,90.0 L171.2,90.0 L176.3,90.1 L181.4,90.1 L186.5,90.1 L191.6,90.1 L196.7,90.1 L201.8,90.2 L206.9,90.2 L212.0,90.2 L217.1,90.3 L222.2,90.3 L227.3,90.3 L232.4,90.4 L237.5,90.4 L242.6,90.5 L247.7,90.5 L252.8,90.5 L258.0,90.6 L263.1,90.6 L268.2,90.7 L273.3,90.7 L278.4,90.8 L283.5,90.8 L288.6,90.8 L293.7,90.9 L298.8,90.9 L303.9,90.9 L309.0,91.0 L314.1,91.0 L319.2,91.0 L324.3,91.0 L329.4,91.0 L334.5,91.1 L339.6,91.1 L344.7,91.1 L349.8,91.1 L354.9,91.1 L360.0,91.1 L365.1,91.1 L370.2,91.1 L375.3,91.1 L380.4,91.1 L385.5,91.1 L390.6,91.1 L395.7,91.1 L400.8,91.2 L405.9,91.2 L411.0,91.2 L416.1,91.2 L421.2,91.2 L426.3,91.2 L431.4,91.3 L436.5,91.3 L441.6,91.3 L446.7,91.3 L451.8,91.3 L456.9,91.4 L462.0,91.4 L467.0,91.4 L472.1,91.4 L477.2,91.5 L482.3,91.5 L487.4,91.5 L492.5,91.5 L497.6,91.5 L502.7,91.6 L507.8,91.6 L512.9,91.6 L518.0,91.6 L523.1,91.6 L528.2,91.6 L533.3,91.7 L538.4,91.7 L543.5,91.7 L548.6,91.7 L553.7,91.7 L558.8,91.7 L563.9,91.7 L569.0,91.7 L574.1,91.7 L579.2,91.7 L584.3,91.7 L589.4,91.7 L594.5,91.6 L599.7,91.6 L604.8,91.6 L609.9,91.6 L615.0,91.5 L620.1,91.5 L625.2,91.4 L630.3,91.4 L635.4,91.3 L640.5,91.3 L645.6,91.2 L650.8,91.2 L655.9,91.1 L661.0,91.0 L666.1,91.0 L671.2,90.9 L676.3,90.9 L681.4,90.8 L686.5,90.7 L691.6,90.7 L696.7,90.6 L701.8,90.5 L707.0,90.5 L712.1,90.4 L717.2,90.4 L722.3,90.3 L727.4,90.3 L732.5,90.2 L737.6,90.2 L742.7,90.1 L747.8,90.1 L752.9,90.1 L758.1,90.1 L763.2,90.0 L768.3,90.0 L773.4,90.0 L778.5,90.0 L783.6,90.0 L788.7,90.0 L793.8,90.0 L798.9,90.0 L804.0,90.0 L809.0,90.0 L814.1,90.0 L819.2,90.0 L824.3,90.0 L829.4,90.0 L834.5,90.0 L839.6,90.0 L844.7,90.0 L849.7,90.0 L854.8,90.0 L859.9,90.0 L865.0,90.0 L870.1,90.0 L875.2,90.0 L880.3,90.0 L885.4,90.0 L890.4,90.0 L895.5,90.0 L900.6,90.0 L905.7,90.0 L910.8,90.0 L915.9,90.0 L921.0,90.0 L926.1,90.0 L931.1,90.0 L936.2,90.0 L941.3,90.0 L946.4,90.0 L951.5,90.0 L956.6,90.0 L961.7,90.0 L966.8,90.0 L971.8,90.0 L976.9,90.0 L982.0,90.0 L987.1,90.0 L992.2,90.0"/>
<path d="M145.7,104.3 L150.8,104.3 L155.9,104.3 L161.0,104.2 L166.1,104.1 L171.2,104.0 L176.3,103.9 L181.4,103.8 L186.5,103.6 L191.6,103.4 L196.7,103.2 L201.8,103.0 L206.9,102.8 L212.0,102.6 L217.1,102.3 L222.2,102.0 L227.3,101.8 L232.4,101.5 L237.5,101.2 L242.6,100.9 L247.7,100.6 L252.8,100.3 L258.0,100.0 L263.1,99.7 L268.2,99.4 L273.3,99.1 L278.4,98.8 L283.5,98.6 L288.6,98.3 L293.7,98.0 L298.8,97.8 L303.9,97.6 L309.0,97.4 L314.1,97.2 L319.2,97.0 L324.3,96.8 L329.4,96.7 L334.5,96.6 L339.6,96.5 L344.7,96.4 L349.8,96.3 L354.9,96.3 L360.0,96.3 L365.1,96.3 L370.2,96.3 L375.3,96.3 L380.4,96.2 L385.5,96.2 L390.6,96.2 L395.7,96.1 L400.8,96.1 L405.9,96.0 L411.0,96.0 L416.1,95.9 L421.2,95.8 L426.3,95.8 L431.4,95.7 L436.5,95.6 L441.6,95.5 L446.7,95.5 L451.8,95.4 L456.9,95.3 L462.0,95.2 L467.0,95.1 L472.1,95.0 L477.2,94.9 L482.3,94.8 L487.4,94.8 L492.5,94.7 L497.6,94.6 L502.7,94.5 L507.8,94.5 L512.9,94.4 L518.0,94.3 L523.1,94.3 L528.2,94.2 L533.3,94.2 L538.4,94.1 L543.5,94.1 L548.6,94.1 L553.7,94.0 L558.8,94.0 L563.9,94.0 L569.0,94.0 L574.1,94.0 L579.2,94.1 L584.3,94.1 L589.4,94.2 L594.5,94.3 L599.7,94.5 L604.8,94.7 L609.9,94.9 L615.0,95.1 L620.1,95.3 L625.2,95.6 L630.3,95.9 L635.4,96.2 L640.5,96.5 L645.6,96.8 L650.8,97.2 L655.9,97.5 L661.0,97.9 L666.1,98.3 L671.2,98.6 L676.3,99.0 L681.4,99.4 L686.5,99.7 L691.6,100.1 L696.7,100.5 L701.8,100.8 L707.0,101.2 L712.1,101.5 L717.2,101.8 L722.3,102.1 L727.4,102.4 L732.5,102.7 L737.6,102.9 L742.7,103.1 L747.8,103.3 L752.9,103.5 L758.1,103.7 L763.2,103.8 L768.3,103.9 L773.4,103.9 L778.5,104.0 L783.6,104.0 L788.7,104.0 L793.8,104.0 L798.9,104.0 L804.0,104.0 L809.0,104.0 L814.1,104.0 L819.2,104.0 L824.3,104.0 L829.4,104.0 L834.5,104.0 L839.6,104.1 L844.7,104.1 L849.7,104.1 L854.8,104.1 L859.9,104.1 L865.0,104.1 L870.1,104.1 L875.2,104.1 L880.3,104.1 L885.4,104.1 L890.4,104.2 L895.5,104.2 L900.6,104.2 L905.7,104.2 L910.8,104.2 L915.9,104.2 L921.0,104.2 L926.1,104.2 L931.1,104.2 L936.2,104.2 L941.3,104.3 L946.4,104.3 L951.5,104.3 L956.6,104.3 L961.7,104.3 L966.8,104.3 L971.8,104.3 L976.9,104.3 L982.0,104.3 L987.1,104.3 L992.2,104.3"/>
<path d="M145.7,105.4 L150.8,105.4 L155.9,105.4 L161.0,105.4 L166.1,105.4 L171.2,105.4 L176.3,105.3 L181.4,105.3 L186.5,105.3 L191.6,105.3 L196.7,105.3 L201.8,105.2 L206.9,105.2 L212.0,105.2 L217.1,105.1 L222.2,105.1 L227.3,105.1 L232.4,105.0 L237.5,105.0 L242.6,104.9 L247.7,104.9 L252.8,104.9 L258.0,104.8 L263.1,104.8 L268.2,104.7 L273.3,104.7 L278.4,104.6 L283.5,104.6 L288.6,104.6 L293.7,104.5 L298.8,104.5 L303.9,104.5 L309.0,104.4 L314.1,104.4 L319.2,104.4 L324.3,104.4 L329.4,104.4 L334.5,104.3 L339.6,104.3 L344.7,104.3 L349.8,104.3 L354.9,104.3 L360.0,104.3 L365.1,104.3 L370.2,104.3 L375.3,104.3 L380.4,104.3 L385.5,104.3 L390.6,104.3 L395.7,104.3 L400.8,104.3 L405.9,104.3 L411.0,104.3 L416.1,104.3 L421.2,104.3 L426.3,104.3 L431.4,104.3 L436.5,104.3 L441.6,104.3 L446.7,104.3 L451.8,104.3 L456.9,104.3 L462.0,104.3 L467.0,104.3 L472.1,104.3 L477.2,104.3 L482.3,104.3 L487.4,104.3 L492.5,104.3 L497.6,104.3 L502.7,104.3 L507.8,104.3 L512.9,104.3 L518.0,104.3 L523.1,104.3 L528.2,104.3 L533.3,104.3 L538.4,104.3 L543.5,104.3 L548.6,104.3 L553.7,104.3 L558.8,104.3 L563.9,104.3 L569.0,104.3 L574.1,104.3 L579.2,104.3 L584.3,104.3 L589.4,104.3 L594.5,104.3 L599.7,104.3 L604.8,104.3 L609.9,104.3 L615.0,104.4 L620.1,104.4 L625.2,104.4 L630.3,104.4 L635.4,104.4 L640.5,104.4 L645.6,104.4 L650.8,104.5 L655.9,104.5 L661.0,104.5 L666.1,104.5 L671.2,104.5 L676.3,104.5 L681.4,104.6 L686.5,104.6 L691.6,104.6 L696.7,104.6 L701.8,104.6 L707.0,104.7 L712.1,104.7 L717.2,104.7 L722.3,104.7 L727.4,104.7 L732.5,104.7 L737.6,104.7 L742.7,104.8 L747.8,104.8 L752.9,104.8 L758.1,104.8 L763.2,104.8 L768.3,104.8 L773.4,104.8 L778.5,104.8 L783.6,104.8 L788.7,104.8 L793.8,104.8 L798.9,104.8 L804.0,104.8 L809.0,104.8 L814.1,104.8 L819.2,104.8 L824.3,104.8 L829.4,104.8 L834.5,104.8 L839.6,104.8 L844.7,104.8 L849.7,104.8 L854.8,104.8 L859.9,104.8 L865.0,104.8 L870.1,104.8 L875.2,104.8 L880.3,104.8 L885.4,104.8 L890.4,104.8 L895.5,104.8 L900.6,104.8 L905.7,104.8 L910.8,104.8 L915.9,104.8 L921.0,104.8 L926.1,104.8 L931.1,104.8 L936.2,104.8 L941.3,104.8 L946.4,104.8 L951.5,104.8 L956.6,104.8 L961.7,104.8 L966.8,104.8 L971.8,104.8 L976.9,104.8 L982.0,104.8 L987.1,104.8 L992.2,104.8"/>
<path d="M145.7,113.4 L150.8,113.4 L155.9,113.4 L161.0,113.4 L166.1,113.4 L171.2,113.4 L176.3,113.4 L181.4,113.4 L186.5,113.4 L191.6,113.4 L196.7,113.4 L201.8,113.4 L206.9,113.4 L212.0,113.4 L217.1,113.4 L222.2,113.4 L227.3,113.4 L232.4,113.4 L237.5,113.4 L242.6,113.4 L247.7,113.4 L252.8,113.4 L258.0,113.4 L263.1,113.4 L268.2,113.4 L273.3,113.4 L278.4,113.4 L283.5,113.4 L288.6,113.4 L293.7,113.4 L298.8,113.4 L303.9,113.4 L309.0,113.4 L314.1,113.4 L319.2,113.4 L324.3,113.4 L329.4,113.4 L334.5,113.4 L339.6,113.4 L344.7,113.4 L349.8,113.4 L354.9,113.4 L360.0,113.4 L365.1,113.4 L370.2,113.4 L375.3,113.4 L380.4,113.4 L385.5,113.4 L390.6,113.4 L395.7,113.4 L400.8,113.4 L405.9,113.4 L411.0,113.4 L416.1,113.4 L421.2,113.4 L426.3,113.4 L431.4,113.4 L436.5,113.4 L441.6,113.4 L446.7,113.4 L451.8,113.4 L456.9,113.4 L462.0,113.4 L467.0,113.4 L472.1,113.4 L477.2,113.4 L482.3,113.4 L487.4,113.4 L492.5,113.4 L497.6,113.4 L502.7,113.4 L507.8,113.4 L512.9,113.4 L518.0,113.4 L523.1,113.4 L528.2,113.4 L533.3,113.4 L538.4,113.4 L543.5,113.4 L548.6,113.4 L553.7,113.4 L558.8,113.4 L563.9,113.4 L569.0,113.4 L574.1,113.4 L579.2,113.4 L584.3,113.4 L589.4,113.4 L594.5,113.4 L599.7,113.4 L604.8,113.4 L609.9,113.4 L615.0,113.4 L620.1,113.4 L625.2,113.4 L630.3,113.4 L635.4,113.4 L640.5,113.4 L645.6,113.4 L650.8,113.4 L655.9,113.4 L661.0,113.4 L666.1,113.4 L671.2,113.4 L676.3,113.4 L681.4,113.4 L686.5,113.4 L691.6,113.4 L696.7,113.4 L701.8,113.4 L707.0,113.4 L712.1,113.4 L717.2,113.4 L722.3,113.4 L727.4,113.4 L732.5,113.4 L737.6,113.4 L742.7,113.4 L747.8,113.4 L752.9,113.4 L758.1,113.4 L763.2,113.4 L768.3,113.4 L773.4,113.4 L778.5,113.4 L783.6,113.4 L788.7,113.4 L793.8,113.4 L798.9,113.4 L804.0,113.4 L809.0,113.4 L814.1,113.4 L819.2,113.4 L824.3,113.4 L829.4,113.4 L834.5,113.4 L839.6,113.4 L844.7,113.4 L849.7,113.4 L854.8,113.4 L859.9,113.4 L865.0,113.4 L870.1,113.4 L875.2,113.4 L880.3,113.4 L885.4,113.4 L890.4,113.4 L895.5,113.4 L900.6,113.4 L905.7,113.4 L910.8,113.4 L915.9,113.4 L921.0,113.4 L926.1,113.4 L931.1,113.4 L936.2,113.4 L941.3,113.4 L946.4,113.4 L951.5,113.4 L956.6,113.4 L961.7,113.4 L966.8,113.4 L971.8,113.4 L976.9,113.4 L982.0,113.4 L987.1,113.4 L992.2,113.4"/>
<path d="M145.7,390.9 L150.8,390.9 L155.9,390.9 L161.0,390.9 L166.1,390.9 L171.2,390.9 L176.3,391.0 L181.4,391.0 L186.5,391.0 L191.6,391.0 L196.7,391.0 L201.8,391.1 L206.9,391.1 L212.0,391.1 L217.1,391.2 L222.2,391.2 L227.3,391.2 L232.4,391.3 L237.5,391.3 L242.6,391.4 L247.7,391.4 L252.8,391.4 L258.0,391.5 L263.1,391.5 L268.2,391.6 L273.3,391.6 L278.4,391.7 L283.5,391.7 L288.6,391.7 L293.7,391.8 L298.8,391.8 L303.9,391.8 L309.0,391.9 L314.1,391.9 L319.2,391.9 L324.3,391.9 L329.4,391.9 L334.5,392.0 L339.6,392.0 L344.7,392.0 L349.8,392.0 L354.9,392.0 L360.0,392.0 L365.1,392.0 L370.2,392.0 L375.3,392.1 L380.4,392.2 L385.5,392.3 L390.6,392.4 L395.7,392.6 L400.8,392.7 L405.9,392.9 L411.0,393.1 L416.1,393.4 L421.2,393.6 L426.3,393.8 L431.4,394.1 L436.5,394.4 L441.6,394.7 L446.7,395.0 L451.8,395.3 L456.9,395.6 L462.0,395.9 L467.0,396.2 L472.1,396.5 L477.2,396.8 L482.3,397.1 L487.4,397.4 L492.5,397.7 L497.6,398.0 L502.7,398.3 L507.8,398.5 L512.9,398.7 L518.0,399.0 L523.1,399.2 L528.2,399.4 L533.3,399.5 L538.4,399.7 L543.5,399.8 L548.6,399.9 L553.7,400.0 L558.8,400.1 L563.9,400.1 L569.0,400.1 L574.1,400.1 L579.2,400.1 L584.3,400.1 L589.4,400.2 L594.5,400.2 L599.7,400.2 L604.8,400.3 L609.9,400.3 L615.0,400.4 L620.1,400.5 L625.2,400.5 L630.3,400.6 L635.4,400.7 L640.5,400.8 L645.6,400.9 L650.8,401.0 L655.9,401.1 L661.0,401.2 L666.1,401.3 L671.2,401.4 L676.3,401.5 L681.4,401.6 L686.5,401.7 L691.6,401.8 L696.7,401.9 L701.8,402.0 L707.0,402.1 L712.1,402.2 L717.2,402.3 L722.3,402.4 L727.4,402.5 L732.5,402.5 L737.6,402.6 L742.7,402.7 L747.8,402.7 L752.9,402.8 L758.1,402.8 L763.2,402.8 L768.3,402.9 L773.4,402.9 L778.5,402.9 L783.6,402.9 L788.7,402.9 L793.8,402.9 L798.9,402.9 L804.0,402.9 L809.0,402.9 L814.1,402.9 L819.2,402.9 L824.3,402.8 L829.4,402.8 L834.5,402.8 L839.6,402.8 L844.7,402.8 L849.7,402.8 L854.8,402.7 L859.9,402.7 L865.0,402.7 L870.1,402.7 L875.2,402.7 L880.3,402.6 L885.4,402.6 L890.4,402.6 L895.5,402.6 L900.6,402.5 L905.7,402.5 L910.8,402.5 L915.9,402.5 L921.0,402.5 L926.1,402.4 L931.1,402.4 L936.2,402.4 L941.3,402.4 L946.4,402.4 L951.5,402.4 L956.6,402.3 L961.7,402.3 L966.8,402.3 L971.8,402.3 L976.9,402.3 L982.0,402.3 L987.1,402.3 L992.2,402.3"/>
<path d="M145.7,402.3 L150.8,402.3 L155.9,402.3 L161.0,402.3 L166.1,402.4 L171.2,402.4 L176.3,402.5 L181.4,402.5 L186.5,402.6 L191.6,402.7 L196.7,402.8 L201.8,402.9 L206.9,403.0 L212.0,403.1 L217.1,403.2 L222.2,403.3 L227.3,403.4 L232.4,403.5 L237.5,403.7 L242.6,403.8 L247.7,403.9 L252.8,404.1 L258.0,404.2 L263.1,404.3 L268.2,404.4 L273.3,404.6 L278.4,404.7 L283.5,404.8 L288.6,404.9 L293.7,405.0 L298.8,405.1 L303.9,405.2 L309.0,405.3 L314.1,405.4 L319.2,405.5 L324.3,405.6 L329.4,405.6 L334.5,405.7 L339.6,405.7 L344.7,405.8 L349.8,405.8 L354.9,405.8 L360.0,405.8 L365.1,405.8 L370.2,405.8 L375.3,405.7 L380.4,405.7 L385.5,405.6 L390.6,405.5 L395.7,405.4 L400.8,405.3 L405.9,405.2 L411.0,405.1 L416.1,404.9 L421.2,404.8 L426.3,404.6 L431.4,404.4 L436.5,404.3 L441.6,404.1 L446.7,403.9 L451.8,403.7 L456.9,403.5 L462.0,403.3 L467.0,403.1 L472.1,402.9 L477.2,402.7 L482.3,402.5 L487.4,402.3 L492.5,402.1 L497.6,402.0 L502.7,401.8 L507.8,401.6 L512.9,401.5 L518.0,401.3 L523.1,401.2 L528.2,401.1 L533.3,401.0 L538.4,400.9 L543.5,400.8 L548.6,400.7 L553.7,400.7 L558.8,400.6 L563.9,400.6 L569.0,400.6 L574.1,400.6 L579.2,400.6 L584.3,400.6 L589.4,400.7 L594.5,400.7 L599.7,400.7 L604.8,400.8 L609.9,400.9 L615.0,400.9 L620.1,401.0 L625.2,401.1 L630.3,401.1 L635.4,401.2 L640.5,401.3 L645.6,401.4 L650.8,401.5 L655.9,401.6 L661.0,401.7 L666.1,401.8 L671.2,401.9 L676.3,402.1 L681.4,402.2 L686.5,402.3 L691.6,402.4 L696.7,402.5 L701.8,402.6 L707.0,402.7 L712.1,402.8 L717.2,402.9 L722.3,403.0 L727.4,403.0 L732.5,403.1 L737.6,403.2 L742.7,403.2 L747.8,403.3 L752.9,403.4 L758.1,403.4 L763.2,403.4 L768.3,403.5 L773.4,403.5 L778.5,403.5 L783.6,403.5 L788.7,403.5 L793.8,403.5 L798.9,403.5 L804.0,403.5 L809.0,403.5 L814.1,403.5 L819.2,403.5 L824.3,403.6 L829.4,403.6 L834.5,403.6 L839.6,403.6 L844.7,403.6 L849.7,403.6 L854.8,403.7 L859.9,403.7 L865.0,403.7 L870.1,403.7 L875.2,403.7 L880.3,403.8 L885.4,403.8 L890.4,403.8 L895.5,403.8 L900.6,403.9 L905.7,403.9 L910.8,403.9 L915.9,403.9 L921.0,403.9 L926.1,404.0 L931.1,404.0 L936.2,404.0 L941.3,404.0 L946.4,404.0 L951.5,404.0 L956.6,404.1 L961.7,404.1 L966.8,404.1 L971.8,404.1 L976.9,404.1 L982.0,404.1 L987.1,404.1 L992.2,404.1"/>
<path d="M145.7,404.3 L150.8,404.3 L155.9,404.3 L161.0,404.3 L166.1,404.3 L171.2,404.3 L176.3,404.3 L181.4,404.2 L186.5,404.2 L191.6,404.2 L196.7,404.2 L201.8,404.2 L206.9,404.1 L212.0,404.1 L217.1,404.1 L222.2,404.1 L227.3,404.0 L232.4,404.0 L237.5,404.0 L242.6,404.0 L247.7,403.9 L252.8,403.9 L258.0,403.9 L263.1,403.8 L268.2,403.8 L273.3,403.8 L278.4,403.8 L283.5,403.7 L288.6,403.7 L293.7,403.7 L298.8,403.7 L303.9,403.6 L309.0,403.6 L314.1,403.6 L319.2,403.6 L324.3,403.6 L329.4,403.5 L334.5,403.5 L339.6,403.5 L344.7,403.5 L349.8,403.5 L354.9,403.5 L360.0,403.5 L365.1,403.5 L370.2,403.5 L375.3,403.5 L380.4,403.5 L385.5,403.5 L390.6,403.5 L395.7,403.5 L400.8,403.5 L405.9,403.5 L411.0,403.5 L416.1,403.5 L421.2,403.5 L426.3,403.5 L431.4,403.5 L436.5,403.5 L441.6,403.5 L446.7,403.5 L451.8,403.5 L456.9,403.5 L462.0,403.5 L467.0,403.5 L472.1,403.5 L477.2,403.5 L482.3,403.5 L487.4,403.5 L492.5,403.5 L497.6,403.5 L502.7,403.5 L507.8,403.5 L512.9,403.5 L518.0,403.5 L523.1,403.5 L528.2,403.5 L533.3,403.5 L538.4,403.5 L543.5,403.5 L548.6,403.5 L553.7,403.5 L558.8,403.5 L563.9,403.5 L569.0,403.5 L574.1,403.5 L579.2,403.5 L584.3,403.6 L589.4,403.6 L594.5,403.7 L599.7,403.8 L604.8,403.9 L609.9,404.1 L615.0,404.2 L620.1,404.4 L625.2,404.5 L630.3,404.7 L635.4,404.9 L640.5,405.1 L645.6,405.3 L650.8,405.6 L655.9,405.8 L661.0,406.0 L666.1,406.3 L671.2,406.5 L676.3,406.8 L681.4,407.0 L686.5,407.2 L691.6,407.5 L696.7,407.7 L701.8,407.9 L707.0,408.2 L712.1,408.4 L717.2,408.6 L722.3,408.8 L727.4,409.0 L732.5,409.1 L737.6,409.3 L742.7,409.4 L747.8,409.6 L752.9,409.7 L758.1,409.8 L763.2,409.9 L768.3,409.9 L773.4,410.0 L778.5,410.0 L783.6,410.0 L788.7,410.0 L793.8,410.0 L798.9,410.0 L804.0,410.0 L809.0,410.0 L814.1,410.0 L819.2,410.0 L824.3,410.0 L829.4,410.0 L834.5,410.0 L839.6,410.0 L844.7,410.0 L849.7,410.0 L854.8,409.9 L859.9,409.9 L865.0,409.9 L870.1,409.9 L875.2,409.9 L880.3,409.9 L885.4,409.9 L890.4,409.9 L895.5,409.9 L900.6,409.9 L905.7,409.9 L910.8,409.9 L915.9,409.9 L921.0,409.9 L926.1,409.8 L931.1,409.8 L936.2,409.8 L941.3,409.8 L946.4,409.8 L951.5,409.8 L956.6,409.8 L961.7,409.8 L966.8,409.8 L971.8,409.8 L976.9,409.8 L982.0,409.8 L987.1,409.8 L992.2,409.8"/>
<path d="M145.7,410.4 L150.8,410.4 L155.9,410.4 L161.0,410.4 L166.1,410.4 L171.2,410.4 L176.3,410.4 L181.4,410.4 L186.5,410.4 L191.6,410.4 L196.7,410.3 L201.8,410.3 L206.9,410.3 L212.0,410.3 L217.1,410.3 L222.2,410.3 L227.3,410.3 L232.4,410.3 L237.5,410.2 L242.6,410.2 L247.7,410.2 L252.8,410.2 L258.0,410.2 L263.1,410.2 L268.2,410.2 L273.3,410.1 L278.4,410.1 L283.5,410.1 L288.6,410.1 L293.7,410.1 L298.8,410.1 L303.9,410.1 L309.0,410.1 L314.1,410.0 L319.2,410.0 L324.3,410.0 L329.4,410.0 L334.5,410.0 L339.6,410.0 L344.7,410.0 L349.8,410.0 L354.9,410.0 L360.0,410.0 L365.1,410.0 L370.2,410.0 L375.3,410.0 L380.4,409.9 L385.5,409.9 L390.6,409.9 L395.7,409.8 L400.8,409.8 L405.9,409.7 L411.0,409.7 L416.1,409.6 L421.2,409.5 L426.3,409.4 L431.4,409.3 L436.5,409.3 L441.6,409.2 L446.7,409.1 L451.8,409.0 L456.9,408.9 L462.0,408.8 L467.0,408.7 L472.1,408.6 L477.2,408.5 L482.3,408.4 L487.4,408.3 L492.5,408.2 L497.6,408.2 L502.7,408.1 L507.8,408.0 L512.9,407.9 L518.0,407.8 L523.1,407.8 L528.2,407.7 L533.3,407.7 L538.4,407.6 L543.5,407.6 L548.6,407.6 L553.7,407.5 L558.8,407.5 L563.9,407.5 L569.0,407.5 L574.1,407.5 L579.2,407.5 L584.3,407.6 L589.4,407.7 L594.5,407.7 L599.7,407.8 L604.8,408.0 L609.9,408.1 L615.0,408.3 L620.1,408.4 L625.2,408.6 L630.3,408.8 L635.4,409.0 L640.5,409.2 L645.6,409.5 L650.8,409.7 L655.9,409.9 L661.0,410.2 L666.1,410.4 L671.2,410.7 L676.3,410.9 L681.4,411.2 L686.5,411.5 L691.6,411.7 L696.7,412.0 L701.8,412.2 L707.0,412.4 L712.1,412.7 L717.2,412.9 L722.3,413.1 L727.4,413.3 L732.5,413.5 L737.6,413.6 L742.7,413.8 L747.8,413.9 L752.9,414.1 L758.1,414.2 L763.2,414.2 L768.3,414.3 L773.4,414.4 L778.5,414.4 L783.6,414.4 L788.7,414.4 L793.8,414.4 L798.9,414.4 L804.0,414.3 L809.0,414.3 L814.1,414.2 L819.2,414.2 L824.3,414.1 L829.4,414.0 L834.5,413.9 L839.6,413.8 L844.7,413.7 L849.7,413.6 L854.8,413.5 L859.9,413.4 L865.0,413.2 L870.1,413.1 L875.2,413.0 L880.3,412.9 L885.4,412.7 L890.4,412.6 L895.5,412.4 L900.6,412.3 L905.7,412.2 L910.8,412.1 L915.9,411.9 L921.0,411.8 L926.1,411.7 L931.1,411.6 L936.2,411.5 L941.3,411.4 L946.4,411.3 L951.5,411.2 L956.6,411.1 L961.7,411.1 L966.8,411.0 L971.8,411.0 L976.9,410.9 L982.0,410.9 L987.1,410.9 L992.2,410.9"/>
<path d="M145.7,413.2 L150.8,413.2 L155.9,413.2 L161.0,413.2 L166.1,413.2 L171.2,413.1 L176.3,413.1 L181.4,413.1 L186.5,413.1 L191.6,413.0 L196.7,413.0 L201.8,412.9 L206.9,412.9 L212.0,412.8 L217.1,412.8 L222.2,412.7 L227.3,412.7 L232.4,412.6 L237.5,412.5 L242.6,412.5 L247.7,412.4 L252.8,412.4 L258.0,412.3 L263.1,412.2 L268.2,412.2 L273.3,412.1 L278.4,412.0 L283.5,412.0 L288.6,411.9 L293.7,411.9 L298.8,411.8 L303.9,411.8 L309.0,411.7 L314.1,411.7 L319.2,411.6 L324.3,411.6 L329.4,411.6 L334.5,411.6 L339.6,411.5 L344.7,411.5 L349.8,411.5 L354.9,411.5 L360.0,411.5 L365.1,411.5 L370.2,411.5 L375.3,411.5 L380.4,411.5 L385.5,411.5 L390.6,411.5 L395.7,411.5 L400.8,411.5 L405.9,411.4 L411.0,411.4 L416.1,411.4 L421.2,411.4 L426.3,411.4 L431.4,411.4 L436.5,411.4 L441.6,411.3 L446.7,411.3 L451.8,411.3 L456.9,411.3 L462.0,411.3 L467.0,411.2 L472.1,411.2 L477.2,411.2 L482.3,411.2 L487.4,411.2 L492.5,411.1 L497.6,411.1 L502.7,411.1 L507.8,411.1 L512.9,411.1 L518.0,411.1 L523.1,411.1 L528.2,411.0 L533.3,411.0 L538.4,411.0 L543.5,411.0 L548.6,411.0 L553.7,411.0 L558.8,411.0 L563.9,411.0 L569.0,411.0 L574.1,411.0 L579.2,411.0 L584.3,411.1 L589.4,411.1 L594.5,411.2 L599.7,411.2 L604.8,411.3 L609.9,411.4 L615.0,411.5 L620.1,411.6 L625.2,411.7 L630.3,411.8 L635.4,412.0 L640.5,412.1 L645.6,412.3 L650.8,412.4 L655.9,412.6 L661.0,412.7 L666.1,412.9 L671.2,413.1 L676.3,413.2 L681.4,413.4 L686.5,413.6 L691.6,413.8 L696.7,413.9 L701.8,414.1 L707.0,414.2 L712.1,414.4 L717.2,414.5 L722.3,414.7 L727.4,414.8 L732.5,414.9 L737.6,415.0 L742.7,415.1 L747.8,415.2 L752.9,415.3 L758.1,415.3 L763.2,415.4 L768.3,415.4 L773.4,415.5 L778.5,415.5 L783.6,415.5 L788.7,415.5 L793.8,415.5 L798.9,415.5 L804.0,415.5 L809.0,415.5 L814.1,415.5 L819.2,415.5 L824.3,415.5 L829.4,415.4 L834.5,415.4 L839.6,415.4 L844.7,415.4 L849.7,415.4 L854.8,415.4 L859.9,415.4 L865.0,415.3 L870.1,415.3 L875.2,415.3 L880.3,415.3 L885.4,415.3 L890.4,415.2 L895.5,415.2 L900.6,415.2 L905.7,415.2 L910.8,415.2 L915.9,415.1 L921.0,415.1 L926.1,415.1 L931.1,415.1 L936.2,415.1 L941.3,415.1 L946.4,415.1 L951.5,415.0 L956.6,415.0 L961.7,415.0 L966.8,415.0 L971.8,415.0 L976.9,415.0 L982.0,415.0 L987.1,415.0 L992.2,415.0"/>
<path d="M145.7,415.0 L150.8,415.0 L155.9,415.0 L161.0,415.0 L166.1,415.0 L171.2,415.0 L176.3,415.0 L181.4,415.0 L186.5,415.1 L191.6,415.1 L196.7,415.2 L201.8,415.3 L206.9,415.4 L212.0,415.5 L217.1,415.6 L222.2,415.8 L227.3,416.0 L232.4,416.3 L237.5,416.6 L242.6,416.9 L247.7,417.2 L252.8,417.6 L258.0,418.0 L263.1,418.4 L268.2,418.8 L273.3,419.3 L278.4,419.8 L283.5,420.3 L288.6,420.8 L293.7,421.3 L298.8,421.8 L303.9,422.3 L309.0,422.7 L314.1,423.2 L319.2,423.6 L324.3,424.0 L329.4,424.3 L334.5,424.6 L339.6,424.8 L344.7,425.0 L349.8,425.2 L354.9,425.3 L360.0,425.3 L365.1,425.3 L370.2,425.3 L375.3,425.3 L380.4,425.3 L385.5,425.3 L390.6,425.3 L395.7,425.3 L400.8,425.3 L405.9,425.3 L411.0,425.3 L416.1,425.3 L421.2,425.3 L426.3,425.3 L431.4,425.3 L436.5,425.3 L441.6,425.3 L446.7,425.3 L451.8,425.3 L456.9,425.3 L462.0,425.3 L467.0,425.3 L472.1,425.3 L477.2,425.3 L482.3,425.3 L487.4,425.3 L492.5,425.3 L497.6,425.3 L502.7,425.3 L507.8,425.3 L512.9,425.3 L518.0,425.3 L523.1,425.3 L528.2,425.3 L533.3,425.3 L538.4,425.3 L543.5,425.3 L548.6,425.3 L553.7,425.3 L558.8,425.3 L563.9,425.3 L569.0,425.3 L574.1,425.3 L579.2,425.2 L584.3,425.2 L589.4,425.1 L594.5,424.9 L599.7,424.8 L604.8,424.6 L609.9,424.4 L615.0,424.1 L620.1,423.8 L625.2,423.6 L630.3,423.2 L635.4,422.9 L640.5,422.6 L645.6,422.2 L650.8,421.8 L655.9,421.5 L661.0,421.1 L666.1,420.7 L671.2,420.3 L676.3,419.9 L681.4,419.4 L686.5,419.0 L691.6,418.6 L696.7,418.2 L701.8,417.9 L707.0,417.5 L712.1,417.1 L717.2,416.8 L722.3,416.5 L727.4,416.1 L732.5,415.9 L737.6,415.6 L742.7,415.3 L747.8,415.1 L752.9,414.9 L758.1,414.8 L763.2,414.6 L768.3,414.5 L773.4,414.5 L778.5,414.4 L783.6,414.4 L788.7,414.4 L793.8,414.4 L798.9,414.4 L804.0,414.4 L809.0,414.4 L814.1,414.5 L819.2,414.5 L824.3,414.5 L829.4,414.5 L834.5,414.6 L839.6,414.6 L844.7,414.6 L849.7,414.7 L854.8,414.7 L859.9,414.7 L865.0,414.8 L870.1,414.8 L875.2,414.8 L880.3,414.9 L885.4,414.9 L890.4,415.0 L895.5,415.0 L900.6,415.1 L905.7,415.1 L910.8,415.1 L915.9,415.2 L921.0,415.2 L926.1,415.2 L931.1,415.3 L936.2,415.3 L941.3,415.3 L946.4,415.4 L951.5,415.4 L956.6,415.4 L961.7,415.4 L966.8,415.5 L971.8,415.5 L976.9,415.5 L982.0,415.5 L987.1,415.5 L992.2,415.5"/>
<path d="M145.7,439.0 L150.8,439.0 L155.9,439.0 L161.0,438.9 L166.1,438.8 L171.2,438.7 L176.3,438.6 L181.4,438.5 L186.5,438.4 L191.6,438.2 L196.7,438.0 L201.8,437.8 L206.9,437.6 L212.0,437.4 L217.1,437.2 L222.2,436.9 L227.3,436.7 L232.4,436.4 L237.5,436.1 L242.6,435.9 L247.7,435.6 L252.8,435.3 L258.0,435.0 L263.1,434.7 L268.2,434.5 L273.3,434.2 L278.4,433.9 L283.5,433.7 L288.6,433.5 L293.7,433.2 L298.8,433.0 L303.9,432.8 L309.0,432.6 L314.1,432.4 L319.2,432.2 L324.3,432.1 L329.4,432.0 L334.5,431.9 L339.6,431.8 L344.7,431.7 L349.8,431.6 L354.9,431.6 L360.0,431.6 L365.1,431.6 L370.2,431.6 L375.3,431.6 L380.4,431.6 L385.5,431.6 L390.6,431.5 L395.7,431.5 L400.8,431.5 L405.9,431.5 L411.0,431.4 L416.1,431.4 L421.2,431.4 L426.3,431.3 L431.4,431.3 L436.5,431.2 L441.6,431.2 L446.7,431.2 L451.8,431.1 L456.9,431.1 L462.0,431.0 L467.0,431.0 L472.1,430.9 L477.2,430.9 L482.3,430.8 L487.4,430.8 L492.5,430.8 L497.6,430.7 L502.7,430.7 L507.8,430.6 L512.9,430.6 L518.0,430.6 L523.1,430.5 L528.2,430.5 L533.3,430.5 L538.4,430.5 L543.5,430.4 L548.6,430.4 L553.7,430.4 L558.8,430.4 L563.9,430.4 L569.0,430.4 L574.1,430.4 L579.2,430.5 L584.3,430.6 L589.4,430.7 L594.5,430.8 L599.7,431.0 L604.8,431.2 L609.9,431.5 L615.0,431.7 L620.1,432.0 L625.2,432.3 L630.3,432.7 L635.4,433.0 L640.5,433.4 L645.6,433.8 L650.8,434.2 L655.9,434.7 L661.0,435.1 L666.1,435.5 L671.2,436.0 L676.3,436.4 L681.4,436.9 L686.5,437.4 L691.6,437.8 L696.7,438.2 L701.8,438.7 L707.0,439.1 L712.1,439.5 L717.2,439.9 L722.3,440.2 L727.4,440.6 L732.5,440.9 L737.6,441.2 L742.7,441.4 L747.8,441.7 L752.9,441.9 L758.1,442.1 L763.2,442.2 L768.3,442.3 L773.4,442.4 L778.5,442.5 L783.6,442.5 L788.7,442.5 L793.8,442.5 L798.9,442.5 L804.0,442.5 L809.0,442.5 L814.1,442.5 L819.2,442.5 L824.3,442.5 L829.4,442.5 L834.5,442.5 L839.6,442.5 L844.7,442.5 L849.7,442.5 L854.8,442.5 L859.9,442.5 L865.0,442.5 L870.1,442.5 L875.2,442.5 L880.3,442.5 L885.4,442.5 L890.4,442.5 L895.5,442.5 L900.6,442.5 L905.7,442.5 L910.8,442.5 L915.9,442.5 L921.0,442.5 L926.1,442.5 L931.1,442.5 L936.2,442.5 L941.3,442.5 L946.4,442.5 L951.5,442.5 L956.6,442.5 L961.7,442.5 L966.8,442.5 L971.8,442.5 L976.9,442.5 L982.0,442.5 L987.1,442.5 L992.2,442.5"/>
<path d="M145.7,443.6 L150.8,443.6 L155.9,443.5 L161.0,443.4 L166.1,443.3 L171.2,443.1 L176.3,442.9 L181.4,442.6 L186.5,442.4 L191.6,442.0 L196.7,441.7 L201.8,441.3 L206.9,440.9 L212.0,440.5 L217.1,440.0 L222.2,439.6 L227.3,439.1 L232.4,438.6 L237.5,438.0 L242.6,437.5 L247.7,437.0 L252.8,436.5 L258.0,435.9 L263.1,435.4 L268.2,434.9 L273.3,434.3 L278.4,433.8 L283.5,433.3 L288.6,432.9 L293.7,432.4 L298.8,432.0 L303.9,431.6 L309.0,431.2 L314.1,430.9 L319.2,430.5 L324.3,430.3 L329.4,430.0 L334.5,429.8 L339.6,429.6 L344.7,429.5 L349.8,429.4 L354.9,429.3 L360.0,429.3 L365.1,429.3 L370.2,429.3 L375.3,429.3 L380.4,429.4 L385.5,429.4 L390.6,429.4 L395.7,429.5 L400.8,429.6 L405.9,429.6 L411.0,429.7 L416.1,429.8 L421.2,429.9 L426.3,429.9 L431.4,430.0 L436.5,430.1 L441.6,430.2 L446.7,430.3 L451.8,430.4 L456.9,430.5 L462.0,430.6 L467.0,430.8 L472.1,430.9 L477.2,431.0 L482.3,431.1 L487.4,431.2 L492.5,431.3 L497.6,431.4 L502.7,431.5 L507.8,431.5 L512.9,431.6 L518.0,431.7 L523.1,431.8 L528.2,431.8 L533.3,431.9 L538.4,432.0 L543.5,432.0 L548.6,432.0 L553.7,432.1 L558.8,432.1 L563.9,432.1 L569.0,432.1 L574.1,432.1 L579.2,432.2 L584.3,432.2 L589.4,432.4 L594.5,432.5 L599.7,432.7 L604.8,432.9 L609.9,433.1 L615.0,433.4 L620.1,433.6 L625.2,433.9 L630.3,434.3 L635.4,434.6 L640.5,435.0 L645.6,435.4 L650.8,435.7 L655.9,436.2 L661.0,436.6 L666.1,437.0 L671.2,437.4 L676.3,437.9 L681.4,438.3 L686.5,438.7 L691.6,439.1 L696.7,439.5 L701.8,440.0 L707.0,440.3 L712.1,440.7 L717.2,441.1 L722.3,441.4 L727.4,441.8 L732.5,442.1 L737.6,442.3 L742.7,442.6 L747.8,442.8 L752.9,443.0 L758.1,443.2 L763.2,443.3 L768.3,443.5 L773.4,443.5 L778.5,443.6 L783.6,443.6 L788.7,443.6 L793.8,443.6 L798.9,443.6 L804.0,443.6 L809.0,443.6 L814.1,443.6 L819.2,443.6 L824.3,443.6 L829.4,443.6 L834.5,443.6 L839.6,443.6 L844.7,443.6 L849.7,443.6 L854.8,443.6 L859.9,443.6 L865.0,443.6 L870.1,443.6 L875.2,443.6 L880.3,443.6 L885.4,443.6 L890.4,443.6 L895.5,443.6 L900.6,443.6 L905.7,443.6 L910.8,443.6 L915.9,443.6 L921.0,443.6 L926.1,443.6 L931.1,443.6 L936.2,443.6 L941.3,443.6 L946.4,443.6 L951.5,443.6 L956.6,443.6 L961.7,443.6 L966.8,443.6 L971.8,443.6 L976.9,443.6 L982.0,443.6 L987.1,443.6 L992.2,443.6"/>
<path d="M145.7,439.0 L150.8,439.0 L155.9,439.0 L161.0,439.0 L166.1,439.0 L171.2,439.0 L176.3,439.1 L181.4,439.1 L186.5,439.1 L191.6,439.1 L196.7,439.2 L201.8,439.2 L206.9,439.2 L212.0,439.3 L217.1,439.3 L222.2,439.3 L227.3,439.4 L232.4,439.4 L237.5,439.5 L242.6,439.5 L247.7,439.6 L252.8,439.6 L258.0,439.6 L263.1,439.7 L268.2,439.7 L273.3,439.8 L278.4,439.8 L283.5,439.9 L288.6,439.9 L293.7,439.9 L298.8,440.0 L303.9,440.0 L309.0,440.0 L314.1,440.1 L319.2,440.1 L324.3,440.1 L329.4,440.1 L334.5,440.2 L339.6,440.2 L344.7,440.2 L349.8,440.2 L354.9,440.2 L360.0,440.2 L365.1,440.2 L370.2,440.2 L375.3,440.2 L380.4,440.2 L385.5,440.2 L390.6,440.2 L395.7,440.2 L400.8,440.2 L405.9,440.2 L411.0,440.2 L416.1,440.2 L421.2,440.2 L426.3,440.2 L431.4,440.2 L436.5,440.2 L441.6,440.2 L446.7,440.2 L451.8,440.2 L456.9,440.2 L462.0,440.2 L467.0,440.2 L472.1,440.2 L477.2,440.2 L482.3,440.2 L487.4,440.2 L492.5,440.2 L497.6,440.2 L502.7,440.2 L507.8,440.2 L512.9,440.2 L518.0,440.2 L523.1,440.2 L528.2,440.2 L533.3,440.2 L538.4,440.2 L543.5,440.2 L548.6,440.2 L553.7,440.2 L558.8,440.2 L563.9,440.2 L569.0,440.2 L574.1,440.2 L579.2,440.2 L584.3,440.2 L589.4,440.3 L594.5,440.3 L599.7,440.4 L604.8,440.4 L609.9,440.5 L615.0,440.6 L620.1,440.7 L625.2,440.7 L630.3,440.8 L635.4,440.9 L640.5,441.1 L645.6,441.2 L650.8,441.3 L655.9,441.4 L661.0,441.5 L666.1,441.6 L671.2,441.8 L676.3,441.9 L681.4,442.0 L686.5,442.2 L691.6,442.3 L696.7,442.4 L701.8,442.5 L707.0,442.6 L712.1,442.8 L717.2,442.9 L722.3,443.0 L727.4,443.1 L732.5,443.1 L737.6,443.2 L742.7,443.3 L747.8,443.4 L752.9,443.4 L758.1,443.5 L763.2,443.5 L768.3,443.6 L773.4,443.6 L778.5,443.6 L783.6,443.6 L788.7,443.6 L793.8,443.6 L798.9,443.6 L804.0,443.6 L809.0,443.6 L814.1,443.6 L819.2,443.6 L824.3,443.6 L829.4,443.6 L834.5,443.6 L839.6,443.6 L844.7,443.6 L849.7,443.6 L854.8,443.6 L859.9,443.6 L865.0,443.6 L870.1,443.6 L875.2,443.6 L880.3,443.6 L885.4,443.6 L890.4,443.6 L895.5,443.6 L900.6,443.6 L905.7,443.6 L910.8,443.6 L915.9,443.6 L921.0,443.6 L926.1,443.6 L931.1,443.6 L936.2,443.6 L941.3,443.6 L946.4,443.6 L951.5,443.6 L956.6,443.6 L961.7,443.6 L966.8,443.6 L971.8,443.6 L976.9,443.6 L982.0,443.6 L987.1,443.6 L992.2,443.6"/>
<path d="M145.7,449.3 L150.8,449.3 L155.9,449.3 L161.0,449.3 L166.1,449.3 L171.2,449.3 L176.3,449.3 L181.4,449.3 L186.5,449.4 L191.6,449.4 L196.7,449.4 L201.8,449.4 L206.9,449.4 L212.0,449.4 L217.1,449.4 L222.2,449.5 L227.3,449.5 L232.4,449.5 L237.5,449.5 L242.6,449.6 L247.7,449.6 L252.8,449.6 L258.0,449.6 L263.1,449.6 L268.2,449.7 L273.3,449.7 L278.4,449.7 L283.5,449.7 L288.6,449.8 L293.7,449.8 L298.8,449.8 L303.9,449.8 L309.0,449.8 L314.1,449.8 L319.2,449.8 L324.3,449.9 L329.4,449.9 L334.5,449.9 L339.6,449.9 L344.7,449.9 L349.8,449.9 L354.9,449.9 L360.0,449.9 L365.1,449.9 L370.2,449.9 L375.3,449.9 L380.4,449.9 L385.5,449.9 L390.6,449.9 L395.7,449.9 L400.8,449.9 L405.9,449.9 L411.0,449.9 L416.1,449.9 L421.2,449.9 L426.3,449.9 L431.4,449.9 L436.5,449.9 L441.6,449.9 L446.7,449.9 L451.8,449.9 L456.9,449.9 L462.0,449.9 L467.0,449.9 L472.1,449.9 L477.2,449.9 L482.3,449.9 L487.4,449.9 L492.5,449.9 L497.6,449.9 L502.7,449.9 L507.8,449.9 L512.9,449.9 L518.0,449.9 L523.1,449.9 L528.2,449.9 L533.3,449.9 L538.4,449.9 L543.5,449.9 L548.6,449.9 L553.7,449.9 L558.8,449.9 L563.9,449.9 L569.0,449.9 L574.1,449.9 L579.2,449.9 L584.3,449.9 L589.4,449.9 L594.5,449.9 L599.7,449.9 L604.8,449.9 L609.9,449.8 L615.0,449.8 L620.1,449.8 L625.2,449.8 L630.3,449.8 L635.4,449.8 L640.5,449.8 L645.6,449.7 L650.8,449.7 L655.9,449.7 L661.0,449.7 L666.1,449.6 L671.2,449.6 L676.3,449.6 L681.4,449.6 L686.5,449.6 L691.6,449.5 L696.7,449.5 L701.8,449.5 L707.0,449.5 L712.1,449.4 L717.2,449.4 L722.3,449.4 L727.4,449.4 L732.5,449.4 L737.6,449.4 L742.7,449.4 L747.8,449.3 L752.9,449.3 L758.1,449.3 L763.2,449.3 L768.3,449.3 L773.4,449.3 L778.5,449.3 L783.6,449.3 L788.7,449.3 L793.8,449.3 L798.9,449.3 L804.0,449.3 L809.0,449.3 L814.1,449.3 L819.2,449.3 L824.3,449.3 L829.4,449.3 L834.5,449.3 L839.6,449.3 L844.7,449.3 L849.7,449.3 L854.8,449.3 L859.9,449.3 L865.0,449.3 L870.1,449.3 L875.2,449.3 L880.3,449.3 L885.4,449.3 L890.4,449.3 L895.5,449.3 L900.6,449.3 L905.7,449.3 L910.8,449.3 L915.9,449.3 L921.0,449.3 L926.1,449.3 L931.1,449.3 L936.2,449.3 L941.3,449.3 L946.4,449.3 L951.5,449.3 L956.6,449.3 L961.7,449.3 L966.8,449.3 L971.8,449.3 L976.9,449.3 L982.0,449.3 L987.1,449.3 L992.2,449.3"/>
<path d="M145.7,449.9 L150.8,449.9 L155.9,449.9 L161.0,449.9 L166.1,450.0 L171.2,450.0 L176.3,450.1 L181.4,450.1 L186.5,450.2 L191.6,450.3 L196.7,450.4 L201.8,450.4 L206.9,450.5 L212.0,450.6 L217.1,450.8 L222.2,450.9 L227.3,451.0 L232.4,451.1 L237.5,451.2 L242.6,451.3 L247.7,451.5 L252.8,451.6 L258.0,451.7 L263.1,451.9 L268.2,452.0 L273.3,452.1 L278.4,452.2 L283.5,452.3 L288.6,452.4 L293.7,452.6 L298.8,452.7 L303.9,452.8 L309.0,452.8 L314.1,452.9 L319.2,453.0 L324.3,453.1 L329.4,453.1 L334.5,453.2 L339.6,453.2 L344.7,453.3 L349.8,453.3 L354.9,453.3 L360.0,453.3 L365.1,453.3 L370.2,453.3 L375.3,453.3 L380.4,453.3 L385.5,453.3 L390.6,453.3 L395.7,453.3 L400.8,453.4 L405.9,453.4 L411.0,453.4 L416.1,453.4 L421.2,453.4 L426.3,453.4 L431.4,453.5 L436.5,453.5 L441.6,453.5 L446.7,453.5 L451.8,453.5 L456.9,453.6 L462.0,453.6 L467.0,453.6 L472.1,453.6 L477.2,453.7 L482.3,453.7 L487.4,453.7 L492.5,453.7 L497.6,453.7 L502.7,453.8 L507.8,453.8 L512.9,453.8 L518.0,453.8 L523.1,453.8 L528.2,453.8 L533.3,453.9 L538.4,453.9 L543.5,453.9 L548.6,453.9 L553.7,453.9 L558.8,453.9 L563.9,453.9 L569.0,453.9 L574.1,453.9 L579.2,453.9 L584.3,453.8 L589.4,453.8 L594.5,453.8 L599.7,453.7 L604.8,453.6 L609.9,453.6 L615.0,453.5 L620.1,453.4 L625.2,453.3 L630.3,453.1 L635.4,453.0 L640.5,452.9 L645.6,452.8 L650.8,452.6 L655.9,452.5 L661.0,452.3 L666.1,452.2 L671.2,452.0 L676.3,451.9 L681.4,451.8 L686.5,451.6 L691.6,451.5 L696.7,451.3 L701.8,451.2 L707.0,451.0 L712.1,450.9 L717.2,450.8 L722.3,450.7 L727.4,450.5 L732.5,450.4 L737.6,450.3 L742.7,450.2 L747.8,450.2 L752.9,450.1 L758.1,450.0 L763.2,450.0 L768.3,450.0 L773.4,449.9 L778.5,449.9 L783.6,449.9 L788.7,449.9 L793.8,449.9 L798.9,449.9 L804.0,449.9 L809.0,449.9 L814.1,449.9 L819.2,449.9 L824.3,449.9 L829.4,449.9 L834.5,449.9 L839.6,449.9 L844.7,449.9 L849.7,449.9 L854.8,449.9 L859.9,449.9 L865.0,449.9 L870.1,449.9 L875.2,449.9 L880.3,449.9 L885.4,449.9 L890.4,449.9 L895.5,449.9 L900.6,449.9 L905.7,449.9 L910.8,449.9 L915.9,449.9 L921.0,449.9 L926.1,449.9 L931.1,449.9 L936.2,449.9 L941.3,449.9 L946.4,449.9 L951.5,449.9 L956.6,449.9 L961.7,449.9 L966.8,449.9 L971.8,449.9 L976.9,449.9 L982.0,449.9 L987.1,449.9 L992.2,449.9"/>
<path d="M145.7,456.2 L150.8,456.2 L155.9,456.2 L161.0,456.2 L166.1,456.3 L171.2,456.3 L176.3,456.3 L181.4,456.4 L186.5,456.4 L191.6,456.5 L196.7,456.5 L201.8,456.6 L206.9,456.6 L212.0,456.7 L217.1,456.8 L222.2,456.9 L227.3,456.9 L232.4,457.0 L237.5,457.1 L242.6,457.2 L247.7,457.3 L252.8,457.3 L258.0,457.4 L263.1,457.5 L268.2,457.6 L273.3,457.7 L278.4,457.8 L283.5,457.8 L288.6,457.9 L293.7,458.0 L298.8,458.1 L303.9,458.1 L309.0,458.2 L314.1,458.2 L319.2,458.3 L324.3,458.3 L329.4,458.4 L334.5,458.4 L339.6,458.4 L344.7,458.5 L349.8,458.5 L354.9,458.5 L360.0,458.5 L365.1,458.5 L370.2,458.5 L375.3,458.5 L380.4,458.5 L385.5,458.5 L390.6,458.5 L395.7,458.5 L400.8,458.5 L405.9,458.5 L411.0,458.5 L416.1,458.5 L421.2,458.5 L426.3,458.5 L431.4,458.5 L436.5,458.5 L441.6,458.5 L446.7,458.5 L451.8,458.5 L456.9,458.5 L462.0,458.5 L467.0,458.5 L472.1,458.5 L477.2,458.5 L482.3,458.5 L487.4,458.5 L492.5,458.5 L497.6,458.5 L502.7,458.5 L507.8,458.5 L512.9,458.5 L518.0,458.5 L523.1,458.5 L528.2,458.5 L533.3,458.5 L538.4,458.5 L543.5,458.5 L548.6,458.5 L553.7,458.5 L558.8,458.5 L563.9,458.5 L569.0,458.5 L574.1,458.5 L579.2,458.5 L584.3,458.5 L589.4,458.4 L594.5,458.4 L599.7,458.4 L604.8,458.3 L609.9,458.3 L615.0,458.2 L620.1,458.2 L625.2,458.1 L630.3,458.1 L635.4,458.0 L640.5,457.9 L645.6,457.8 L650.8,457.8 L655.9,457.7 L661.0,457.6 L666.1,457.5 L671.2,457.4 L676.3,457.4 L681.4,457.3 L686.5,457.2 L691.6,457.1 L696.7,457.0 L701.8,456.9 L707.0,456.9 L712.1,456.8 L717.2,456.7 L722.3,456.6 L727.4,456.6 L732.5,456.5 L737.6,456.5 L742.7,456.4 L747.8,456.4 L752.9,456.3 L758.1,456.3 L763.2,456.3 L768.3,456.2 L773.4,456.2 L778.5,456.2 L783.6,456.2 L788.7,456.2 L793.8,456.2 L798.9,456.2 L804.0,456.2 L809.0,456.2 L814.1,456.2 L819.2,456.2 L824.3,456.2 L829.4,456.2 L834.5,456.2 L839.6,456.2 L844.7,456.2 L849.7,456.2 L854.8,456.2 L859.9,456.2 L865.0,456.2 L870.1,456.2 L875.2,456.2 L880.3,456.2 L885.4,456.2 L890.4,456.2 L895.5,456.2 L900.6,456.2 L905.7,456.2 L910.8,456.2 L915.9,456.2 L921.0,456.2 L926.1,456.2 L931.1,456.2 L936.2,456.2 L941.3,456.2 L946.4,456.2 L951.5,456.2 L956.6,456.2 L961.7,456.2 L966.8,456.2 L971.8,456.2 L976.9,456.2 L982.0,456.2 L987.1,456.2 L992.2,456.2"/>
<path d="M145.7,506.4 L150.8,506.4 L155.9,506.4 L161.0,506.4 L166.1,506.4 L171.2,506.4 L176.3,506.4 L181.4,506.4 L186.5,506.3 L191.6,506.3 L196.7,506.3 L201.8,506.3 L206.9,506.3 L212.0,506.2 L217.1,506.2 L222.2,506.2 L227.3,506.2 L232.4,506.2 L237.5,506.1 L242.6,506.1 L247.7,506.1 L252.8,506.1 L258.0,506.0 L263.1,506.0 L268.2,506.0 L273.3,505.9 L278.4,505.9 L283.5,505.9 L288.6,505.9 L293.7,505.9 L298.8,505.8 L303.9,505.8 L309.0,505.8 L314.1,505.8 L319.2,505.8 L324.3,505.7 L329.4,505.7 L334.5,505.7 L339.6,505.7 L344.7,505.7 L349.8,505.7 L354.9,505.7 L360.0,505.7 L365.1,505.7 L370.2,505.7 L375.3,505.7 L380.4,505.7 L385.5,505.8 L390.6,505.8 L395.7,505.8 L400.8,505.8 L405.9,505.9 L411.0,505.9 L416.1,505.9 L421.2,506.0 L426.3,506.0 L431.4,506.1 L436.5,506.1 L441.6,506.2 L446.7,506.2 L451.8,506.3 L456.9,506.3 L462.0,506.4 L467.0,506.4 L472.1,506.5 L477.2,506.5 L482.3,506.6 L487.4,506.6 L492.5,506.7 L497.6,506.7 L502.7,506.8 L507.8,506.8 L512.9,506.9 L518.0,506.9 L523.1,506.9 L528.2,507.0 L533.3,507.0 L538.4,507.0 L543.5,507.0 L548.6,507.1 L553.7,507.1 L558.8,507.1 L563.9,507.1 L569.0,507.1 L574.1,507.1 L579.2,507.1 L584.3,507.1 L589.4,507.1 L594.5,507.1 L599.7,507.1 L604.8,507.1 L609.9,507.1 L615.0,507.1 L620.1,507.1 L625.2,507.1 L630.3,507.1 L635.4,507.1 L640.5,507.1 L645.6,507.1 L650.8,507.1 L655.9,507.1 L661.0,507.1 L666.1,507.1 L671.2,507.1 L676.3,507.1 L681.4,507.0 L686.5,507.0 L691.6,507.0 L696.7,507.0 L701.8,507.0 L707.0,507.0 L712.1,507.0 L717.2,507.0 L722.3,507.0 L727.4,507.0 L732.5,507.0 L737.6,507.0 L742.7,507.0 L747.8,507.0 L752.9,507.0 L758.1,507.0 L763.2,507.0 L768.3,507.0 L773.4,507.0 L778.5,507.0 L783.6,507.0 L788.7,507.0 L793.8,507.0 L798.9,507.0 L804.0,507.0 L809.0,507.0 L814.1,507.0 L819.2,507.0 L824.3,506.9 L829.4,506.9 L834.5,506.9 L839.6,506.9 L844.7,506.9 L849.7,506.9 L854.8,506.8 L859.9,506.8 L865.0,506.8 L870.1,506.8 L875.2,506.8 L880.3,506.7 L885.4,506.7 L890.4,506.7 L895.5,506.7 L900.6,506.6 L905.7,506.6 L910.8,506.6 L915.9,506.6 L921.0,506.6 L926.1,506.5 L931.1,506.5 L936.2,506.5 L941.3,506.5 L946.4,506.5 L951.5,506.5 L956.6,506.4 L961.7,506.4 L966.8,506.4 L971.8,506.4 L976.9,506.4 L982.0,506.4 L987.1,506.4 L992.2,506.4"/>
<path d="M145.7,507.8 L150.8,507.8 L155.9,507.8 L161.0,507.8 L166.1,507.8 L171.2,507.8 L176.3,507.8 L181.4,507.8 L186.5,507.7 L191.6,507.7 L196.7,507.7 L201.8,507.7 L206.9,507.7 L212.0,507.6 L217.1,507.6 L222.2,507.6 L227.3,507.6 L232.4,507.6 L237.5,507.5 L242.6,507.5 L247.7,507.5 L252.8,507.5 L258.0,507.4 L263.1,507.4 L268.2,507.4 L273.3,507.3 L278.4,507.3 L283.5,507.3 L288.6,507.3 L293.7,507.3 L298.8,507.2 L303.9,507.2 L309.0,507.2 L314.1,507.2 L319.2,507.2 L324.3,507.1 L329.4,507.1 L334.5,507.1 L339.6,507.1 L344.7,507.1 L349.8,507.1 L354.9,507.1 L360.0,507.1 L365.1,507.1 L370.2,507.1 L375.3,507.1 L380.4,507.1 L385.5,507.2 L390.6,507.2 L395.7,507.2 L400.8,507.2 L405.9,507.3 L411.0,507.3 L416.1,507.3 L421.2,507.4 L426.3,507.4 L431.4,507.5 L436.5,507.5 L441.6,507.6 L446.7,507.6 L451.8,507.7 L456.9,507.7 L462.0,507.8 L467.0,507.8 L472.1,507.9 L477.2,507.9 L482.3,508.0 L487.4,508.0 L492.5,508.1 L497.6,508.1 L502.7,508.2 L507.8,508.2 L512.9,508.3 L518.0,508.3 L523.1,508.3 L528.2,508.4 L533.3,508.4 L538.4,508.4 L543.5,508.4 L548.6,508.5 L553.7,508.5 L558.8,508.5 L563.9,508.5 L569.0,508.5 L574.1,508.5 L579.2,508.5 L584.3,508.5 L589.4,508.5 L594.5,508.5 L599.7,508.5 L604.8,508.5 L609.9,508.5 L615.0,508.5 L620.1,508.5 L625.2,508.5 L630.3,508.5 L635.4,508.5 L640.5,508.5 L645.6,508.5 L650.8,508.5 L655.9,508.5 L661.0,508.5 L666.1,508.5 L671.2,508.5 L676.3,508.5 L681.4,508.5 L686.5,508.5 L691.6,508.5 L696.7,508.5 L701.8,508.5 L707.0,508.5 L712.1,508.5 L717.2,508.5 L722.3,508.5 L727.4,508.5 L732.5,508.5 L737.6,508.5 L742.7,508.5 L747.8,508.5 L752.9,508.5 L758.1,508.5 L763.2,508.5 L768.3,508.5 L773.4,508.5 L778.5,508.5 L783.6,508.5 L788.7,508.5 L793.8,508.5 L798.9,508.5 L804.0,508.5 L809.0,508.5 L814.1,508.5 L819.2,508.5 L824.3,508.4 L829.4,508.4 L834.5,508.4 L839.6,508.4 L844.7,508.4 L849.7,508.3 L854.8,508.3 L859.9,508.3 L865.0,508.3 L870.1,508.2 L875.2,508.2 L880.3,508.2 L885.4,508.2 L890.4,508.1 L895.5,508.1 L900.6,508.1 L905.7,508.1 L910.8,508.0 L915.9,508.0 L921.0,508.0 L926.1,508.0 L931.1,507.9 L936.2,507.9 L941.3,507.9 L946.4,507.9 L951.5,507.9 L956.6,507.8 L961.7,507.8 L966.8,507.8 L971.8,507.8 L976.9,507.8 L982.0,507.8 L987.1,507.8 L992.2,507.8"/>
<path d="M145.7,509.2 L150.8,509.2 L155.9,509.2 L161.0,509.2 L166.1,509.2 L171.2,509.2 L176.3,509.2 L181.4,509.2 L186.5,509.2 L191.6,509.2 L196.7,509.2 L201.8,509.2 L206.9,509.2 L212.0,509.2 L217.1,509.2 L222.2,509.2 L227.3,509.2 L232.4,509.2 L237.5,509.2 L242.6,509.2 L247.7,509.2 L252.8,509.2 L258.0,509.2 L263.1,509.2 L268.2,509.2 L273.3,509.2 L278.4,509.2 L283.5,509.2 L288.6,509.2 L293.7,509.2 L298.8,509.2 L303.9,509.2 L309.0,509.2 L314.1,509.2 L319.2,509.2 L324.3,509.2 L329.4,509.2 L334.5,509.2 L339.6,509.2 L344.7,509.2 L349.8,509.2 L354.9,509.2 L360.0,509.2 L365.1,509.2 L370.2,509.2 L375.3,509.2 L380.4,509.2 L385.5,509.2 L390.6,509.2 L395.7,509.3 L400.8,509.3 L405.9,509.3 L411.0,509.3 L416.1,509.3 L421.2,509.4 L426.3,509.4 L431.4,509.4 L436.5,509.4 L441.6,509.5 L446.7,509.5 L451.8,509.5 L456.9,509.6 L462.0,509.6 L467.0,509.6 L472.1,509.6 L477.2,509.7 L482.3,509.7 L487.4,509.7 L492.5,509.8 L497.6,509.8 L502.7,509.8 L507.8,509.8 L512.9,509.9 L518.0,509.9 L523.1,509.9 L528.2,509.9 L533.3,509.9 L538.4,510.0 L543.5,510.0 L548.6,510.0 L553.7,510.0 L558.8,510.0 L563.9,510.0 L569.0,510.0 L574.1,510.0 L579.2,510.0 L584.3,510.0 L589.4,510.0 L594.5,510.0 L599.7,510.0 L604.8,510.0 L609.9,510.0 L615.0,510.0 L620.1,510.0 L625.2,510.0 L630.3,510.0 L635.4,510.0 L640.5,510.0 L645.6,510.0 L650.8,510.0 L655.9,510.0 L661.0,510.0 L666.1,510.0 L671.2,510.0 L676.3,510.0 L681.4,510.0 L686.5,510.0 L691.6,510.0 L696.7,510.0 L701.8,510.0 L707.0,510.0 L712.1,510.0 L717.2,510.0 L722.3,510.0 L727.4,510.0 L732.5,510.0 L737.6,510.0 L742.7,510.0 L747.8,510.0 L752.9,510.0 L758.1,510.0 L763.2,510.0 L768.3,510.0 L773.4,510.0 L778.5,510.0 L783.6,510.0 L788.7,510.0 L793.8,510.0 L798.9,510.0 L804.0,510.0 L809.0,510.0 L814.1,510.0 L819.2,509.9 L824.3,509.9 L829.4,509.9 L834.5,509.9 L839.6,509.9 L844.7,509.8 L849.7,509.8 L854.8,509.8 L859.9,509.8 L865.0,509.7 L870.1,509.7 L875.2,509.7 L880.3,509.6 L885.4,509.6 L890.4,509.6 L895.5,509.6 L900.6,509.5 L905.7,509.5 L910.8,509.5 L915.9,509.4 L921.0,509.4 L926.1,509.4 L931.1,509.4 L936.2,509.3 L941.3,509.3 L946.4,509.3 L951.5,509.3 L956.6,509.3 L961.7,509.2 L966.8,509.2 L971.8,509.2 L976.9,509.2 L982.0,509.2 L987.1,509.2 L992.2,509.2"/>
<path d="M145.7,510.5 L150.8,510.5 L155.9,510.5 L161.0,510.5 L166.1,510.5 L171.2,510.5 L176.3,510.5 L181.4,510.5 L186.5,510.6 L191.6,510.6 L196.7,510.6 L201.8,510.6 L206.9,510.6 L212.0,510.7 L217.1,510.7 L222.2,510.7 L227.3,510.7 L232.4,510.7 L237.5,510.8 L242.6,510.8 L247.7,510.8 L252.8,510.8 L258.0,510.9 L263.1,510.9 L268.2,510.9 L273.3,511.0 L278.4,511.0 L283.5,511.0 L288.6,511.0 L293.7,511.0 L298.8,511.1 L303.9,511.1 L309.0,511.1 L314.1,511.1 L319.2,511.1 L324.3,511.2 L329.4,511.2 L334.5,511.2 L339.6,511.2 L344.7,511.2 L349.8,511.2 L354.9,511.2 L360.0,511.2 L365.1,511.2 L370.2,511.2 L375.3,511.2 L380.4,511.2 L385.5,511.2 L390.6,511.2 L395.7,511.2 L400.8,511.2 L405.9,511.2 L411.0,511.2 L416.1,511.3 L421.2,511.3 L426.3,511.3 L431.4,511.3 L436.5,511.3 L441.6,511.3 L446.7,511.3 L451.8,511.3 L456.9,511.3 L462.0,511.3 L467.0,511.4 L472.1,511.4 L477.2,511.4 L482.3,511.4 L487.4,511.4 L492.5,511.4 L497.6,511.4 L502.7,511.4 L507.8,511.4 L512.9,511.4 L518.0,511.5 L523.1,511.5 L528.2,511.5 L533.3,511.5 L538.4,511.5 L543.5,511.5 L548.6,511.5 L553.7,511.5 L558.8,511.5 L563.9,511.5 L569.0,511.5 L574.1,511.5 L579.2,511.5 L584.3,511.5 L589.4,511.5 L594.5,511.5 L599.7,511.5 L604.8,511.5 L609.9,511.5 L615.0,511.5 L620.1,511.5 L625.2,511.5 L630.3,511.5 L635.4,511.5 L640.5,511.5 L645.6,511.5 L650.8,511.5 L655.9,511.5 L661.0,511.5 L666.1,511.5 L671.2,511.5 L676.3,511.5 L681.4,511.5 L686.5,511.5 L691.6,511.5 L696.7,511.5 L701.8,511.5 L707.0,511.5 L712.1,511.5 L717.2,511.5 L722.3,511.5 L727.4,511.5 L732.5,511.5 L737.6,511.5 L742.7,511.5 L747.8,511.5 L752.9,511.5 L758.1,511.5 L763.2,511.5 L768.3,511.5 L773.4,511.5 L778.5,511.5 L783.6,511.5 L788.7,511.5 L793.8,511.5 L798.9,511.5 L804.0,511.5 L809.0,511.5 L814.1,511.4 L819.2,511.4 L824.3,511.4 L829.4,511.4 L834.5,511.4 L839.6,511.3 L844.7,511.3 L849.7,511.3 L854.8,511.2 L859.9,511.2 L865.0,511.2 L870.1,511.1 L875.2,511.1 L880.3,511.1 L885.4,511.0 L890.4,511.0 L895.5,510.9 L900.6,510.9 L905.7,510.9 L910.8,510.8 L915.9,510.8 L921.0,510.8 L926.1,510.7 L931.1,510.7 L936.2,510.7 L941.3,510.6 L946.4,510.6 L951.5,510.6 L956.6,510.6 L961.7,510.6 L966.8,510.5 L971.8,510.5 L976.9,510.5 L982.0,510.5 L987.1,510.5 L992.2,510.5"/>
<path d="M145.7,513.3 L150.8,513.3 L155.9,513.3 L161.0,513.3 L166.1,513.3 L171.2,513.3 L176.3,513.3 L181.4,513.3 L186.5,513.4 L191.6,513.4 L196.7,513.4 L201.8,513.4 L206.9,513.4 L212.0,513.4 L217.1,513.4 L222.2,513.5 L227.3,513.5 L232.4,513.5 L237.5,513.5 L242.6,513.6 L247.7,513.6 L252.8,513.6 L258.0,513.6 L263.1,513.6 L268.2,513.7 L273.3,513.7 L278.4,513.7 L283.5,513.7 L288.6,513.8 L293.7,513.8 L298.8,513.8 L303.9,513.8 L309.0,513.8 L314.1,513.8 L319.2,513.8 L324.3,513.9 L329.4,513.9 L334.5,513.9 L339.6,513.9 L344.7,513.9 L349.8,513.9 L354.9,513.9 L360.0,513.9 L365.1,513.9 L370.2,513.9 L375.3,513.9 L380.4,513.9 L385.5,513.9 L390.6,513.9 L395.7,513.9 L400.8,513.8 L405.9,513.8 L411.0,513.8 L416.1,513.8 L421.2,513.8 L426.3,513.8 L431.4,513.7 L436.5,513.7 L441.6,513.7 L446.7,513.7 L451.8,513.7 L456.9,513.6 L462.0,513.6 L467.0,513.6 L472.1,513.6 L477.2,513.5 L482.3,513.5 L487.4,513.5 L492.5,513.5 L497.6,513.5 L502.7,513.4 L507.8,513.4 L512.9,513.4 L518.0,513.4 L523.1,513.4 L528.2,513.4 L533.3,513.3 L538.4,513.3 L543.5,513.3 L548.6,513.3 L553.7,513.3 L558.8,513.3 L563.9,513.3 L569.0,513.3 L574.1,513.3 L579.2,513.3 L584.3,513.3 L589.4,513.3 L594.5,513.3 L599.7,513.3 L604.8,513.3 L609.9,513.3 L615.0,513.3 L620.1,513.3 L625.2,513.3 L630.3,513.2 L635.4,513.2 L640.5,513.2 L645.6,513.2 L650.8,513.2 L655.9,513.2 L661.0,513.2 L666.1,513.2 L671.2,513.2 L676.3,513.1 L681.4,513.1 L686.5,513.1 L691.6,513.1 L696.7,513.1 L701.8,513.1 L707.0,513.1 L712.1,513.1 L717.2,513.1 L722.3,513.1 L727.4,513.0 L732.5,513.0 L737.6,513.0 L742.7,513.0 L747.8,513.0 L752.9,513.0 L758.1,513.0 L763.2,513.0 L768.3,513.0 L773.4,513.0 L778.5,513.0 L783.6,513.0 L788.7,513.0 L793.8,513.0 L798.9,513.0 L804.0,513.0 L809.0,513.0 L814.1,513.1 L819.2,513.1 L824.3,513.1 L829.4,513.1 L834.5,513.1 L839.6,513.2 L844.7,513.2 L849.7,513.2 L854.8,513.3 L859.9,513.3 L865.0,513.3 L870.1,513.4 L875.2,513.4 L880.3,513.4 L885.4,513.5 L890.4,513.5 L895.5,513.6 L900.6,513.6 L905.7,513.6 L910.8,513.7 L915.9,513.7 L921.0,513.7 L926.1,513.8 L931.1,513.8 L936.2,513.8 L941.3,513.9 L946.4,513.9 L951.5,513.9 L956.6,513.9 L961.7,513.9 L966.8,514.0 L971.8,514.0 L976.9,514.0 L982.0,514.0 L987.1,514.0 L992.2,514.0"/>
<path d="M145.7,518.0 L150.8,518.0 L155.9,518.0 L161.0,518.0 L166.1,518.0 L171.2,518.0 L176.3,518.0 L181.4,518.0 L186.5,517.9 L191.6,517.9 L196.7,517.9 L201.8,517.9 L206.9,517.9 L212.0,517.9 L217.1,517.9 L222.2,517.8 L227.3,517.8 L232.4,517.8 L237.5,517.8 L242.6,517.7 L247.7,517.7 L252.8,517.7 L258.0,517.7 L263.1,517.7 L268.2,517.6 L273.3,517.6 L278.4,517.6 L283.5,517.6 L288.6,517.5 L293.7,517.5 L298.8,517.5 L303.9,517.5 L309.0,517.5 L314.1,517.5 L319.2,517.5 L324.3,517.4 L329.4,517.4 L334.5,517.4 L339.6,517.4 L344.7,517.4 L349.8,517.4 L354.9,517.4 L360.0,517.4 L365.1,517.4 L370.2,517.4 L375.3,517.4 L380.4,517.3 L385.5,517.3 L390.6,517.2 L395.7,517.2 L400.8,517.1 L405.9,517.1 L411.0,517.0 L416.1,516.9 L421.2,516.8 L426.3,516.7 L431.4,516.6 L436.5,516.5 L441.6,516.4 L446.7,516.3 L451.8,516.2 L456.9,516.1 L462.0,516.0 L467.0,515.9 L472.1,515.8 L477.2,515.7 L482.3,515.6 L487.4,515.5 L492.5,515.4 L497.6,515.3 L502.7,515.2 L507.8,515.1 L512.9,515.0 L518.0,514.9 L523.1,514.8 L528.2,514.8 L533.3,514.7 L538.4,514.7 L543.5,514.6 L548.6,514.6 L553.7,514.5 L558.8,514.5 L563.9,514.5 L569.0,514.5 L574.1,514.5 L579.2,514.5 L584.3,514.5 L589.4,514.5 L594.5,514.6 L599.7,514.6 L604.8,514.6 L609.9,514.6 L615.0,514.7 L620.1,514.7 L625.2,514.7 L630.3,514.8 L635.4,514.8 L640.5,514.9 L645.6,514.9 L650.8,515.0 L655.9,515.0 L661.0,515.1 L666.1,515.1 L671.2,515.2 L676.3,515.2 L681.4,515.3 L686.5,515.4 L691.6,515.4 L696.7,515.5 L701.8,515.5 L707.0,515.6 L712.1,515.6 L717.2,515.7 L722.3,515.7 L727.4,515.8 L732.5,515.8 L737.6,515.8 L742.7,515.9 L747.8,515.9 L752.9,515.9 L758.1,515.9 L763.2,516.0 L768.3,516.0 L773.4,516.0 L778.5,516.0 L783.6,516.0 L788.7,516.0 L793.8,516.0 L798.9,516.0 L804.0,516.0 L809.0,516.1 L814.1,516.1 L819.2,516.1 L824.3,516.2 L829.4,516.2 L834.5,516.3 L839.6,516.3 L844.7,516.4 L849.7,516.5 L854.8,516.5 L859.9,516.6 L865.0,516.7 L870.1,516.7 L875.2,516.8 L880.3,516.9 L885.4,517.0 L890.4,517.0 L895.5,517.1 L900.6,517.2 L905.7,517.3 L910.8,517.3 L915.9,517.4 L921.0,517.5 L926.1,517.5 L931.1,517.6 L936.2,517.7 L941.3,517.7 L946.4,517.8 L951.5,517.8 L956.6,517.9 L961.7,517.9 L966.8,517.9 L971.8,518.0 L976.9,518.0 L982.0,518.0 L987.1,518.0 L992.2,518.0"/>
<path d="M145.7,520.8 L150.8,520.8 L155.9,520.8 L161.0,520.8 L166.1,520.8 L171.2,520.8 L176.3,520.7 L181.4,520.7 L186.5,520.7 L191.6,520.6 L196.7,520.6 L201.8,520.6 L206.9,520.5 L212.0,520.5 L217.1,520.4 L222.2,520.4 L227.3,520.4 L232.4,520.3 L237.5,520.3 L242.6,520.2 L247.7,520.2 L252.8,520.1 L258.0,520.0 L263.1,520.0 L268.2,519.9 L273.3,519.9 L278.4,519.8 L283.5,519.8 L288.6,519.8 L293.7,519.7 L298.8,519.7 L303.9,519.6 L309.0,519.6 L314.1,519.6 L319.2,519.5 L324.3,519.5 L329.4,519.5 L334.5,519.4 L339.6,519.4 L344.7,519.4 L349.8,519.4 L354.9,519.4 L360.0,519.4 L365.1,519.4 L370.2,519.4 L375.3,519.4 L380.4,519.3 L385.5,519.3 L390.6,519.2 L395.7,519.2 L400.8,519.1 L405.9,519.0 L411.0,518.9 L416.1,518.8 L421.2,518.7 L426.3,518.6 L431.4,518.5 L436.5,518.4 L441.6,518.3 L446.7,518.2 L451.8,518.0 L456.9,517.9 L462.0,517.8 L467.0,517.6 L472.1,517.5 L477.2,517.4 L482.3,517.2 L487.4,517.1 L492.5,517.0 L497.6,516.9 L502.7,516.8 L507.8,516.7 L512.9,516.6 L518.0,516.5 L523.1,516.4 L528.2,516.3 L533.3,516.2 L538.4,516.2 L543.5,516.1 L548.6,516.1 L553.7,516.0 L558.8,516.0 L563.9,516.0 L569.0,516.0 L574.1,516.0 L579.2,516.0 L584.3,516.0 L589.4,516.1 L594.5,516.1 L599.7,516.2 L604.8,516.2 L609.9,516.3 L615.0,516.4 L620.1,516.5 L625.2,516.5 L630.3,516.6 L635.4,516.7 L640.5,516.9 L645.6,517.0 L650.8,517.1 L655.9,517.2 L661.0,517.3 L666.1,517.4 L671.2,517.6 L676.3,517.7 L681.4,517.8 L686.5,518.0 L691.6,518.1 L696.7,518.2 L701.8,518.3 L707.0,518.4 L712.1,518.5 L717.2,518.7 L722.3,518.8 L727.4,518.9 L732.5,518.9 L737.6,519.0 L742.7,519.1 L747.8,519.2 L752.9,519.2 L758.1,519.3 L763.2,519.3 L768.3,519.4 L773.4,519.4 L778.5,519.4 L783.6,519.4 L788.7,519.4 L793.8,519.4 L798.9,519.4 L804.0,519.4 L809.0,519.4 L814.1,519.4 L819.2,519.4 L824.3,519.4 L829.4,519.4 L834.5,519.4 L839.6,519.4 L844.7,519.4 L849.7,519.4 L854.8,519.4 L859.9,519.4 L865.0,519.4 L870.1,519.4 L875.2,519.4 L880.3,519.4 L885.4,519.4 L890.4,519.4 L895.5,519.4 L900.6,519.4 L905.7,519.4 L910.8,519.4 L915.9,519.4 L921.0,519.4 L926.1,519.4 L931.1,519.4 L936.2,519.4 L941.3,519.4 L946.4,519.4 L951.5,519.4 L956.6,519.4 L961.7,519.4 L966.8,519.4 L971.8,519.4 L976.9,519.4 L982.0,519.4 L987.1,519.4 L992.2,519.4"/>
<path d="M145.7,522.8 L150.8,522.8 L155.9,522.8 L161.0,522.8 L166.1,522.8 L171.2,522.8 L176.3,522.8 L181.4,522.8 L186.5,522.7 L191.6,522.7 L196.7,522.7 L201.8,522.7 L206.9,522.7 L212.0,522.7 L217.1,522.6 L222.2,522.6 L227.3,522.6 L232.4,522.6 L237.5,522.6 L242.6,522.5 L247.7,522.5 L252.8,522.5 L258.0,522.5 L263.1,522.5 L268.2,522.4 L273.3,522.4 L278.4,522.4 L283.5,522.4 L288.6,522.4 L293.7,522.3 L298.8,522.3 L303.9,522.3 L309.0,522.3 L314.1,522.3 L319.2,522.3 L324.3,522.2 L329.4,522.2 L334.5,522.2 L339.6,522.2 L344.7,522.2 L349.8,522.2 L354.9,522.2 L360.0,522.2 L365.1,522.2 L370.2,522.2 L375.3,522.2 L380.4,522.2 L385.5,522.2 L390.6,522.2 L395.7,522.2 L400.8,522.1 L405.9,522.1 L411.0,522.1 L416.1,522.1 L421.2,522.1 L426.3,522.0 L431.4,522.0 L436.5,522.0 L441.6,522.0 L446.7,521.9 L451.8,521.9 L456.9,521.9 L462.0,521.9 L467.0,521.8 L472.1,521.8 L477.2,521.8 L482.3,521.8 L487.4,521.7 L492.5,521.7 L497.6,521.7 L502.7,521.7 L507.8,521.6 L512.9,521.6 L518.0,521.6 L523.1,521.6 L528.2,521.6 L533.3,521.5 L538.4,521.5 L543.5,521.5 L548.6,521.5 L553.7,521.5 L558.8,521.5 L563.9,521.5 L569.0,521.5 L574.1,521.5 L579.2,521.5 L584.3,521.5 L589.4,521.5 L594.5,521.5 L599.7,521.5 L604.8,521.5 L609.9,521.5 L615.0,521.5 L620.1,521.5 L625.2,521.5 L630.3,521.5 L635.4,521.5 L640.5,521.5 L645.6,521.5 L650.8,521.5 L655.9,521.5 L661.0,521.5 L666.1,521.5 L671.2,521.5 L676.3,521.5 L681.4,521.5 L686.5,521.5 L691.6,521.5 L696.7,521.5 L701.8,521.5 L707.0,521.5 L712.1,521.5 L717.2,521.5 L722.3,521.5 L727.4,521.5 L732.5,521.5 L737.6,521.5 L742.7,521.5 L747.8,521.5 L752.9,521.5 L758.1,521.5 L763.2,521.5 L768.3,521.5 L773.4,521.5 L778.5,521.5 L783.6,521.5 L788.7,521.5 L793.8,521.5 L798.9,521.5 L804.0,521.5 L809.0,521.5 L814.1,521.5 L819.2,521.5 L824.3,521.5 L829.4,521.5 L834.5,521.5 L839.6,521.5 L844.7,521.5 L849.7,521.5 L854.8,521.5 L859.9,521.5 L865.0,521.5 L870.1,521.5 L875.2,521.5 L880.3,521.5 L885.4,521.5 L890.4,521.5 L895.5,521.5 L900.6,521.5 L905.7,521.5 L910.8,521.5 L915.9,521.5 L921.0,521.5 L926.1,521.5 L931.1,521.5 L936.2,521.5 L941.3,521.5 L946.4,521.5 L951.5,521.5 L956.6,521.5 L961.7,521.5 L966.8,521.5 L971.8,521.5 L976.9,521.5 L982.0,521.5 L987.1,521.5 L992.2,521.5"/>
<path d="M145.7,527.6 L150.8,527.6 L155.9,527.6 L161.0,527.6 L166.1,527.6 L171.2,527.6 L176.3,527.6 L181.4,527.6 L186.5,527.6 L191.6,527.6 L196.7,527.6 L201.8,527.6 L206.9,527.6 L212.0,527.6 L217.1,527.6 L222.2,527.6 L227.3,527.6 L232.4,527.6 L237.5,527.6 L242.6,527.6 L247.7,527.6 L252.8,527.6 L258.0,527.6 L263.1,527.6 L268.2,527.6 L273.3,527.6 L278.4,527.6 L283.5,527.6 L288.6,527.6 L293.7,527.6 L298.8,527.6 L303.9,527.6 L309.0,527.6 L314.1,527.6 L319.2,527.6 L324.3,527.6 L329.4,527.6 L334.5,527.6 L339.6,527.6 L344.7,527.6 L349.8,527.6 L354.9,527.6 L360.0,527.6 L365.1,527.6 L370.2,527.6 L375.3,527.5 L380.4,527.5 L385.5,527.5 L390.6,527.4 L395.7,527.3 L400.8,527.2 L405.9,527.1 L411.0,527.0 L416.1,526.9 L421.2,526.8 L426.3,526.7 L431.4,526.5 L436.5,526.4 L441.6,526.2 L446.7,526.1 L451.8,525.9 L456.9,525.8 L462.0,525.6 L467.0,525.5 L472.1,525.3 L477.2,525.2 L482.3,525.0 L487.4,524.9 L492.5,524.7 L497.6,524.6 L502.7,524.4 L507.8,524.3 L512.9,524.2 L518.0,524.1 L523.1,524.0 L528.2,523.9 L533.3,523.8 L538.4,523.7 L543.5,523.6 L548.6,523.6 L553.7,523.6 L558.8,523.5 L563.9,523.5 L569.0,523.5 L574.1,523.5 L579.2,523.5 L584.3,523.5 L589.4,523.5 L594.5,523.5 L599.7,523.6 L604.8,523.6 L609.9,523.6 L615.0,523.7 L620.1,523.7 L625.2,523.7 L630.3,523.8 L635.4,523.8 L640.5,523.9 L645.6,523.9 L650.8,523.9 L655.9,524.0 L661.0,524.0 L666.1,524.1 L671.2,524.1 L676.3,524.2 L681.4,524.3 L686.5,524.3 L691.6,524.4 L696.7,524.4 L701.8,524.5 L707.0,524.5 L712.1,524.5 L717.2,524.6 L722.3,524.6 L727.4,524.7 L732.5,524.7 L737.6,524.7 L742.7,524.8 L747.8,524.8 L752.9,524.8 L758.1,524.9 L763.2,524.9 L768.3,524.9 L773.4,524.9 L778.5,524.9 L783.6,524.9 L788.7,524.9 L793.8,524.9 L798.9,524.9 L804.0,524.9 L809.0,524.8 L814.1,524.8 L819.2,524.8 L824.3,524.8 L829.4,524.7 L834.5,524.7 L839.6,524.7 L844.7,524.6 L849.7,524.6 L854.8,524.5 L859.9,524.5 L865.0,524.4 L870.1,524.4 L875.2,524.3 L880.3,524.3 L885.4,524.2 L890.4,524.2 L895.5,524.1 L900.6,524.1 L905.7,524.0 L910.8,524.0 L915.9,523.9 L921.0,523.9 L926.1,523.8 L931.1,523.8 L936.2,523.7 L941.3,523.7 L946.4,523.7 L951.5,523.6 L956.6,523.6 L961.7,523.6 L966.8,523.6 L971.8,523.5 L976.9,523.5 L982.0,523.5 L987.1,523.5 L992.2,523.5"/>
<path d="M145.7,527.6 L150.8,527.6 L155.9,527.6 L161.0,527.6 L166.1,527.6 L171.2,527.5 L176.3,527.5 L181.4,527.5 L186.5,527.5 L191.6,527.4 L196.7,527.4 L201.8,527.3 L206.9,527.3 L212.0,527.3 L217.1,527.2 L222.2,527.1 L227.3,527.1 L232.4,527.0 L237.5,527.0 L242.6,526.9 L247.7,526.9 L252.8,526.8 L258.0,526.7 L263.1,526.7 L268.2,526.6 L273.3,526.6 L278.4,526.5 L283.5,526.5 L288.6,526.4 L293.7,526.3 L298.8,526.3 L303.9,526.3 L309.0,526.2 L314.1,526.2 L319.2,526.1 L324.3,526.1 L329.4,526.1 L334.5,526.1 L339.6,526.0 L344.7,526.0 L349.8,526.0 L354.9,526.0 L360.0,526.0 L365.1,526.0 L370.2,526.0 L375.3,526.0 L380.4,526.0 L385.5,526.0 L390.6,525.9 L395.7,525.9 L400.8,525.9 L405.9,525.9 L411.0,525.9 L416.1,525.8 L421.2,525.8 L426.3,525.8 L431.4,525.7 L436.5,525.7 L441.6,525.7 L446.7,525.6 L451.8,525.6 L456.9,525.6 L462.0,525.5 L467.0,525.5 L472.1,525.4 L477.2,525.4 L482.3,525.4 L487.4,525.3 L492.5,525.3 L497.6,525.3 L502.7,525.2 L507.8,525.2 L512.9,525.2 L518.0,525.1 L523.1,525.1 L528.2,525.1 L533.3,525.1 L538.4,525.1 L543.5,525.0 L548.6,525.0 L553.7,525.0 L558.8,525.0 L563.9,525.0 L569.0,525.0 L574.1,525.0 L579.2,525.0 L584.3,525.0 L589.4,525.0 L594.5,525.0 L599.7,525.1 L604.8,525.1 L609.9,525.1 L615.0,525.1 L620.1,525.2 L625.2,525.2 L630.3,525.2 L635.4,525.3 L640.5,525.3 L645.6,525.4 L650.8,525.4 L655.9,525.5 L661.0,525.5 L666.1,525.6 L671.2,525.6 L676.3,525.6 L681.4,525.7 L686.5,525.7 L691.6,525.8 L696.7,525.8 L701.8,525.9 L707.0,525.9 L712.1,526.0 L717.2,526.0 L722.3,526.1 L727.4,526.1 L732.5,526.1 L737.6,526.2 L742.7,526.2 L747.8,526.2 L752.9,526.2 L758.1,526.3 L763.2,526.3 L768.3,526.3 L773.4,526.3 L778.5,526.3 L783.6,526.3 L788.7,526.3 L793.8,526.3 L798.9,526.3 L804.0,526.3 L809.0,526.3 L814.1,526.3 L819.2,526.3 L824.3,526.4 L829.4,526.4 L834.5,526.4 L839.6,526.4 L844.7,526.4 L849.7,526.5 L854.8,526.5 L859.9,526.5 L865.0,526.5 L870.1,526.6 L875.2,526.6 L880.3,526.6 L885.4,526.6 L890.4,526.7 L895.5,526.7 L900.6,526.7 L905.7,526.7 L910.8,526.8 L915.9,526.8 L921.0,526.8 L926.1,526.8 L931.1,526.9 L936.2,526.9 L941.3,526.9 L946.4,526.9 L951.5,526.9 L956.6,527.0 L961.7,527.0 L966.8,527.0 L971.8,527.0 L976.9,527.0 L982.0,527.0 L987.1,527.0 L992.2,527.0"/>
<path d="M145.7,550.2 L150.8,550.2 L155.9,550.2 L161.0,550.2 L166.1,550.2 L171.2,550.2 L176.3,550.2 L181.4,550.2 L186.5,550.2 L191.6,550.2 L196.7,550.2 L201.8,550.2 L206.9,550.2 L212.0,550.2 L217.1,550.2 L222.2,550.2 L227.3,550.2 L232.4,550.2 L237.5,550.2 L242.6,550.2 L247.7,550.2 L252.8,550.2 L258.0,550.2 L263.1,550.2 L268.2,550.2 L273.3,550.2 L278.4,550.2 L283.5,550.2 L288.6,550.2 L293.7,550.2 L298.8,550.2 L303.9,550.2 L309.0,550.2 L314.1,550.2 L319.2,550.2 L324.3,550.2 L329.4,550.2 L334.5,550.2 L339.6,550.2 L344.7,550.2 L349.8,550.2 L354.9,550.2 L360.0,550.2 L365.1,550.2 L370.2,550.2 L375.3,550.2 L380.4,550.2 L385.5,550.2 L390.6,550.2 L395.7,550.2 L400.8,550.2 L405.9,550.2 L411.0,550.2 L416.1,550.2 L421.2,550.2 L426.3,550.2 L431.4,550.2 L436.5,550.2 L441.6,550.2 L446.7,550.2 L451.8,550.2 L456.9,550.2 L462.0,550.2 L467.0,550.2 L472.1,550.2 L477.2,550.2 L482.3,550.2 L487.4,550.2 L492.5,550.2 L497.6,550.2 L502.7,550.2 L507.8,550.2 L512.9,550.2 L518.0,550.2 L523.1,550.2 L528.2,550.2 L533.3,550.2 L538.4,550.2 L543.5,550.2 L548.6,550.2 L553.7,550.2 L558.8,550.2 L563.9,550.2 L569.0,550.2 L574.1,550.2 L579.2,550.2 L584.3,550.2 L589.4,550.2 L594.5,550.2 L599.7,550.2 L604.8,550.2 L609.9,550.2 L615.0,550.2 L620.1,550.2 L625.2,550.2 L630.3,550.2 L635.4,550.2 L640.5,550.2 L645.6,550.2 L650.8,550.2 L655.9,550.2 L661.0,550.2 L666.1,550.2 L671.2,550.2 L676.3,550.2 L681.4,550.2 L686.5,550.2 L691.6,550.2 L696.7,550.2 L701.8,550.2 L707.0,550.2 L712.1,550.2 L717.2,550.2 L722.3,550.2 L727.4,550.2 L732.5,550.2 L737.6,550.2 L742.7,550.2 L747.8,550.2 L752.9,550.2 L758.1,550.2 L763.2,550.2 L768.3,550.2 L773.4,550.2 L778.5,550.2 L783.6,550.2 L788.7,550.2 L793.8,550.2 L798.9,550.2 L804.0,550.2 L809.0,550.2 L814.1,550.2 L819.2,550.2 L824.3,550.1 L829.4,550.1 L834.5,550.1 L839.6,550.1 L844.7,550.1 L849.7,550.0 L854.8,550.0 L859.9,550.0 L865.0,550.0 L870.1,549.9 L875.2,549.9 L880.3,549.9 L885.4,549.9 L890.4,549.8 L895.5,549.8 L900.6,549.8 L905.7,549.8 L910.8,549.7 L915.9,549.7 L921.0,549.7 L926.1,549.7 L931.1,549.6 L936.2,549.6 L941.3,549.6 L946.4,549.6 L951.5,549.6 L956.6,549.5 L961.7,549.5 L966.8,549.5 L971.8,549.5 L976.9,549.5 L982.0,549.5 L987.1,549.5 L992.2,549.5"/>
<path d="M145.7,555.0 L150.8,555.0 L155.9,555.0 L161.0,555.0 L166.1,555.0 L171.2,555.0 L176.3,555.0 L181.4,555.0 L186.5,554.9 L191.6,554.9 L196.7,554.9 L201.8,554.9 L206.9,554.9 L212.0,554.8 L217.1,554.8 L222.2,554.8 L227.3,554.8 L232.4,554.8 L237.5,554.7 L242.6,554.7 L247.7,554.7 L252.8,554.6 L258.0,554.6 L263.1,554.6 L268.2,554.6 L273.3,554.5 L278.4,554.5 L283.5,554.5 L288.6,554.5 L293.7,554.5 L298.8,554.4 L303.9,554.4 L309.0,554.4 L314.1,554.4 L319.2,554.4 L324.3,554.3 L329.4,554.3 L334.5,554.3 L339.6,554.3 L344.7,554.3 L349.8,554.3 L354.9,554.3 L360.0,554.3 L365.1,554.3 L370.2,554.3 L375.3,554.3 L380.4,554.2 L385.5,554.2 L390.6,554.2 L395.7,554.1 L400.8,554.1 L405.9,554.0 L411.0,553.9 L416.1,553.8 L421.2,553.8 L426.3,553.7 L431.4,553.6 L436.5,553.5 L441.6,553.4 L446.7,553.3 L451.8,553.2 L456.9,553.1 L462.0,553.0 L467.0,552.9 L472.1,552.8 L477.2,552.7 L482.3,552.6 L487.4,552.5 L492.5,552.4 L497.6,552.3 L502.7,552.2 L507.8,552.1 L512.9,552.1 L518.0,552.0 L523.1,551.9 L528.2,551.8 L533.3,551.8 L538.4,551.7 L543.5,551.7 L548.6,551.7 L553.7,551.6 L558.8,551.6 L563.9,551.6 L569.0,551.6 L574.1,551.6 L579.2,551.6 L584.3,551.6 L589.4,551.6 L594.5,551.6 L599.7,551.6 L604.8,551.6 L609.9,551.7 L615.0,551.7 L620.1,551.7 L625.2,551.7 L630.3,551.7 L635.4,551.8 L640.5,551.8 L645.6,551.8 L650.8,551.8 L655.9,551.8 L661.0,551.9 L666.1,551.9 L671.2,551.9 L676.3,551.9 L681.4,552.0 L686.5,552.0 L691.6,552.0 L696.7,552.1 L701.8,552.1 L707.0,552.1 L712.1,552.1 L717.2,552.1 L722.3,552.2 L727.4,552.2 L732.5,552.2 L737.6,552.2 L742.7,552.2 L747.8,552.3 L752.9,552.3 L758.1,552.3 L763.2,552.3 L768.3,552.3 L773.4,552.3 L778.5,552.3 L783.6,552.3 L788.7,552.3 L793.8,552.3 L798.9,552.3 L804.0,552.3 L809.0,552.3 L814.1,552.3 L819.2,552.3 L824.3,552.4 L829.4,552.4 L834.5,552.4 L839.6,552.4 L844.7,552.4 L849.7,552.5 L854.8,552.5 L859.9,552.5 L865.0,552.5 L870.1,552.6 L875.2,552.6 L880.3,552.6 L885.4,552.6 L890.4,552.7 L895.5,552.7 L900.6,552.7 L905.7,552.7 L910.8,552.8 L915.9,552.8 L921.0,552.8 L926.1,552.8 L931.1,552.9 L936.2,552.9 L941.3,552.9 L946.4,552.9 L951.5,552.9 L956.6,553.0 L961.7,553.0 L966.8,553.0 L971.8,553.0 L976.9,553.0 L982.0,553.0 L987.1,553.0 L992.2,553.0"/>
<path d="M145.7,565.2 L150.8,565.2 L155.9,565.2 L161.0,565.2 L166.1,565.3 L171.2,565.3 L176.3,565.4 L181.4,565.4 L186.5,565.5 L191.6,565.6 L196.7,565.7 L201.8,565.8 L206.9,565.9 L212.0,566.0 L217.1,566.1 L222.2,566.2 L227.3,566.3 L232.4,566.4 L237.5,566.6 L242.6,566.7 L247.7,566.8 L252.8,567.0 L258.0,567.1 L263.1,567.2 L268.2,567.3 L273.3,567.5 L278.4,567.6 L283.5,567.7 L288.6,567.8 L293.7,567.9 L298.8,568.0 L303.9,568.1 L309.0,568.2 L314.1,568.3 L319.2,568.4 L324.3,568.5 L329.4,568.5 L334.5,568.6 L339.6,568.6 L344.7,568.7 L349.8,568.7 L354.9,568.7 L360.0,568.7 L365.1,568.7 L370.2,568.7 L375.3,568.7 L380.4,568.7 L385.5,568.7 L390.6,568.7 L395.7,568.7 L400.8,568.6 L405.9,568.6 L411.0,568.6 L416.1,568.6 L421.2,568.6 L426.3,568.5 L431.4,568.5 L436.5,568.5 L441.6,568.5 L446.7,568.4 L451.8,568.4 L456.9,568.4 L462.0,568.4 L467.0,568.3 L472.1,568.3 L477.2,568.3 L482.3,568.3 L487.4,568.2 L492.5,568.2 L497.6,568.2 L502.7,568.2 L507.8,568.1 L512.9,568.1 L518.0,568.1 L523.1,568.1 L528.2,568.1 L533.3,568.0 L538.4,568.0 L543.5,568.0 L548.6,568.0 L553.7,568.0 L558.8,568.0 L563.9,568.0 L569.0,568.0 L574.1,568.0 L579.2,568.0 L584.3,568.0 L589.4,568.0 L594.5,567.9 L599.7,567.9 L604.8,567.9 L609.9,567.8 L615.0,567.8 L620.1,567.7 L625.2,567.7 L630.3,567.6 L635.4,567.6 L640.5,567.5 L645.6,567.4 L650.8,567.4 L655.9,567.3 L661.0,567.2 L666.1,567.1 L671.2,567.1 L676.3,567.0 L681.4,566.9 L686.5,566.9 L691.6,566.8 L696.7,566.7 L701.8,566.6 L707.0,566.6 L712.1,566.5 L717.2,566.4 L722.3,566.4 L727.4,566.3 L732.5,566.3 L737.6,566.2 L742.7,566.2 L747.8,566.1 L752.9,566.1 L758.1,566.1 L763.2,566.0 L768.3,566.0 L773.4,566.0 L778.5,566.0 L783.6,566.0 L788.7,566.0 L793.8,566.0 L798.9,566.0 L804.0,566.0 L809.0,566.0 L814.1,566.0 L819.2,565.9 L824.3,565.9 L829.4,565.9 L834.5,565.9 L839.6,565.9 L844.7,565.8 L849.7,565.8 L854.8,565.8 L859.9,565.8 L865.0,565.7 L870.1,565.7 L875.2,565.7 L880.3,565.6 L885.4,565.6 L890.4,565.6 L895.5,565.6 L900.6,565.5 L905.7,565.5 L910.8,565.5 L915.9,565.4 L921.0,565.4 L926.1,565.4 L931.1,565.4 L936.2,565.3 L941.3,565.3 L946.4,565.3 L951.5,565.3 L956.6,565.3 L961.7,565.2 L966.8,565.2 L971.8,565.2 L976.9,565.2 L982.0,565.2 L987.1,565.2 L992.2,565.2"/>
<path d="M145.7,566.5 L150.8,566.5 L155.9,566.5 L161.0,566.6 L166.1,566.6 L171.2,566.6 L176.3,566.7 L181.4,566.8 L186.5,566.9 L191.6,567.0 L196.7,567.1 L201.8,567.2 L206.9,567.3 L212.0,567.4 L217.1,567.5 L222.2,567.7 L227.3,567.8 L232.4,568.0 L237.5,568.1 L242.6,568.3 L247.7,568.4 L252.8,568.6 L258.0,568.8 L263.1,568.9 L268.2,569.1 L273.3,569.2 L278.4,569.4 L283.5,569.5 L288.6,569.6 L293.7,569.8 L298.8,569.9 L303.9,570.0 L309.0,570.1 L314.1,570.2 L319.2,570.3 L324.3,570.4 L329.4,570.5 L334.5,570.6 L339.6,570.6 L344.7,570.6 L349.8,570.7 L354.9,570.7 L360.0,570.7 L365.1,570.7 L370.2,570.7 L375.3,570.7 L380.4,570.7 L385.5,570.7 L390.6,570.6 L395.7,570.6 L400.8,570.6 L405.9,570.6 L411.0,570.5 L416.1,570.5 L421.2,570.4 L426.3,570.4 L431.4,570.4 L436.5,570.3 L441.6,570.3 L446.7,570.2 L451.8,570.2 L456.9,570.1 L462.0,570.1 L467.0,570.0 L472.1,570.0 L477.2,569.9 L482.3,569.9 L487.4,569.8 L492.5,569.8 L497.6,569.7 L502.7,569.7 L507.8,569.7 L512.9,569.6 L518.0,569.6 L523.1,569.5 L528.2,569.5 L533.3,569.5 L538.4,569.5 L543.5,569.4 L548.6,569.4 L553.7,569.4 L558.8,569.4 L563.9,569.4 L569.0,569.4 L574.1,569.4 L579.2,569.4 L584.3,569.4 L589.4,569.3 L594.5,569.3 L599.7,569.3 L604.8,569.2 L609.9,569.2 L615.0,569.1 L620.1,569.1 L625.2,569.0 L630.3,568.9 L635.4,568.9 L640.5,568.8 L645.6,568.7 L650.8,568.6 L655.9,568.6 L661.0,568.5 L666.1,568.4 L671.2,568.3 L676.3,568.2 L681.4,568.1 L686.5,568.0 L691.6,567.9 L696.7,567.8 L701.8,567.8 L707.0,567.7 L712.1,567.6 L717.2,567.5 L722.3,567.5 L727.4,567.4 L732.5,567.3 L737.6,567.3 L742.7,567.2 L747.8,567.2 L752.9,567.1 L758.1,567.1 L763.2,567.1 L768.3,567.0 L773.4,567.0 L778.5,567.0 L783.6,567.0 L788.7,567.0 L793.8,567.0 L798.9,567.0 L804.0,567.0 L809.0,567.0 L814.1,567.0 L819.2,567.0 L824.3,567.0 L829.4,566.9 L834.5,566.9 L839.6,566.9 L844.7,566.9 L849.7,566.9 L854.8,566.9 L859.9,566.9 L865.0,566.8 L870.1,566.8 L875.2,566.8 L880.3,566.8 L885.4,566.8 L890.4,566.7 L895.5,566.7 L900.6,566.7 L905.7,566.7 L910.8,566.7 L915.9,566.6 L921.0,566.6 L926.1,566.6 L931.1,566.6 L936.2,566.6 L941.3,566.6 L946.4,566.6 L951.5,566.5 L956.6,566.5 L961.7,566.5 L966.8,566.5 L971.8,566.5 L976.9,566.5 L982.0,566.5 L987.1,566.5 L992.2,566.5"/>
<path d="M145.7,576.2 L150.8,576.2 L155.9,576.2 L161.0,576.2 L166.1,576.2 L171.2,576.2 L176.3,576.1 L181.4,576.1 L186.5,576.1 L191.6,576.0 L196.7,576.0 L201.8,576.0 L206.9,575.9 L212.0,575.9 L217.1,575.9 L222.2,575.8 L227.3,575.8 L232.4,575.7 L237.5,575.7 L242.6,575.6 L247.7,575.6 L252.8,575.5 L258.0,575.4 L263.1,575.4 L268.2,575.3 L273.3,575.3 L278.4,575.2 L283.5,575.2 L288.6,575.1 L293.7,575.1 L298.8,575.1 L303.9,575.0 L309.0,575.0 L314.1,575.0 L319.2,574.9 L324.3,574.9 L329.4,574.9 L334.5,574.8 L339.6,574.8 L344.7,574.8 L349.8,574.8 L354.9,574.8 L360.0,574.8 L365.1,574.8 L370.2,574.8 L375.3,574.7 L380.4,574.7 L385.5,574.7 L390.6,574.6 L395.7,574.5 L400.8,574.4 L405.9,574.3 L411.0,574.2 L416.1,574.1 L421.2,574.0 L426.3,573.9 L431.4,573.7 L436.5,573.6 L441.6,573.4 L446.7,573.3 L451.8,573.1 L456.9,573.0 L462.0,572.8 L467.0,572.7 L472.1,572.5 L477.2,572.4 L482.3,572.2 L487.4,572.1 L492.5,571.9 L497.6,571.8 L502.7,571.6 L507.8,571.5 L512.9,571.4 L518.0,571.3 L523.1,571.2 L528.2,571.1 L533.3,571.0 L538.4,570.9 L543.5,570.8 L548.6,570.8 L553.7,570.8 L558.8,570.7 L563.9,570.7 L569.0,570.7 L574.1,570.7 L579.2,570.7 L584.3,570.8 L589.4,570.8 L594.5,570.9 L599.7,571.0 L604.8,571.1 L609.9,571.2 L615.0,571.3 L620.1,571.4 L625.2,571.6 L630.3,571.7 L635.4,571.9 L640.5,572.1 L645.6,572.3 L650.8,572.4 L655.9,572.6 L661.0,572.8 L666.1,573.0 L671.2,573.2 L676.3,573.5 L681.4,573.7 L686.5,573.9 L691.6,574.1 L696.7,574.3 L701.8,574.5 L707.0,574.6 L712.1,574.8 L717.2,575.0 L722.3,575.2 L727.4,575.3 L732.5,575.5 L737.6,575.6 L742.7,575.7 L747.8,575.8 L752.9,575.9 L758.1,576.0 L763.2,576.1 L768.3,576.1 L773.4,576.2 L778.5,576.2 L783.6,576.2 L788.7,576.2 L793.8,576.2 L798.9,576.2 L804.0,576.2 L809.0,576.2 L814.1,576.2 L819.2,576.2 L824.3,576.2 L829.4,576.2 L834.5,576.2 L839.6,576.2 L844.7,576.2 L849.7,576.2 L854.8,576.2 L859.9,576.2 L865.0,576.2 L870.1,576.2 L875.2,576.2 L880.3,576.2 L885.4,576.2 L890.4,576.2 L895.5,576.2 L900.6,576.2 L905.7,576.2 L910.8,576.2 L915.9,576.2 L921.0,576.2 L926.1,576.2 L931.1,576.2 L936.2,576.2 L941.3,576.2 L946.4,576.2 L951.5,576.2 L956.6,576.2 L961.7,576.2 L966.8,576.2 L971.8,576.2 L976.9,576.2 L982.0,576.2 L987.1,576.2 L992.2,576.2"/>
<path d="M145.7,576.2 L150.8,576.2 L155.9,576.2 L161.0,576.2 L166.1,576.1 L171.2,576.1 L176.3,576.0 L181.4,576.0 L186.5,575.9 L191.6,575.8 L196.7,575.7 L201.8,575.6 L206.9,575.5 L212.0,575.4 L217.1,575.3 L222.2,575.2 L227.3,575.0 L232.4,574.9 L237.5,574.8 L242.6,574.6 L247.7,574.5 L252.8,574.4 L258.0,574.2 L263.1,574.1 L268.2,573.9 L273.3,573.8 L278.4,573.7 L283.5,573.5 L288.6,573.4 L293.7,573.3 L298.8,573.2 L303.9,573.1 L309.0,573.0 L314.1,572.9 L319.2,572.8 L324.3,572.7 L329.4,572.7 L334.5,572.6 L339.6,572.6 L344.7,572.5 L349.8,572.5 L354.9,572.5 L360.0,572.5 L365.1,572.5 L370.2,572.5 L375.3,572.5 L380.4,572.5 L385.5,572.5 L390.6,572.6 L395.7,572.6 L400.8,572.6 L405.9,572.6 L411.0,572.6 L416.1,572.7 L421.2,572.7 L426.3,572.7 L431.4,572.8 L436.5,572.8 L441.6,572.8 L446.7,572.9 L451.8,572.9 L456.9,572.9 L462.0,573.0 L467.0,573.0 L472.1,573.1 L477.2,573.1 L482.3,573.1 L487.4,573.2 L492.5,573.2 L497.6,573.2 L502.7,573.3 L507.8,573.3 L512.9,573.3 L518.0,573.4 L523.1,573.4 L528.2,573.4 L533.3,573.4 L538.4,573.4 L543.5,573.5 L548.6,573.5 L553.7,573.5 L558.8,573.5 L563.9,573.5 L569.0,573.5 L574.1,573.5 L579.2,573.5 L584.3,573.5 L589.4,573.5 L594.5,573.6 L599.7,573.6 L604.8,573.6 L609.9,573.7 L615.0,573.7 L620.1,573.8 L625.2,573.8 L630.3,573.9 L635.4,573.9 L640.5,574.0 L645.6,574.1 L650.8,574.1 L655.9,574.2 L661.0,574.3 L666.1,574.4 L671.2,574.4 L676.3,574.5 L681.4,574.6 L686.5,574.6 L691.6,574.7 L696.7,574.8 L701.8,574.9 L707.0,574.9 L712.1,575.0 L717.2,575.1 L722.3,575.1 L727.4,575.2 L732.5,575.2 L737.6,575.3 L742.7,575.3 L747.8,575.4 L752.9,575.4 L758.1,575.4 L763.2,575.5 L768.3,575.5 L773.4,575.5 L778.5,575.5 L783.6,575.5 L788.7,575.5 L793.8,575.5 L798.9,575.5 L804.0,575.5 L809.0,575.5 L814.1,575.5 L819.2,575.5 L824.3,575.6 L829.4,575.6 L834.5,575.6 L839.6,575.6 L844.7,575.6 L849.7,575.7 L854.8,575.7 L859.9,575.7 L865.0,575.7 L870.1,575.8 L875.2,575.8 L880.3,575.8 L885.4,575.8 L890.4,575.9 L895.5,575.9 L900.6,575.9 L905.7,575.9 L910.8,576.0 L915.9,576.0 L921.0,576.0 L926.1,576.0 L931.1,576.1 L936.2,576.1 L941.3,576.1 L946.4,576.1 L951.5,576.1 L956.6,576.2 L961.7,576.2 L966.8,576.2 L971.8,576.2 L976.9,576.2 L982.0,576.2 L987.1,576.2 L992.2,576.2"/>
<path d="M145.7,599.7 L150.8,599.7 L155.9,599.8 L161.0,599.8 L166.1,599.9 L171.2,600.0 L176.3,600.2 L181.4,600.4 L186.5,600.6 L191.6,600.8 L196.7,601.0 L201.8,601.3 L206.9,601.6 L212.0,601.9 L217.1,602.2 L222.2,602.5 L227.3,602.8 L232.4,603.2 L237.5,603.5 L242.6,603.9 L247.7,604.3 L252.8,604.6 L258.0,605.0 L263.1,605.4 L268.2,605.8 L273.3,606.1 L278.4,606.5 L283.5,606.8 L288.6,607.1 L293.7,607.4 L298.8,607.7 L303.9,608.0 L309.0,608.3 L314.1,608.5 L319.2,608.7 L324.3,608.9 L329.4,609.1 L334.5,609.3 L339.6,609.4 L344.7,609.5 L349.8,609.5 L354.9,609.6 L360.0,609.6 L365.1,609.6 L370.2,609.6 L375.3,609.6 L380.4,609.6 L385.5,609.6 L390.6,609.6 L395.7,609.6 L400.8,609.6 L405.9,609.6 L411.0,609.6 L416.1,609.7 L421.2,609.7 L426.3,609.7 L431.4,609.7 L436.5,609.7 L441.6,609.7 L446.7,609.7 L451.8,609.7 L456.9,609.7 L462.0,609.7 L467.0,609.8 L472.1,609.8 L477.2,609.8 L482.3,609.8 L487.4,609.8 L492.5,609.8 L497.6,609.8 L502.7,609.8 L507.8,609.8 L512.9,609.8 L518.0,609.9 L523.1,609.9 L528.2,609.9 L533.3,609.9 L538.4,609.9 L543.5,609.9 L548.6,609.9 L553.7,609.9 L558.8,609.9 L563.9,609.9 L569.0,609.9 L574.1,609.9 L579.2,609.8 L584.3,609.8 L589.4,609.7 L594.5,609.5 L599.7,609.4 L604.8,609.2 L609.9,609.0 L615.0,608.8 L620.1,608.5 L625.2,608.3 L630.3,608.0 L635.4,607.7 L640.5,607.4 L645.6,607.0 L650.8,606.7 L655.9,606.3 L661.0,605.9 L666.1,605.6 L671.2,605.2 L676.3,604.8 L681.4,604.4 L686.5,604.0 L691.6,603.7 L696.7,603.3 L701.8,602.9 L707.0,602.6 L712.1,602.2 L717.2,601.9 L722.3,601.6 L727.4,601.3 L732.5,601.1 L737.6,600.8 L742.7,600.6 L747.8,600.4 L752.9,600.2 L758.1,600.1 L763.2,599.9 L768.3,599.8 L773.4,599.8 L778.5,599.7 L783.6,599.7 L788.7,599.7 L793.8,599.7 L798.9,599.7 L804.0,599.7 L809.0,599.7 L814.1,599.7 L819.2,599.7 L824.3,599.7 L829.4,599.7 L834.5,599.7 L839.6,599.7 L844.7,599.7 L849.7,599.7 L854.8,599.7 L859.9,599.7 L865.0,599.7 L870.1,599.7 L875.2,599.7 L880.3,599.7 L885.4,599.7 L890.4,599.7 L895.5,599.7 L900.6,599.7 L905.7,599.7 L910.8,599.7 L915.9,599.7 L921.0,599.7 L926.1,599.7 L931.1,599.7 L936.2,599.7 L941.3,599.7 L946.4,599.7 L951.5,599.7 L956.6,599.7 L961.7,599.7 L966.8,599.7 L971.8,599.7 L976.9,599.7 L982.0,599.7 L987.1,599.7 L992.2,599.7"/>
<path d="M145.7,623.8 L150.8,623.8 L155.9,623.8 L161.0,623.8 L166.1,623.7 L171.2,623.7 L176.3,623.7 L181.4,623.6 L186.5,623.5 L191.6,623.5 L196.7,623.4 L201.8,623.3 L206.9,623.2 L212.0,623.1 L217.1,623.0 L222.2,622.9 L227.3,622.8 L232.4,622.7 L237.5,622.5 L242.6,622.4 L247.7,622.3 L252.8,622.1 L258.0,621.9 L263.1,621.8 L268.2,621.6 L273.3,621.4 L278.4,621.3 L283.5,621.1 L288.6,620.9 L293.7,620.7 L298.8,620.5 L303.9,620.3 L309.0,620.1 L314.1,619.9 L319.2,619.7 L324.3,619.5 L329.4,619.3 L334.5,619.1 L339.6,618.9 L344.7,618.6 L349.8,618.4 L354.9,618.2 L360.0,618.0 L365.1,618.0 L370.2,618.0 L375.3,618.0 L380.4,618.0 L385.5,618.0 L390.6,618.1 L395.7,618.1 L400.8,618.1 L405.9,618.1 L411.0,618.2 L416.1,618.2 L421.2,618.2 L426.3,618.3 L431.4,618.3 L436.5,618.4 L441.6,618.4 L446.7,618.4 L451.8,618.5 L456.9,618.5 L462.0,618.6 L467.0,618.6 L472.1,618.7 L477.2,618.7 L482.3,618.8 L487.4,618.8 L492.5,618.8 L497.6,618.9 L502.7,618.9 L507.8,619.0 L512.9,619.0 L518.0,619.0 L523.1,619.1 L528.2,619.1 L533.3,619.1 L538.4,619.1 L543.5,619.2 L548.6,619.2 L553.7,619.2 L558.8,619.2 L563.9,619.2 L569.0,619.2 L574.1,619.2 L579.2,619.2 L584.3,619.3 L589.4,619.3 L594.5,619.4 L599.7,619.4 L604.8,619.5 L609.9,619.6 L615.0,619.7 L620.1,619.9 L625.2,620.0 L630.3,620.1 L635.4,620.3 L640.5,620.5 L645.6,620.6 L650.8,620.8 L655.9,621.0 L661.0,621.1 L666.1,621.3 L671.2,621.5 L676.3,621.7 L681.4,621.9 L686.5,622.1 L691.6,622.3 L696.7,622.4 L701.8,622.6 L707.0,622.8 L712.1,623.0 L717.2,623.1 L722.3,623.3 L727.4,623.4 L732.5,623.5 L737.6,623.7 L742.7,623.8 L747.8,623.9 L752.9,624.0 L758.1,624.0 L763.2,624.1 L768.3,624.1 L773.4,624.2 L778.5,624.2 L783.6,624.2 L788.7,624.2 L793.8,624.2 L798.9,624.2 L804.0,624.2 L809.0,624.2 L814.1,624.2 L819.2,624.2 L824.3,624.2 L829.4,624.2 L834.5,624.2 L839.6,624.2 L844.7,624.2 L849.7,624.2 L854.8,624.2 L859.9,624.2 L865.0,624.2 L870.1,624.2 L875.2,624.2 L880.3,624.2 L885.4,624.2 L890.4,624.2 L895.5,624.2 L900.6,624.2 L905.7,624.2 L910.8,624.2 L915.9,624.2 L921.0,624.2 L926.1,624.2 L931.1,624.2 L936.2,624.2 L941.3,624.2 L946.4,624.2 L951.5,624.2 L956.6,624.2 L961.7,624.2 L966.8,624.2 L971.8,624.2 L976.9,624.2 L982.0,624.2 L987.1,624.2 L992.2,624.2"/>
<path d="M145.7,629.9 L150.8,629.9 L155.9,629.9 L161.0,629.9 L166.1,629.8 L171.2,629.8 L176.3,629.8 L181.4,629.7 L186.5,629.7 L191.6,629.6 L196.7,629.6 L201.8,629.5 L206.9,629.4 L212.0,629.3 L217.1,629.2 L222.2,629.2 L227.3,629.1 L232.4,629.0 L237.5,628.9 L242.6,628.8 L247.7,628.7 L252.8,628.6 L258.0,628.5 L263.1,628.4 L268.2,628.3 L273.3,628.2 L278.4,628.1 L283.5,628.0 L288.6,627.9 L293.7,627.9 L298.8,627.8 L303.9,627.7 L309.0,627.6 L314.1,627.6 L319.2,627.5 L324.3,627.5 L329.4,627.4 L334.5,627.4 L339.6,627.4 L344.7,627.3 L349.8,627.3 L354.9,627.3 L360.0,627.3 L365.1,627.3 L370.2,627.3 L375.3,627.3 L380.4,627.3 L385.5,627.3 L390.6,627.3 L395.7,627.3 L400.8,627.4 L405.9,627.4 L411.0,627.4 L416.1,627.4 L421.2,627.4 L426.3,627.4 L431.4,627.5 L436.5,627.5 L441.6,627.5 L446.7,627.5 L451.8,627.5 L456.9,627.6 L462.0,627.6 L467.0,627.6 L472.1,627.6 L477.2,627.7 L482.3,627.7 L487.4,627.7 L492.5,627.7 L497.6,627.7 L502.7,627.8 L507.8,627.8 L512.9,627.8 L518.0,627.8 L523.1,627.8 L528.2,627.8 L533.3,627.9 L538.4,627.9 L543.5,627.9 L548.6,627.9 L553.7,627.9 L558.8,627.9 L563.9,627.9 L569.0,627.9 L574.1,627.9 L579.2,627.9 L584.3,627.9 L589.4,627.9 L594.5,628.0 L599.7,628.0 L604.8,628.0 L609.9,628.1 L615.0,628.1 L620.1,628.2 L625.2,628.2 L630.3,628.3 L635.4,628.3 L640.5,628.4 L645.6,628.4 L650.8,628.5 L655.9,628.6 L661.0,628.6 L666.1,628.7 L671.2,628.8 L676.3,628.8 L681.4,628.9 L686.5,629.0 L691.6,629.1 L696.7,629.1 L701.8,629.2 L707.0,629.3 L712.1,629.3 L717.2,629.4 L722.3,629.4 L727.4,629.5 L732.5,629.5 L737.6,629.6 L742.7,629.6 L747.8,629.7 L752.9,629.7 L758.1,629.7 L763.2,629.8 L768.3,629.8 L773.4,629.8 L778.5,629.8 L783.6,629.8 L788.7,629.8 L793.8,629.8 L798.9,629.8 L804.0,629.8 L809.0,629.8 L814.1,629.8 L819.2,629.8 L824.3,629.8 L829.4,629.8 L834.5,629.8 L839.6,629.8 L844.7,629.8 L849.7,629.8 L854.8,629.8 L859.9,629.8 L865.0,629.8 L870.1,629.8 L875.2,629.8 L880.3,629.8 L885.4,629.8 L890.4,629.8 L895.5,629.8 L900.6,629.8 L905.7,629.8 L910.8,629.8 L915.9,629.8 L921.0,629.8 L926.1,629.8 L931.1,629.8 L936.2,629.8 L941.3,629.8 L946.4,629.8 L951.5,629.8 L956.6,629.8 L961.7,629.8 L966.8,629.8 L971.8,629.8 L976.9,629.8 L982.0,629.8 L987.1,629.8 L992.2,629.8"/>
<path d="M145.7,640.1 L150.8,640.1 L155.9,640.1 L161.0,640.0 L166.1,640.0 L171.2,639.9 L176.3,639.8 L181.4,639.7 L186.5,639.6 L191.6,639.5 L196.7,639.4 L201.8,639.3 L206.9,639.1 L212.0,638.9 L217.1,638.8 L222.2,638.6 L227.3,638.4 L232.4,638.2 L237.5,638.0 L242.6,637.8 L247.7,637.6 L252.8,637.5 L258.0,637.3 L263.1,637.1 L268.2,636.9 L273.3,636.7 L278.4,636.5 L283.5,636.3 L288.6,636.1 L293.7,636.0 L298.8,635.8 L303.9,635.6 L309.0,635.5 L314.1,635.4 L319.2,635.3 L324.3,635.2 L329.4,635.1 L334.5,635.0 L339.6,634.9 L344.7,634.9 L349.8,634.8 L354.9,634.8 L360.0,634.8 L365.1,634.8 L370.2,634.8 L375.3,634.8 L380.4,634.8 L385.5,634.8 L390.6,634.7 L395.7,634.7 L400.8,634.7 L405.9,634.7 L411.0,634.7 L416.1,634.6 L421.2,634.6 L426.3,634.6 L431.4,634.5 L436.5,634.5 L441.6,634.5 L446.7,634.4 L451.8,634.4 L456.9,634.4 L462.0,634.3 L467.0,634.3 L472.1,634.2 L477.2,634.2 L482.3,634.2 L487.4,634.1 L492.5,634.1 L497.6,634.1 L502.7,634.0 L507.8,634.0 L512.9,634.0 L518.0,633.9 L523.1,633.9 L528.2,633.9 L533.3,633.9 L538.4,633.9 L543.5,633.8 L548.6,633.8 L553.7,633.8 L558.8,633.8 L563.9,633.8 L569.0,633.8 L574.1,633.8 L579.2,633.7 L584.3,633.7 L589.4,633.6 L594.5,633.5 L599.7,633.3 L604.8,633.2 L609.9,633.0 L615.0,632.8 L620.1,632.6 L625.2,632.3 L630.3,632.0 L635.4,631.8 L640.5,631.5 L645.6,631.2 L650.8,630.8 L655.9,630.5 L661.0,630.2 L666.1,629.8 L671.2,629.5 L676.3,629.1 L681.4,628.8 L686.5,628.5 L691.6,628.1 L696.7,627.8 L701.8,627.5 L707.0,627.1 L712.1,626.8 L717.2,626.5 L722.3,626.3 L727.4,626.0 L732.5,625.7 L737.6,625.5 L742.7,625.3 L747.8,625.1 L752.9,625.0 L758.1,624.8 L763.2,624.7 L768.3,624.6 L773.4,624.6 L778.5,624.5 L783.6,624.5 L788.7,624.5 L793.8,624.5 L798.9,624.5 L804.0,624.5 L809.0,624.5 L814.1,624.5 L819.2,624.5 L824.3,624.5 L829.4,624.5 L834.5,624.5 L839.6,624.5 L844.7,624.5 L849.7,624.5 L854.8,624.5 L859.9,624.5 L865.0,624.5 L870.1,624.5 L875.2,624.5 L880.3,624.5 L885.4,624.5 L890.4,624.5 L895.5,624.5 L900.6,624.5 L905.7,624.5 L910.8,624.5 L915.9,624.5 L921.0,624.5 L926.1,624.5 L931.1,624.5 L936.2,624.5 L941.3,624.5 L946.4,624.5 L951.5,624.5 L956.6,624.5 L961.7,624.5 L966.8,624.5 L971.8,624.5 L976.9,624.5 L982.0,624.5 L987.1,624.5 L992.2,624.5"/>
<path d="M145.7,642.9 L150.8,642.9 L155.9,642.9 L161.0,642.8 L166.1,642.8 L171.2,642.7 L176.3,642.7 L181.4,642.6 L186.5,642.5 L191.6,642.4 L196.7,642.3 L201.8,642.2 L206.9,642.1 L212.0,641.9 L217.1,641.8 L222.2,641.7 L227.3,641.5 L232.4,641.3 L237.5,641.2 L242.6,641.0 L247.7,640.9 L252.8,640.7 L258.0,640.5 L263.1,640.4 L268.2,640.2 L273.3,640.1 L278.4,639.9 L283.5,639.7 L288.6,639.6 L293.7,639.5 L298.8,639.3 L303.9,639.2 L309.0,639.1 L314.1,639.0 L319.2,638.9 L324.3,638.8 L329.4,638.7 L334.5,638.7 L339.6,638.6 L344.7,638.6 L349.8,638.5 L354.9,638.5 L360.0,638.5 L365.1,638.5 L370.2,638.5 L375.3,638.5 L380.4,638.5 L385.5,638.5 L390.6,638.4 L395.7,638.4 L400.8,638.4 L405.9,638.4 L411.0,638.3 L416.1,638.3 L421.2,638.2 L426.3,638.2 L431.4,638.2 L436.5,638.1 L441.6,638.1 L446.7,638.0 L451.8,638.0 L456.9,637.9 L462.0,637.9 L467.0,637.8 L472.1,637.8 L477.2,637.7 L482.3,637.7 L487.4,637.6 L492.5,637.6 L497.6,637.5 L502.7,637.5 L507.8,637.5 L512.9,637.4 L518.0,637.4 L523.1,637.3 L528.2,637.3 L533.3,637.3 L538.4,637.3 L543.5,637.2 L548.6,637.2 L553.7,637.2 L558.8,637.2 L563.9,637.2 L569.0,637.2 L574.1,637.2 L579.2,637.2 L584.3,637.3 L589.4,637.3 L594.5,637.4 L599.7,637.4 L604.8,637.5 L609.9,637.6 L615.0,637.7 L620.1,637.8 L625.2,637.9 L630.3,638.0 L635.4,638.2 L640.5,638.3 L645.6,638.4 L650.8,638.6 L655.9,638.8 L661.0,638.9 L666.1,639.1 L671.2,639.2 L676.3,639.4 L681.4,639.6 L686.5,639.7 L691.6,639.9 L696.7,640.0 L701.8,640.2 L707.0,640.4 L712.1,640.5 L717.2,640.6 L722.3,640.8 L727.4,640.9 L732.5,641.0 L737.6,641.1 L742.7,641.2 L747.8,641.3 L752.9,641.4 L758.1,641.4 L763.2,641.5 L768.3,641.5 L773.4,641.6 L778.5,641.6 L783.6,641.6 L788.7,641.6 L793.8,641.6 L798.9,641.6 L804.0,641.6 L809.0,641.6 L814.1,641.6 L819.2,641.6 L824.3,641.6 L829.4,641.6 L834.5,641.6 L839.6,641.6 L844.7,641.6 L849.7,641.6 L854.8,641.6 L859.9,641.6 L865.0,641.6 L870.1,641.6 L875.2,641.6 L880.3,641.6 L885.4,641.6 L890.4,641.6 L895.5,641.6 L900.6,641.6 L905.7,641.6 L910.8,641.6 L915.9,641.6 L921.0,641.6 L926.1,641.6 L931.1,641.6 L936.2,641.6 L941.3,641.6 L946.4,641.6 L951.5,641.6 L956.6,641.6 L961.7,641.6 L966.8,641.6 L971.8,641.6 L976.9,641.6 L982.0,641.6 L987.1,641.6 L992.2,641.6"/>
<path d="M145.7,645.2 L150.8,645.2 L155.9,645.2 L161.0,645.2 L166.1,645.1 L171.2,645.1 L176.3,645.0 L181.4,645.0 L186.5,644.9 L191.6,644.8 L196.7,644.7 L201.8,644.6 L206.9,644.5 L212.0,644.4 L217.1,644.3 L222.2,644.2 L227.3,644.1 L232.4,643.9 L237.5,643.8 L242.6,643.7 L247.7,643.5 L252.8,643.4 L258.0,643.3 L263.1,643.1 L268.2,643.0 L273.3,642.9 L278.4,642.7 L283.5,642.6 L288.6,642.5 L293.7,642.4 L298.8,642.3 L303.9,642.2 L309.0,642.1 L314.1,642.0 L319.2,641.9 L324.3,641.8 L329.4,641.8 L334.5,641.7 L339.6,641.7 L344.7,641.6 L349.8,641.6 L354.9,641.6 L360.0,641.6 L365.1,641.6 L370.2,641.6 L375.3,641.6 L380.4,641.6 L385.5,641.6 L390.6,641.6 L395.7,641.6 L400.8,641.5 L405.9,641.5 L411.0,641.5 L416.1,641.5 L421.2,641.5 L426.3,641.5 L431.4,641.4 L436.5,641.4 L441.6,641.4 L446.7,641.4 L451.8,641.4 L456.9,641.3 L462.0,641.3 L467.0,641.3 L472.1,641.3 L477.2,641.2 L482.3,641.2 L487.4,641.2 L492.5,641.2 L497.6,641.2 L502.7,641.1 L507.8,641.1 L512.9,641.1 L518.0,641.1 L523.1,641.1 L528.2,641.1 L533.3,641.0 L538.4,641.0 L543.5,641.0 L548.6,641.0 L553.7,641.0 L558.8,641.0 L563.9,641.0 L569.0,641.0 L574.1,641.0 L579.2,641.0 L584.3,641.0 L589.4,641.1 L594.5,641.1 L599.7,641.1 L604.8,641.2 L609.9,641.2 L615.0,641.3 L620.1,641.3 L625.2,641.4 L630.3,641.5 L635.4,641.5 L640.5,641.6 L645.6,641.7 L650.8,641.8 L655.9,641.9 L661.0,642.0 L666.1,642.1 L671.2,642.2 L676.3,642.2 L681.4,642.3 L686.5,642.4 L691.6,642.5 L696.7,642.6 L701.8,642.7 L707.0,642.8 L712.1,642.9 L717.2,643.0 L722.3,643.0 L727.4,643.1 L732.5,643.2 L737.6,643.2 L742.7,643.3 L747.8,643.3 L752.9,643.4 L758.1,643.4 L763.2,643.4 L768.3,643.5 L773.4,643.5 L778.5,643.5 L783.6,643.5 L788.7,643.5 L793.8,643.5 L798.9,643.5 L804.0,643.5 L809.0,643.5 L814.1,643.5 L819.2,643.5 L824.3,643.5 L829.4,643.5 L834.5,643.5 L839.6,643.5 L844.7,643.5 L849.7,643.5 L854.8,643.5 L859.9,643.5 L865.0,643.5 L870.1,643.5 L875.2,643.5 L880.3,643.5 L885.4,643.5 L890.4,643.5 L895.5,643.5 L900.6,643.5 L905.7,643.5 L910.8,643.5 L915.9,643.5 L921.0,643.5 L926.1,643.5 L931.1,643.5 L936.2,643.5 L941.3,643.5 L946.4,643.5 L951.5,643.5 L956.6,643.5 L961.7,643.5 L966.8,643.5 L971.8,643.5 L976.9,643.5 L982.0,643.5 L987.1,643.5 L992.2,643.5"/>
<path d="M145.7,647.6 L150.8,647.6 L155.9,647.6 L161.0,647.6 L166.1,647.5 L171.2,647.5 L176.3,647.5 L181.4,647.4 L186.5,647.3 L191.6,647.3 L196.7,647.2 L201.8,647.1 L206.9,647.1 L212.0,647.0 L217.1,646.9 L222.2,646.8 L227.3,646.7 L232.4,646.6 L237.5,646.5 L242.6,646.4 L247.7,646.3 L252.8,646.2 L258.0,646.0 L263.1,645.9 L268.2,645.8 L273.3,645.7 L278.4,645.6 L283.5,645.5 L288.6,645.4 L293.7,645.3 L298.8,645.2 L303.9,645.2 L309.0,645.1 L314.1,645.0 L319.2,645.0 L324.3,644.9 L329.4,644.8 L334.5,644.8 L339.6,644.8 L344.7,644.7 L349.8,644.7 L354.9,644.7 L360.0,644.7 L365.1,644.7 L370.2,644.7 L375.3,644.7 L380.4,644.7 L385.5,644.7 L390.6,644.7 L395.7,644.7 L400.8,644.7 L405.9,644.7 L411.0,644.7 L416.1,644.7 L421.2,644.7 L426.3,644.7 L431.4,644.7 L436.5,644.7 L441.6,644.7 L446.7,644.7 L451.8,644.7 L456.9,644.7 L462.0,644.7 L467.0,644.7 L472.1,644.7 L477.2,644.7 L482.3,644.7 L487.4,644.7 L492.5,644.7 L497.6,644.7 L502.7,644.7 L507.8,644.7 L512.9,644.7 L518.0,644.7 L523.1,644.7 L528.2,644.7 L533.3,644.7 L538.4,644.7 L543.5,644.7 L548.6,644.7 L553.7,644.7 L558.8,644.7 L563.9,644.7 L569.0,644.7 L574.1,644.7 L579.2,644.7 L584.3,644.7 L589.4,644.7 L594.5,644.7 L599.7,644.8 L604.8,644.8 L609.9,644.8 L615.0,644.8 L620.1,644.9 L625.2,644.9 L630.3,644.9 L635.4,645.0 L640.5,645.0 L645.6,645.1 L650.8,645.1 L655.9,645.2 L661.0,645.2 L666.1,645.3 L671.2,645.3 L676.3,645.4 L681.4,645.4 L686.5,645.4 L691.6,645.5 L696.7,645.5 L701.8,645.6 L707.0,645.6 L712.1,645.7 L717.2,645.7 L722.3,645.8 L727.4,645.8 L732.5,645.8 L737.6,645.9 L742.7,645.9 L747.8,645.9 L752.9,645.9 L758.1,646.0 L763.2,646.0 L768.3,646.0 L773.4,646.0 L778.5,646.0 L783.6,646.0 L788.7,646.0 L793.8,646.0 L798.9,646.0 L804.0,646.0 L809.0,646.0 L814.1,646.0 L819.2,646.0 L824.3,646.0 L829.4,646.0 L834.5,646.0 L839.6,646.0 L844.7,646.0 L849.7,646.0 L854.8,646.0 L859.9,646.0 L865.0,646.0 L870.1,646.0 L875.2,646.0 L880.3,646.0 L885.4,646.0 L890.4,646.0 L895.5,646.0 L900.6,646.0 L905.7,646.0 L910.8,646.0 L915.9,646.0 L921.0,646.0 L926.1,646.0 L931.1,646.0 L936.2,646.0 L941.3,646.0 L946.4,646.0 L951.5,646.0 L956.6,646.0 L961.7,646.0 L966.8,646.0 L971.8,646.0 L976.9,646.0 L982.0,646.0 L987.1,646.0 L992.2,646.0"/>
<path d="M145.7,650.4 L150.8,650.4 L155.9,650.4 L161.0,650.4 L166.1,650.4 L171.2,650.3 L176.3,650.3 L181.4,650.3 L186.5,650.2 L191.6,650.2 L196.7,650.1 L201.8,650.1 L206.9,650.0 L212.0,650.0 L217.1,649.9 L222.2,649.8 L227.3,649.8 L232.4,649.7 L237.5,649.6 L242.6,649.5 L247.7,649.5 L252.8,649.4 L258.0,649.3 L263.1,649.3 L268.2,649.2 L273.3,649.1 L278.4,649.0 L283.5,649.0 L288.6,648.9 L293.7,648.8 L298.8,648.8 L303.9,648.7 L309.0,648.7 L314.1,648.6 L319.2,648.6 L324.3,648.5 L329.4,648.5 L334.5,648.5 L339.6,648.4 L344.7,648.4 L349.8,648.4 L354.9,648.4 L360.0,648.4 L365.1,648.4 L370.2,648.4 L375.3,648.4 L380.4,648.4 L385.5,648.4 L390.6,648.3 L395.7,648.3 L400.8,648.3 L405.9,648.3 L411.0,648.2 L416.1,648.2 L421.2,648.2 L426.3,648.1 L431.4,648.1 L436.5,648.0 L441.6,648.0 L446.7,648.0 L451.8,647.9 L456.9,647.9 L462.0,647.8 L467.0,647.8 L472.1,647.7 L477.2,647.7 L482.3,647.6 L487.4,647.6 L492.5,647.6 L497.6,647.5 L502.7,647.5 L507.8,647.4 L512.9,647.4 L518.0,647.4 L523.1,647.3 L528.2,647.3 L533.3,647.3 L538.4,647.3 L543.5,647.2 L548.6,647.2 L553.7,647.2 L558.8,647.2 L563.9,647.2 L569.0,647.2 L574.1,647.2 L579.2,647.2 L584.3,647.2 L589.4,647.2 L594.5,647.2 L599.7,647.3 L604.8,647.3 L609.9,647.3 L615.0,647.3 L620.1,647.4 L625.2,647.4 L630.3,647.4 L635.4,647.5 L640.5,647.5 L645.6,647.5 L650.8,647.6 L655.9,647.6 L661.0,647.7 L666.1,647.7 L671.2,647.8 L676.3,647.8 L681.4,647.8 L686.5,647.9 L691.6,647.9 L696.7,648.0 L701.8,648.0 L707.0,648.1 L712.1,648.1 L717.2,648.1 L722.3,648.2 L727.4,648.2 L732.5,648.2 L737.6,648.3 L742.7,648.3 L747.8,648.3 L752.9,648.3 L758.1,648.4 L763.2,648.4 L768.3,648.4 L773.4,648.4 L778.5,648.4 L783.6,648.4 L788.7,648.4 L793.8,648.4 L798.9,648.4 L804.0,648.4 L809.0,648.4 L814.1,648.4 L819.2,648.4 L824.3,648.4 L829.4,648.4 L834.5,648.4 L839.6,648.4 L844.7,648.4 L849.7,648.4 L854.8,648.4 L859.9,648.4 L865.0,648.4 L870.1,648.4 L875.2,648.4 L880.3,648.4 L885.4,648.4 L890.4,648.4 L895.5,648.4 L900.6,648.4 L905.7,648.4 L910.8,648.4 L915.9,648.4 L921.0,648.4 L926.1,648.4 L931.1,648.4 L936.2,648.4 L941.3,648.4 L946.4,648.4 L951.5,648.4 L956.6,648.4 L961.7,648.4 L966.8,648.4 L971.8,648.4 L976.9,648.4 L982.0,648.4 L987.1,648.4 L992.2,648.4"/>
<path d="M145.7,652.2 L150.8,652.2 L155.9,652.2 L161.0,652.2 L166.1,652.2 L171.2,652.2 L176.3,652.1 L181.4,652.1 L186.5,652.1 L191.6,652.1 L196.7,652.0 L201.8,652.0 L206.9,652.0 L212.0,651.9 L217.1,651.9 L222.2,651.8 L227.3,651.8 L232.4,651.7 L237.5,651.7 L242.6,651.6 L247.7,651.6 L252.8,651.6 L258.0,651.5 L263.1,651.5 L268.2,651.4 L273.3,651.4 L278.4,651.3 L283.5,651.3 L288.6,651.2 L293.7,651.2 L298.8,651.1 L303.9,651.1 L309.0,651.1 L314.1,651.0 L319.2,651.0 L324.3,651.0 L329.4,651.0 L334.5,650.9 L339.6,650.9 L344.7,650.9 L349.8,650.9 L354.9,650.9 L360.0,650.9 L365.1,650.9 L370.2,650.9 L375.3,650.9 L380.4,650.9 L385.5,650.9 L390.6,650.8 L395.7,650.8 L400.8,650.8 L405.9,650.8 L411.0,650.7 L416.1,650.7 L421.2,650.7 L426.3,650.6 L431.4,650.6 L436.5,650.5 L441.6,650.5 L446.7,650.5 L451.8,650.4 L456.9,650.4 L462.0,650.3 L467.0,650.3 L472.1,650.2 L477.2,650.2 L482.3,650.1 L487.4,650.1 L492.5,650.1 L497.6,650.0 L502.7,650.0 L507.8,649.9 L512.9,649.9 L518.0,649.9 L523.1,649.8 L528.2,649.8 L533.3,649.8 L538.4,649.8 L543.5,649.7 L548.6,649.7 L553.7,649.7 L558.8,649.7 L563.9,649.7 L569.0,649.7 L574.1,649.7 L579.2,649.7 L584.3,649.7 L589.4,649.7 L594.5,649.7 L599.7,649.7 L604.8,649.7 L609.9,649.8 L615.0,649.8 L620.1,649.8 L625.2,649.8 L630.3,649.8 L635.4,649.8 L640.5,649.9 L645.6,649.9 L650.8,649.9 L655.9,649.9 L661.0,649.9 L666.1,650.0 L671.2,650.0 L676.3,650.0 L681.4,650.0 L686.5,650.0 L691.6,650.1 L696.7,650.1 L701.8,650.1 L707.0,650.1 L712.1,650.1 L717.2,650.2 L722.3,650.2 L727.4,650.2 L732.5,650.2 L737.6,650.2 L742.7,650.2 L747.8,650.3 L752.9,650.3 L758.1,650.3 L763.2,650.3 L768.3,650.3 L773.4,650.3 L778.5,650.3 L783.6,650.3 L788.7,650.3 L793.8,650.3 L798.9,650.3 L804.0,650.3 L809.0,650.3 L814.1,650.3 L819.2,650.3 L824.3,650.3 L829.4,650.3 L834.5,650.3 L839.6,650.3 L844.7,650.3 L849.7,650.3 L854.8,650.3 L859.9,650.3 L865.0,650.3 L870.1,650.3 L875.2,650.3 L880.3,650.3 L885.4,650.3 L890.4,650.3 L895.5,650.3 L900.6,650.3 L905.7,650.3 L910.8,650.3 L915.9,650.3 L921.0,650.3 L926.1,650.3 L931.1,650.3 L936.2,650.3 L941.3,650.3 L946.4,650.3 L951.5,650.3 L956.6,650.3 L961.7,650.3 L966.8,650.3 L971.8,650.3 L976.9,650.3 L982.0,650.3 L987.1,650.3 L992.2,650.3"/>
<path d="M145.7,661.1 L150.8,661.1 L155.9,661.1 L161.0,661.0 L166.1,660.9 L171.2,660.8 L176.3,660.7 L181.4,660.5 L186.5,660.4 L191.6,660.2 L196.7,660.0 L201.8,659.8 L206.9,659.5 L212.0,659.3 L217.1,659.0 L222.2,658.8 L227.3,658.5 L232.4,658.2 L237.5,657.9 L242.6,657.6 L247.7,657.3 L252.8,657.0 L258.0,656.6 L263.1,656.3 L268.2,656.0 L273.3,655.7 L278.4,655.4 L283.5,655.1 L288.6,654.9 L293.7,654.6 L298.8,654.4 L303.9,654.1 L309.0,653.9 L314.1,653.7 L319.2,653.5 L324.3,653.4 L329.4,653.2 L334.5,653.1 L339.6,653.0 L344.7,652.9 L349.8,652.8 L354.9,652.8 L360.0,652.8 L365.1,652.8 L370.2,652.8 L375.3,652.8 L380.4,652.8 L385.5,652.8 L390.6,652.8 L395.7,652.8 L400.8,652.7 L405.9,652.7 L411.0,652.7 L416.1,652.7 L421.2,652.7 L426.3,652.7 L431.4,652.6 L436.5,652.6 L441.6,652.6 L446.7,652.6 L451.8,652.6 L456.9,652.5 L462.0,652.5 L467.0,652.5 L472.1,652.5 L477.2,652.4 L482.3,652.4 L487.4,652.4 L492.5,652.4 L497.6,652.4 L502.7,652.3 L507.8,652.3 L512.9,652.3 L518.0,652.3 L523.1,652.3 L528.2,652.3 L533.3,652.2 L538.4,652.2 L543.5,652.2 L548.6,652.2 L553.7,652.2 L558.8,652.2 L563.9,652.2 L569.0,652.2 L574.1,652.2 L579.2,652.2 L584.3,652.2 L589.4,652.2 L594.5,652.2 L599.7,652.2 L604.8,652.2 L609.9,652.3 L615.0,652.3 L620.1,652.3 L625.2,652.3 L630.3,652.3 L635.4,652.3 L640.5,652.4 L645.6,652.4 L650.8,652.4 L655.9,652.4 L661.0,652.4 L666.1,652.5 L671.2,652.5 L676.3,652.5 L681.4,652.5 L686.5,652.5 L691.6,652.6 L696.7,652.6 L701.8,652.6 L707.0,652.6 L712.1,652.6 L717.2,652.7 L722.3,652.7 L727.4,652.7 L732.5,652.7 L737.6,652.7 L742.7,652.7 L747.8,652.8 L752.9,652.8 L758.1,652.8 L763.2,652.8 L768.3,652.8 L773.4,652.8 L778.5,652.8 L783.6,652.8 L788.7,652.8 L793.8,652.8 L798.9,652.8 L804.0,652.8 L809.0,652.8 L814.1,652.8 L819.2,652.8 L824.3,652.7 L829.4,652.7 L834.5,652.7 L839.6,652.7 L844.7,652.7 L849.7,652.7 L854.8,652.6 L859.9,652.6 L865.0,652.6 L870.1,652.6 L875.2,652.6 L880.3,652.5 L885.4,652.5 L890.4,652.5 L895.5,652.5 L900.6,652.4 L905.7,652.4 L910.8,652.4 L915.9,652.4 L921.0,652.4 L926.1,652.3 L931.1,652.3 L936.2,652.3 L941.3,652.3 L946.4,652.3 L951.5,652.3 L956.6,652.2 L961.7,652.2 L966.8,652.2 L971.8,652.2 L976.9,652.2 L982.0,652.2 L987.1,652.2 L992.2,652.2"/>
<path d="M145.7,667.2 L150.8,666.8 L155.9,666.4 L161.0,665.9 L166.1,665.5 L171.2,665.1 L176.3,664.7 L181.4,664.3 L186.5,663.9 L191.6,663.5 L196.7,663.1 L201.8,662.7 L206.9,662.3 L212.0,661.9 L217.1,661.6 L222.2,661.2 L227.3,660.8 L232.4,660.5 L237.5,660.2 L242.6,659.8 L247.7,659.5 L252.8,659.2 L258.0,658.9 L263.1,658.6 L268.2,658.4 L273.3,658.1 L278.4,657.9 L283.5,657.6 L288.6,657.4 L293.7,657.2 L298.8,657.0 L303.9,656.8 L309.0,656.7 L314.1,656.5 L319.2,656.4 L324.3,656.3 L329.4,656.2 L334.5,656.1 L339.6,656.0 L344.7,656.0 L349.8,655.9 L354.9,655.9 L360.0,655.9 L365.1,655.9 L370.2,655.9 L375.3,655.9 L380.4,655.9 L385.5,655.9 L390.6,655.8 L395.7,655.8 L400.8,655.8 L405.9,655.8 L411.0,655.7 L416.1,655.7 L421.2,655.7 L426.3,655.6 L431.4,655.6 L436.5,655.5 L441.6,655.5 L446.7,655.5 L451.8,655.4 L456.9,655.4 L462.0,655.3 L467.0,655.3 L472.1,655.2 L477.2,655.2 L482.3,655.1 L487.4,655.1 L492.5,655.1 L497.6,655.0 L502.7,655.0 L507.8,654.9 L512.9,654.9 L518.0,654.9 L523.1,654.8 L528.2,654.8 L533.3,654.8 L538.4,654.8 L543.5,654.7 L548.6,654.7 L553.7,654.7 L558.8,654.7 L563.9,654.7 L569.0,654.7 L574.1,654.7 L579.2,654.7 L584.3,654.8 L589.4,654.9 L594.5,655.0 L599.7,655.1 L604.8,655.2 L609.9,655.4 L615.0,655.6 L620.1,655.8 L625.2,656.0 L630.3,656.2 L635.4,656.4 L640.5,656.7 L645.6,657.0 L650.8,657.2 L655.9,657.5 L661.0,657.8 L666.1,658.1 L671.2,658.4 L676.3,658.7 L681.4,659.0 L686.5,659.3 L691.6,659.6 L696.7,659.9 L701.8,660.2 L707.0,660.4 L712.1,660.7 L717.2,661.0 L722.3,661.2 L727.4,661.4 L732.5,661.6 L737.6,661.8 L742.7,662.0 L747.8,662.2 L752.9,662.3 L758.1,662.4 L763.2,662.5 L768.3,662.6 L773.4,662.7 L778.5,662.7 L783.6,662.7 L788.7,662.7 L793.8,662.7 L798.9,662.7 L804.0,662.6 L809.0,662.6 L814.1,662.6 L819.2,662.5 L824.3,662.5 L829.4,662.4 L834.5,662.4 L839.6,662.3 L844.7,662.2 L849.7,662.2 L854.8,662.1 L859.9,662.0 L865.0,661.9 L870.1,661.8 L875.2,661.7 L880.3,661.6 L885.4,661.5 L890.4,661.5 L895.5,661.4 L900.6,661.3 L905.7,661.2 L910.8,661.1 L915.9,661.0 L921.0,660.9 L926.1,660.8 L931.1,660.8 L936.2,660.7 L941.3,660.6 L946.4,660.6 L951.5,660.5 L956.6,660.5 L961.7,660.4 L966.8,660.4 L971.8,660.4 L976.9,660.3 L982.0,660.3 L987.1,660.3 L992.2,660.3"/>
<path d="M145.7,667.2 L150.8,666.8 L155.9,666.4 L161.0,666.1 L166.1,665.7 L171.2,665.3 L176.3,665.0 L181.4,664.6 L186.5,664.2 L191.6,663.9 L196.7,663.5 L201.8,663.2 L206.9,662.8 L212.0,662.5 L217.1,662.2 L222.2,661.8 L227.3,661.5 L232.4,661.2 L237.5,660.9 L242.6,660.6 L247.7,660.3 L252.8,660.1 L258.0,659.8 L263.1,659.5 L268.2,659.3 L273.3,659.1 L278.4,658.9 L283.5,658.6 L288.6,658.5 L293.7,658.3 L298.8,658.1 L303.9,657.9 L309.0,657.8 L314.1,657.7 L319.2,657.5 L324.3,657.4 L329.4,657.4 L334.5,657.3 L339.6,657.2 L344.7,657.2 L349.8,657.1 L354.9,657.1 L360.0,657.1 L365.1,657.1 L370.2,657.1 L375.3,657.1 L380.4,657.1 L385.5,657.1 L390.6,657.1 L395.7,657.1 L400.8,657.0 L405.9,657.0 L411.0,657.0 L416.1,657.0 L421.2,657.0 L426.3,657.0 L431.4,656.9 L436.5,656.9 L441.6,656.9 L446.7,656.9 L451.8,656.9 L456.9,656.8 L462.0,656.8 L467.0,656.8 L472.1,656.8 L477.2,656.7 L482.3,656.7 L487.4,656.7 L492.5,656.7 L497.6,656.7 L502.7,656.6 L507.8,656.6 L512.9,656.6 L518.0,656.6 L523.1,656.6 L528.2,656.6 L533.3,656.5 L538.4,656.5 L543.5,656.5 L548.6,656.5 L553.7,656.5 L558.8,656.5 L563.9,656.5 L569.0,656.5 L574.1,656.5 L579.2,656.5 L584.3,656.6 L589.4,656.6 L594.5,656.7 L599.7,656.8 L604.8,656.9 L609.9,657.0 L615.0,657.2 L620.1,657.3 L625.2,657.5 L630.3,657.7 L635.4,657.9 L640.5,658.0 L645.6,658.3 L650.8,658.5 L655.9,658.7 L661.0,658.9 L666.1,659.1 L671.2,659.4 L676.3,659.6 L681.4,659.8 L686.5,660.1 L691.6,660.3 L696.7,660.5 L701.8,660.7 L707.0,660.9 L712.1,661.1 L717.2,661.3 L722.3,661.5 L727.4,661.7 L732.5,661.9 L737.6,662.0 L742.7,662.2 L747.8,662.3 L752.9,662.4 L758.1,662.5 L763.2,662.6 L768.3,662.6 L773.4,662.7 L778.5,662.7 L783.6,662.7 L788.7,662.8 L793.8,662.9 L798.9,663.0 L804.0,663.1 L809.0,663.2 L814.1,663.3 L819.2,663.5 L824.3,663.6 L829.4,663.7 L834.5,663.8 L839.6,663.9 L844.7,664.0 L849.7,664.1 L854.8,664.2 L859.9,664.3 L865.0,664.4 L870.1,664.5 L875.2,664.6 L880.3,664.7 L885.4,664.8 L890.4,665.0 L895.5,665.1 L900.6,665.2 L905.7,665.3 L910.8,665.4 L915.9,665.5 L921.0,665.6 L926.1,665.7 L931.1,665.8 L936.2,665.9 L941.3,666.0 L946.4,666.1 L951.5,666.2 L956.6,666.3 L961.7,666.5 L966.8,666.6 L971.8,666.7 L976.9,666.8 L982.0,666.9 L987.1,667.0 L992.2,667.1"/>
<path d="M145.7,667.2 L150.8,666.6 L155.9,665.9 L161.0,665.3 L166.1,664.6 L171.2,664.0 L176.3,663.4 L181.4,662.7 L186.5,662.1 L191.6,661.5 L196.7,660.9 L201.8,660.3 L206.9,659.7 L212.0,659.2 L217.1,658.6 L222.2,658.0 L227.3,657.5 L232.4,657.0 L237.5,656.5 L242.6,656.0 L247.7,655.5 L252.8,655.0 L258.0,654.6 L263.1,654.2 L268.2,653.8 L273.3,653.4 L278.4,653.0 L283.5,652.6 L288.6,652.3 L293.7,652.0 L298.8,651.7 L303.9,651.4 L309.0,651.2 L314.1,651.0 L319.2,650.8 L324.3,650.6 L329.4,650.4 L334.5,650.3 L339.6,650.2 L344.7,650.1 L349.8,650.0 L354.9,650.0 L360.0,650.0 L365.1,650.0 L370.2,650.0 L375.3,650.0 L380.4,650.0 L385.5,650.1 L390.6,650.1 L395.7,650.1 L400.8,650.2 L405.9,650.2 L411.0,650.3 L416.1,650.3 L421.2,650.4 L426.3,650.5 L431.4,650.5 L436.5,650.6 L441.6,650.7 L446.7,650.7 L451.8,650.8 L456.9,650.9 L462.0,651.0 L467.0,651.0 L472.1,651.1 L477.2,651.2 L482.3,651.3 L487.4,651.3 L492.5,651.4 L497.6,651.5 L502.7,651.5 L507.8,651.6 L512.9,651.7 L518.0,651.7 L523.1,651.8 L528.2,651.8 L533.3,651.9 L538.4,651.9 L543.5,651.9 L548.6,652.0 L553.7,652.0 L558.8,652.0 L563.9,652.0 L569.0,652.0 L574.1,652.0 L579.2,652.0 L584.3,652.0 L589.4,652.1 L594.5,652.1 L599.7,652.1 L604.8,652.2 L609.9,652.2 L615.0,652.3 L620.1,652.4 L625.2,652.4 L630.3,652.5 L635.4,652.6 L640.5,652.7 L645.6,652.8 L650.8,652.9 L655.9,653.0 L661.0,653.0 L666.1,653.1 L671.2,653.2 L676.3,653.4 L681.4,653.5 L686.5,653.6 L691.6,653.7 L696.7,653.7 L701.8,653.8 L707.0,653.9 L712.1,654.0 L717.2,654.1 L722.3,654.2 L727.4,654.3 L732.5,654.3 L737.6,654.4 L742.7,654.5 L747.8,654.5 L752.9,654.6 L758.1,654.6 L763.2,654.6 L768.3,654.7 L773.4,654.7 L778.5,654.7 L783.6,654.7 L788.7,655.0 L793.8,655.3 L798.9,655.6 L804.0,655.9 L809.0,656.2 L814.1,656.5 L819.2,656.8 L824.3,657.1 L829.4,657.4 L834.5,657.7 L839.6,658.0 L844.7,658.3 L849.7,658.6 L854.8,658.9 L859.9,659.2 L865.0,659.5 L870.1,659.8 L875.2,660.1 L880.3,660.4 L885.4,660.7 L890.4,661.1 L895.5,661.4 L900.6,661.7 L905.7,662.0 L910.8,662.3 L915.9,662.6 L921.0,662.9 L926.1,663.2 L931.1,663.5 L936.2,663.8 L941.3,664.1 L946.4,664.4 L951.5,664.7 L956.6,665.0 L961.7,665.3 L966.8,665.6 L971.8,665.9 L976.9,666.2 L982.0,666.5 L987.1,666.8 L992.2,667.1"/>
</g>
</g>
<rect x="145.7" y="47.2" width="846.5" height="635.2" fill="none" stroke="#000" stroke-width="4.5"/>
<g stroke="#000" stroke-width="4.5" stroke-linecap="round">
<line x1="136.0" y1="668.20" x2="145.7" y2="668.20"/>
<line x1="136.0" y1="595.18" x2="145.7" y2="595.18"/>
<line x1="136.0" y1="522.15" x2="145.7" y2="522.15"/>
<line x1="136.0" y1="449.13" x2="145.7" y2="449.13"/>
<line x1="136.0" y1="376.10" x2="145.7" y2="376.10"/>
<line x1="136.0" y1="303.08" x2="145.7" y2="303.08"/>
<line x1="136.0" y1="230.05" x2="145.7" y2="230.05"/>
<line x1="136.0" y1="157.03" x2="145.7" y2="157.03"/>
<line x1="136.0" y1="84.00" x2="145.7" y2="84.00"/>
<line x1="360.0" y1="682.4" x2="360.0" y2="692.0"/>
<line x1="569.0" y1="682.4" x2="569.0" y2="692.0"/>
<line x1="783.6" y1="682.4" x2="783.6" y2="692.0"/>
</g>
<g font-size="33.25" text-anchor="end">
<text transform="translate(123.45,680.40) scale(1.020,1)">0</text>
<text transform="translate(123.45,534.35) scale(1.020,1)">100</text>
<text transform="translate(123.45,388.30) scale(1.020,1)">200</text>
<text transform="translate(123.45,242.25) scale(1.020,1)">300</text>
<text transform="translate(123.45,96.20) scale(1.020,1)">400</text>
</g>
<g font-size="33.25" text-anchor="middle">
<text transform="translate(151.75,731.6) scale(1.020,1)">Γ</text>
<text transform="translate(358.20,731.6) scale(1.020,1)">Φ</text>
<text transform="translate(567.70,731.6) scale(1.020,1)">Θ</text>
<text transform="translate(787.80,731.6) scale(1.020,1)">Z</text>
<text transform="translate(991.80,731.6) scale(1.020,1)">Γ</text>
</g>
<text transform="translate(331.77,782.3) scale(1.0072,1)" font-size="37.04">Reduced Wave Vector, ζ</text>
<text transform="translate(35.4,496.0) rotate(-90) scale(1.0304,1)" font-size="36.76">Energy [meV]</text>
<text transform="translate(6.17,40.41) scale(1.0369,1)" font-size="45.28" font-weight="bold">(a)</text>
<g clip-path="url(#cr)">
<g>
<circle cx="1196.6" cy="670.8" r="8.7" fill="#2f64a0"/>
<circle cx="1202.3" cy="663.4" r="8.7" fill="#2f64a0"/>
<circle cx="1208.0" cy="656.0" r="8.7" fill="#2f64a0"/>
<circle cx="1213.7" cy="648.6" r="8.7" fill="#2f64a0"/>
<circle cx="1219.4" cy="641.3" r="8.7" fill="#2f64a0"/>
<circle cx="1225.0" cy="634.1" r="8.7" fill="#2f64a0"/>
<circle cx="1230.7" cy="627.1" r="8.7" fill="#2f64a0"/>
<circle cx="1236.4" cy="620.1" r="8.7" fill="#2f64a0"/>
<circle cx="1242.1" cy="613.2" r="8.7" fill="#2f64a0"/>
<circle cx="1247.8" cy="606.3" r="8.7" fill="#2f64a0"/>
<circle cx="1253.5" cy="599.5" r="8.7" fill="#2f64a0"/>
<circle cx="1259.4" cy="590.5" r="8.7" fill="#2f64a0"/>
<circle cx="1264.0" cy="585.0" r="8.7" fill="#2f64a0"/>
<circle cx="1268.7" cy="579.6" r="8.7" fill="#2f64a0"/>
<circle cx="1283.6" cy="562.2" r="8.7" fill="#2f64a0"/>
<circle cx="1289.2" cy="555.3" r="8.7" fill="#2f64a0"/>
<circle cx="1299.8" cy="542.9" r="8.7" fill="#2f64a0"/>
<circle cx="1307.9" cy="533.6" r="8.7" fill="#2f64a0"/>
<circle cx="1316.6" cy="522.4" r="8.7" fill="#2f64a0"/>
<circle cx="1322.2" cy="517.4" r="8.7" fill="#2f64a0"/>
<circle cx="1335.5" cy="506.2" r="8.7" fill="#2f64a0"/>
<circle cx="1350.4" cy="492.8" r="8.7" fill="#2f64a0"/>
<circle cx="1365.8" cy="480.2" r="8.7" fill="#2f64a0"/>
<circle cx="1379.5" cy="469.8" r="8.7" fill="#2f64a0"/>
<circle cx="1391.7" cy="459.5" r="8.7" fill="#2f64a0"/>
<circle cx="1407.8" cy="450.2" r="8.7" fill="#2f64a0"/>
<circle cx="1422.5" cy="442.0" r="8.7" fill="#2f64a0"/>
<circle cx="1443.2" cy="428.7" r="8.7" fill="#2f64a0"/>
<circle cx="1469.5" cy="411.8" r="8.7" fill="#2f64a0"/>
<circle cx="1495.9" cy="397.4" r="8.7" fill="#2f64a0"/>
<circle cx="1524.5" cy="381.5" r="8.7" fill="#2f64a0"/>
<circle cx="1550.3" cy="366.7" r="8.7" fill="#2f64a0"/>
<circle cx="1569.1" cy="355.1" r="8.7" fill="#2f64a0"/>
<circle cx="1606.5" cy="334.0" r="8.7" fill="#2f64a0"/>
<circle cx="1633.4" cy="319.8" r="8.7" fill="#2f64a0"/>
<circle cx="1660.5" cy="306.0" r="8.7" fill="#2f64a0"/>
<circle cx="1686.7" cy="290.6" r="8.7" fill="#2f64a0"/>
<circle cx="1692.6" cy="289.1" r="8.7" fill="#2f64a0"/>
<circle cx="1721.6" cy="273.3" r="8.7" fill="#2f64a0"/>
<circle cx="1751.4" cy="255.9" r="8.7" fill="#2f64a0"/>
<circle cx="1786.3" cy="236.4" r="8.7" fill="#2f64a0"/>
<circle cx="1821.6" cy="217.4" r="8.7" fill="#2f64a0"/>
<circle cx="1852.6" cy="195.1" r="8.7" fill="#2f64a0"/>
<circle cx="1882.9" cy="180.8" r="8.7" fill="#2f64a0"/>
<circle cx="1909.3" cy="163.9" r="8.7" fill="#2f64a0"/>
<circle cx="1929.4" cy="153.8" r="8.7" fill="#2f64a0"/>
<circle cx="1948.0" cy="143.2" r="8.7" fill="#2f64a0"/>
<circle cx="1974.5" cy="128.7" r="8.7" fill="#2f64a0"/>
<circle cx="1196.6" cy="670.8" r="7.55" fill="#6cb0ea"/>
<circle cx="1202.3" cy="663.4" r="7.55" fill="#6cb0ea"/>
<circle cx="1208.0" cy="656.0" r="7.55" fill="#6cb0ea"/>
<circle cx="1213.7" cy="648.6" r="7.55" fill="#6cb0ea"/>
<circle cx="1219.4" cy="641.3" r="7.55" fill="#6cb0ea"/>
<circle cx="1225.0" cy="634.1" r="7.55" fill="#6cb0ea"/>
<circle cx="1230.7" cy="627.1" r="7.55" fill="#6cb0ea"/>
<circle cx="1236.4" cy="620.1" r="7.55" fill="#6cb0ea"/>
<circle cx="1242.1" cy="613.2" r="7.55" fill="#6cb0ea"/>
<circle cx="1247.8" cy="606.3" r="7.55" fill="#6cb0ea"/>
<circle cx="1253.5" cy="599.5" r="7.55" fill="#6cb0ea"/>
<circle cx="1259.4" cy="590.5" r="7.55" fill="#6cb0ea"/>
<circle cx="1264.0" cy="585.0" r="7.55" fill="#6cb0ea"/>
<circle cx="1268.7" cy="579.6" r="7.55" fill="#6cb0ea"/>
<circle cx="1283.6" cy="562.2" r="7.55" fill="#6cb0ea"/>
<circle cx="1289.2" cy="555.3" r="7.55" fill="#6cb0ea"/>
<circle cx="1299.8" cy="542.9" r="7.55" fill="#6cb0ea"/>
<circle cx="1307.9" cy="533.6" r="7.55" fill="#6cb0ea"/>
<circle cx="1316.6" cy="522.4" r="7.55" fill="#6cb0ea"/>
<circle cx="1322.2" cy="517.4" r="7.55" fill="#6cb0ea"/>
<circle cx="1335.5" cy="506.2" r="7.55" fill="#6cb0ea"/>
<circle cx="1350.4" cy="492.8" r="7.55" fill="#6cb0ea"/>
<circle cx="1365.8" cy="480.2" r="7.55" fill="#6cb0ea"/>
<circle cx="1379.5" cy="469.8" r="7.55" fill="#6cb0ea"/>
<circle cx="1391.7" cy="459.5" r="7.55" fill="#6cb0ea"/>
<circle cx="1407.8" cy="450.2" r="7.55" fill="#6cb0ea"/>
<circle cx="1422.5" cy="442.0" r="7.55" fill="#6cb0ea"/>
<circle cx="1443.2" cy="428.7" r="7.55" fill="#6cb0ea"/>
<circle cx="1469.5" cy="411.8" r="7.55" fill="#6cb0ea"/>
<circle cx="1495.9" cy="397.4" r="7.55" fill="#6cb0ea"/>
<circle cx="1524.5" cy="381.5" r="7.55" fill="#6cb0ea"/>
<circle cx="1550.3" cy="366.7" r="7.55" fill="#6cb0ea"/>
<circle cx="1569.1" cy="355.1" r="7.55" fill="#6cb0ea"/>
<circle cx="1606.5" cy="334.0" r="7.55" fill="#6cb0ea"/>
<circle cx="1633.4" cy="319.8" r="7.55" fill="#6cb0ea"/>
<circle cx="1660.5" cy="306.0" r="7.55" fill="#6cb0ea"/>
<circle cx="1686.7" cy="290.6" r="7.55" fill="#6cb0ea"/>
<circle cx="1692.6" cy="289.1" r="7.55" fill="#6cb0ea"/>
<circle cx="1721.6" cy="273.3" r="7.55" fill="#6cb0ea"/>
<circle cx="1751.4" cy="255.9" r="7.55" fill="#6cb0ea"/>
<circle cx="1786.3" cy="236.4" r="7.55" fill="#6cb0ea"/>
<circle cx="1821.6" cy="217.4" r="7.55" fill="#6cb0ea"/>
<circle cx="1852.6" cy="195.1" r="7.55" fill="#6cb0ea"/>
<circle cx="1882.9" cy="180.8" r="7.55" fill="#6cb0ea"/>
<circle cx="1909.3" cy="163.9" r="7.55" fill="#6cb0ea"/>
<circle cx="1929.4" cy="153.8" r="7.55" fill="#6cb0ea"/>
<circle cx="1948.0" cy="143.2" r="7.55" fill="#6cb0ea"/>
<circle cx="1974.5" cy="128.7" r="7.55" fill="#6cb0ea"/>
<circle cx="1196.6" cy="670.8" r="5.3" fill="#3a74b3"/>
<circle cx="1202.3" cy="663.4" r="5.3" fill="#3a74b3"/>
<circle cx="1208.0" cy="656.0" r="5.3" fill="#3a74b3"/>
<circle cx="1213.7" cy="648.6" r="5.3" fill="#3a74b3"/>
<circle cx="1219.4" cy="641.3" r="5.3" fill="#3a74b3"/>
<circle cx="1225.0" cy="634.1" r="5.3" fill="#3a74b3"/>
<circle cx="1230.7" cy="627.1" r="5.3" fill="#3a74b3"/>
<circle cx="1236.4" cy="620.1" r="5.3" fill="#3a74b3"/>
<circle cx="1242.1" cy="613.2" r="5.3" fill="#3a74b3"/>
<circle cx="1247.8" cy="606.3" r="5.3" fill="#3a74b3"/>
<circle cx="1253.5" cy="599.5" r="5.3" fill="#3a74b3"/>
<circle cx="1259.4" cy="590.5" r="5.3" fill="#3a74b3"/>
<circle cx="1264.0" cy="585.0" r="5.3" fill="#3a74b3"/>
<circle cx="1268.7" cy="579.6" r="5.3" fill="#3a74b3"/>
<circle cx="1283.6" cy="562.2" r="5.3" fill="#3a74b3"/>
<circle cx="1289.2" cy="555.3" r="5.3" fill="#3a74b3"/>
<circle cx="1299.8" cy="542.9" r="5.3" fill="#3a74b3"/>
<circle cx="1307.9" cy="533.6" r="5.3" fill="#3a74b3"/>
<circle cx="1316.6" cy="522.4" r="5.3" fill="#3a74b3"/>
<circle cx="1322.2" cy="517.4" r="5.3" fill="#3a74b3"/>
<circle cx="1335.5" cy="506.2" r="5.3" fill="#3a74b3"/>
<circle cx="1350.4" cy="492.8" r="5.3" fill="#3a74b3"/>
<circle cx="1365.8" cy="480.2" r="5.3" fill="#3a74b3"/>
<circle cx="1379.5" cy="469.8" r="5.3" fill="#3a74b3"/>
<circle cx="1391.7" cy="459.5" r="5.3" fill="#3a74b3"/>
<circle cx="1407.8" cy="450.2" r="5.3" fill="#3a74b3"/>
<circle cx="1422.5" cy="442.0" r="5.3" fill="#3a74b3"/>
<circle cx="1443.2" cy="428.7" r="5.3" fill="#3a74b3"/>
<circle cx="1469.5" cy="411.8" r="5.3" fill="#3a74b3"/>
<circle cx="1495.9" cy="397.4" r="5.3" fill="#3a74b3"/>
<circle cx="1524.5" cy="381.5" r="5.3" fill="#3a74b3"/>
<circle cx="1550.3" cy="366.7" r="5.3" fill="#3a74b3"/>
<circle cx="1569.1" cy="355.1" r="5.3" fill="#3a74b3"/>
<circle cx="1606.5" cy="334.0" r="5.3" fill="#3a74b3"/>
<circle cx="1633.4" cy="319.8" r="5.3" fill="#3a74b3"/>
<circle cx="1660.5" cy="306.0" r="5.3" fill="#3a74b3"/>
<circle cx="1686.7" cy="290.6" r="5.3" fill="#3a74b3"/>
<circle cx="1692.6" cy="289.1" r="5.3" fill="#3a74b3"/>
<circle cx="1721.6" cy="273.3" r="5.3" fill="#3a74b3"/>
<circle cx="1751.4" cy="255.9" r="5.3" fill="#3a74b3"/>
<circle cx="1786.3" cy="236.4" r="5.3" fill="#3a74b3"/>
<circle cx="1821.6" cy="217.4" r="5.3" fill="#3a74b3"/>
<circle cx="1852.6" cy="195.1" r="5.3" fill="#3a74b3"/>
<circle cx="1882.9" cy="180.8" r="5.3" fill="#3a74b3"/>
<circle cx="1909.3" cy="163.9" r="5.3" fill="#3a74b3"/>
<circle cx="1929.4" cy="153.8" r="5.3" fill="#3a74b3"/>
<circle cx="1948.0" cy="143.2" r="5.3" fill="#3a74b3"/>
<circle cx="1974.5" cy="128.7" r="5.3" fill="#3a74b3"/>
<circle cx="1196.6" cy="670.8" r="1.9" fill="#fff" fill-opacity="1.00"/>
<circle cx="1202.3" cy="663.4" r="1.9" fill="#fff" fill-opacity="0.45"/>
<circle cx="1208.0" cy="656.0" r="1.9" fill="#fff" fill-opacity="0.45"/>
<circle cx="1213.7" cy="648.6" r="1.9" fill="#fff" fill-opacity="0.45"/>
<circle cx="1219.4" cy="641.3" r="1.9" fill="#fff" fill-opacity="0.45"/>
<circle cx="1225.0" cy="634.1" r="1.9" fill="#fff" fill-opacity="0.45"/>
<circle cx="1230.7" cy="627.1" r="1.9" fill="#fff" fill-opacity="0.45"/>
<circle cx="1236.4" cy="620.1" r="1.9" fill="#fff" fill-opacity="0.45"/>
<circle cx="1242.1" cy="613.2" r="1.9" fill="#fff" fill-opacity="0.45"/>
<circle cx="1247.8" cy="606.3" r="1.9" fill="#fff" fill-opacity="0.45"/>
<circle cx="1253.5" cy="599.5" r="1.9" fill="#fff" fill-opacity="0.45"/>
<circle cx="1259.4" cy="590.5" r="1.9" fill="#fff" fill-opacity="0.45"/>
<circle cx="1264.0" cy="585.0" r="1.9" fill="#fff" fill-opacity="0.45"/>
<circle cx="1268.7" cy="579.6" r="1.9" fill="#fff" fill-opacity="0.45"/>
<circle cx="1283.6" cy="562.2" r="1.9" fill="#fff" fill-opacity="1.00"/>
<circle cx="1289.2" cy="555.3" r="1.9" fill="#fff" fill-opacity="1.00"/>
<circle cx="1299.8" cy="542.9" r="1.9" fill="#fff" fill-opacity="1.00"/>
<circle cx="1307.9" cy="533.6" r="1.9" fill="#fff" fill-opacity="1.00"/>
<circle cx="1316.6" cy="522.4" r="1.9" fill="#fff" fill-opacity="1.00"/>
<circle cx="1322.2" cy="517.4" r="1.9" fill="#fff" fill-opacity="1.00"/>
<circle cx="1335.5" cy="506.2" r="1.9" fill="#fff" fill-opacity="1.00"/>
<circle cx="1350.4" cy="492.8" r="1.9" fill="#fff" fill-opacity="1.00"/>
<circle cx="1365.8" cy="480.2" r="1.9" fill="#fff" fill-opacity="1.00"/>
<circle cx="1379.5" cy="469.8" r="1.9" fill="#fff" fill-opacity="1.00"/>
<circle cx="1391.7" cy="459.5" r="1.9" fill="#fff" fill-opacity="1.00"/>
<circle cx="1407.8" cy="450.2" r="1.9" fill="#fff" fill-opacity="1.00"/>
<circle cx="1422.5" cy="442.0" r="1.9" fill="#fff" fill-opacity="1.00"/>
<circle cx="1443.2" cy="428.7" r="1.9" fill="#fff" fill-opacity="1.00"/>
<circle cx="1469.5" cy="411.8" r="1.9" fill="#fff" fill-opacity="1.00"/>
<circle cx="1495.9" cy="397.4" r="1.9" fill="#fff" fill-opacity="1.00"/>
<circle cx="1524.5" cy="381.5" r="1.9" fill="#fff" fill-opacity="1.00"/>
<circle cx="1550.3" cy="366.7" r="1.9" fill="#fff" fill-opacity="1.00"/>
<circle cx="1569.1" cy="355.1" r="1.9" fill="#fff" fill-opacity="1.00"/>
<circle cx="1606.5" cy="334.0" r="1.9" fill="#fff" fill-opacity="1.00"/>
<circle cx="1633.4" cy="319.8" r="1.9" fill="#fff" fill-opacity="1.00"/>
<circle cx="1660.5" cy="306.0" r="1.9" fill="#fff" fill-opacity="1.00"/>
<circle cx="1686.7" cy="290.6" r="1.9" fill="#fff" fill-opacity="1.00"/>
<circle cx="1692.6" cy="289.1" r="1.9" fill="#fff" fill-opacity="1.00"/>
<circle cx="1721.6" cy="273.3" r="1.9" fill="#fff" fill-opacity="1.00"/>
<circle cx="1751.4" cy="255.9" r="1.9" fill="#fff" fill-opacity="1.00"/>
<circle cx="1786.3" cy="236.4" r="1.9" fill="#fff" fill-opacity="1.00"/>
<circle cx="1821.6" cy="217.4" r="1.9" fill="#fff" fill-opacity="1.00"/>
<circle cx="1852.6" cy="195.1" r="1.9" fill="#fff" fill-opacity="1.00"/>
<circle cx="1882.9" cy="180.8" r="1.9" fill="#fff" fill-opacity="1.00"/>
<circle cx="1909.3" cy="163.9" r="1.9" fill="#fff" fill-opacity="1.00"/>
<circle cx="1929.4" cy="153.8" r="1.9" fill="#fff" fill-opacity="1.00"/>
<circle cx="1948.0" cy="143.2" r="1.9" fill="#fff" fill-opacity="1.00"/>
<circle cx="1974.5" cy="128.7" r="1.9" fill="#fff" fill-opacity="1.00"/>
</g>
<path d="M1192.3,663.8 C1194.8,661.4 1203.0,653.4 1207.4,649.3 C1211.8,645.2 1214.9,642.7 1218.6,639.2 C1222.3,635.8 1226.0,632.2 1229.7,628.6 C1233.4,625.0 1237.2,621.2 1240.9,617.4 C1244.6,613.6 1248.4,609.6 1252.1,605.7 C1255.8,601.8 1259.7,598.0 1263.3,593.9 C1266.9,589.8 1270.0,585.6 1273.6,581.0 C1277.2,576.4 1281.0,570.9 1284.9,566.0 C1288.9,561.1 1293.2,556.1 1297.3,551.6 C1301.4,547.1 1305.6,542.9 1309.8,539.0 C1314.0,535.1 1318.8,531.1 1322.2,528.3 C1325.6,525.5 1326.4,525.0 1330.0,522.0 C1333.6,519.0 1339.1,514.1 1343.7,510.3 C1348.3,506.5 1352.8,502.9 1357.4,499.4 C1362.0,495.9 1366.5,492.3 1371.1,489.1 C1375.6,485.9 1380.2,483.2 1384.7,480.2 C1389.2,477.2 1393.8,474.1 1398.4,471.3 C1403.0,468.5 1407.5,465.8 1412.1,463.1 C1416.7,460.4 1421.2,457.5 1425.8,454.9 C1430.4,452.3 1434.9,450.0 1439.5,447.4 C1444.1,444.8 1448.6,441.8 1453.2,439.2 C1457.8,436.6 1462.3,434.0 1466.9,431.6 C1471.5,429.2 1466.8,431.7 1480.6,424.6 C1494.4,417.6 1526.6,401.3 1549.7,389.3 C1572.8,377.3 1596.1,364.3 1619.3,352.7 C1642.5,341.1 1672.2,327.6 1689.0,319.6 C1705.8,311.6 1702.4,313.2 1720.0,304.6 C1737.6,296.0 1769.7,280.2 1794.6,268.2 C1819.5,256.2 1844.4,244.5 1869.3,232.8 C1894.2,221.1 1922.1,208.3 1943.9,198.2 C1965.7,188.1 1990.7,176.5 2000.0,172.2" fill="none" stroke="#f8907a" stroke-opacity="0.6" stroke-width="10"/>
<path d="M1192.3,663.8 C1194.8,661.4 1203.0,653.4 1207.4,649.3 C1211.8,645.2 1214.9,642.7 1218.6,639.2 C1222.3,635.8 1226.0,632.2 1229.7,628.6 C1233.4,625.0 1237.2,621.2 1240.9,617.4 C1244.6,613.6 1248.4,609.6 1252.1,605.7 C1255.8,601.8 1259.7,598.0 1263.3,593.9 C1266.9,589.8 1270.0,585.6 1273.6,581.0 C1277.2,576.4 1281.0,570.9 1284.9,566.0 C1288.9,561.1 1293.2,556.1 1297.3,551.6 C1301.4,547.1 1305.6,542.9 1309.8,539.0 C1314.0,535.1 1318.8,531.1 1322.2,528.3 C1325.6,525.5 1326.4,525.0 1330.0,522.0 C1333.6,519.0 1339.1,514.1 1343.7,510.3 C1348.3,506.5 1352.8,502.9 1357.4,499.4 C1362.0,495.9 1366.5,492.3 1371.1,489.1 C1375.6,485.9 1380.2,483.2 1384.7,480.2 C1389.2,477.2 1393.8,474.1 1398.4,471.3 C1403.0,468.5 1407.5,465.8 1412.1,463.1 C1416.7,460.4 1421.2,457.5 1425.8,454.9 C1430.4,452.3 1434.9,450.0 1439.5,447.4 C1444.1,444.8 1448.6,441.8 1453.2,439.2 C1457.8,436.6 1462.3,434.0 1466.9,431.6 C1471.5,429.2 1466.8,431.7 1480.6,424.6 C1494.4,417.6 1526.6,401.3 1549.7,389.3 C1572.8,377.3 1596.1,364.3 1619.3,352.7 C1642.5,341.1 1672.2,327.6 1689.0,319.6 C1705.8,311.6 1702.4,313.2 1720.0,304.6 C1737.6,296.0 1769.7,280.2 1794.6,268.2 C1819.5,256.2 1844.4,244.5 1869.3,232.8 C1894.2,221.1 1922.1,208.3 1943.9,198.2 C1965.7,188.1 1990.7,176.5 2000.0,172.2" fill="none" stroke="#ff4000" stroke-width="2.4"/>
<path d="M1192.3,663.8 C1194.8,661.4 1203.0,653.4 1207.4,649.3 C1211.8,645.2 1214.9,642.7 1218.6,639.2 C1222.3,635.8 1226.0,632.2 1229.7,628.6 C1233.4,625.0 1237.2,621.2 1240.9,617.4 C1244.6,613.6 1248.4,609.6 1252.1,605.7 C1255.8,601.8 1259.7,598.0 1263.3,593.9 C1266.9,589.8 1270.0,585.6 1273.6,581.0 C1277.2,576.4 1281.0,570.9 1284.9,566.0 C1288.9,561.1 1293.2,556.1 1297.3,551.6 C1301.4,547.1 1305.6,542.9 1309.8,539.0 C1314.0,535.1 1318.8,531.1 1322.2,528.3 C1325.6,525.5 1326.4,525.0 1330.0,522.0 C1333.6,519.0 1339.1,514.1 1343.7,510.3 C1348.3,506.5 1352.8,502.9 1357.4,499.4 C1362.0,495.9 1366.5,492.3 1371.1,489.1 C1375.6,485.9 1380.2,483.2 1384.7,480.2 C1389.2,477.2 1393.8,474.1 1398.4,471.3 C1403.0,468.5 1407.5,465.8 1412.1,463.1 C1416.7,460.4 1421.2,457.5 1425.8,454.9 C1430.4,452.3 1434.9,450.0 1439.5,447.4 C1444.1,444.8 1448.6,441.8 1453.2,439.2 C1457.8,436.6 1462.3,434.0 1466.9,431.6 C1471.5,429.2 1466.8,431.7 1480.6,424.6 C1494.4,417.6 1526.6,401.3 1549.7,389.3 C1572.8,377.3 1596.1,364.3 1619.3,352.7 C1642.5,341.1 1672.2,327.6 1689.0,319.6 C1705.8,311.6 1702.4,313.2 1720.0,304.6 C1737.6,296.0 1769.7,280.2 1794.6,268.2 C1819.5,256.2 1844.4,244.5 1869.3,232.8 C1894.2,221.1 1922.1,208.3 1943.9,198.2 C1965.7,188.1 1990.7,176.5 2000.0,172.2" fill="none" stroke="#d0300a" stroke-opacity="0.38" stroke-width="3.4" stroke-dasharray="20.7 10.6"/>
<circle cx="1971.0" cy="186.0" r="7.0" fill="none" stroke="#ff6600" stroke-width="4.1"/>
</g>
<rect x="1151.7" y="47.1" width="846.6" height="635.5" fill="none" stroke="#000" stroke-width="4.5"/>
<g stroke="#000" stroke-width="4.5" stroke-linecap="round">
<line x1="1142.2" y1="682.60" x2="1151.7" y2="682.60"/>
<line x1="1142.2" y1="611.99" x2="1151.7" y2="611.99"/>
<line x1="1142.2" y1="541.38" x2="1151.7" y2="541.38"/>
<line x1="1142.2" y1="470.76" x2="1151.7" y2="470.76"/>
<line x1="1142.2" y1="400.15" x2="1151.7" y2="400.15"/>
<line x1="1142.2" y1="329.54" x2="1151.7" y2="329.54"/>
<line x1="1142.2" y1="258.93" x2="1151.7" y2="258.93"/>
<line x1="1142.2" y1="188.31" x2="1151.7" y2="188.31"/>
<line x1="1142.2" y1="117.70" x2="1151.7" y2="117.70"/>
<line x1="1142.2" y1="47.09" x2="1151.7" y2="47.09"/>
<line x1="1151.70" y1="682.6" x2="1151.70" y2="692.2"/>
<line x1="1219.97" y1="682.6" x2="1219.97" y2="692.2"/>
<line x1="1288.24" y1="682.6" x2="1288.24" y2="692.2"/>
<line x1="1356.50" y1="682.6" x2="1356.50" y2="692.2"/>
<line x1="1424.77" y1="682.6" x2="1424.77" y2="692.2"/>
<line x1="1493.04" y1="682.6" x2="1493.04" y2="692.2"/>
<line x1="1561.31" y1="682.6" x2="1561.31" y2="692.2"/>
<line x1="1629.57" y1="682.6" x2="1629.57" y2="692.2"/>
<line x1="1697.84" y1="682.6" x2="1697.84" y2="692.2"/>
<line x1="1766.11" y1="682.6" x2="1766.11" y2="692.2"/>
<line x1="1834.38" y1="682.6" x2="1834.38" y2="692.2"/>
<line x1="1902.64" y1="682.6" x2="1902.64" y2="692.2"/>
<line x1="1970.91" y1="682.6" x2="1970.91" y2="692.2"/>
</g>
<g font-size="33.25" text-anchor="end">
<text transform="translate(1128.95,694.70) scale(1.020,1)">0</text>
<text transform="translate(1128.95,553.48) scale(1.020,1)">5</text>
<text transform="translate(1128.95,412.25) scale(1.020,1)">10</text>
<text transform="translate(1128.95,271.03) scale(1.020,1)">15</text>
<text transform="translate(1128.95,129.80) scale(1.020,1)">20</text>
</g>
<g font-size="33.25" text-anchor="middle">
<text transform="translate(1151.70,731.6) scale(1.020,1)">0</text>
<text transform="translate(1288.24,731.6) scale(1.020,1)">50</text>
<text transform="translate(1424.77,731.6) scale(1.020,1)">100</text>
<text transform="translate(1561.31,731.6) scale(1.020,1)">150</text>
<text transform="translate(1697.84,731.6) scale(1.020,1)">200</text>
<text transform="translate(1834.38,731.6) scale(1.020,1)">250</text>
<text transform="translate(1970.91,731.6) scale(1.020,1)">300</text>
</g>
<text transform="translate(1417.1,789.0) scale(1.0288,1)" font-size="36.9">Temperature [K]</text>
<text transform="translate(1068.1,614.9) rotate(-90) scale(1.035,1)" font-size="36.9">Heat Capacity [J·mol<tspan font-size="24.13" dy="-14.2">-<tspan dx="1.5">1</tspan></tspan><tspan dy="14.2" dx="0.6">·<tspan dx="1.5">K</tspan></tspan><tspan font-size="24.13" dy="-14.2" dx="0.8">-1</tspan><tspan dy="14.2" dx="1.0">]</tspan></text>
<text transform="translate(1041.8,40.67) scale(1.022,1)" font-size="45.62" font-weight="bold">(b)</text>
<circle cx="1209.6" cy="89.3" r="6.9" fill="none" stroke="#3068a6" stroke-width="3.2"/>
<line x1="1173.9" y1="134" x2="1245.3" y2="134" stroke="#c0504d" stroke-width="3.8" stroke-dasharray="20.7 10.6"/>
<circle cx="1209.6" cy="178.4" r="7.0" fill="none" stroke="#ff6600" stroke-width="4.5"/>
<text transform="translate(1262.9,100.9) scale(1.0175,1)" font-size="30.45">Experimental [Johnston &amp; Kerr]</text>
<text transform="translate(1263.3,145.8) scale(1.0327,1)" font-size="30.04">Theoretical HLD [DFPT/PBE-TS]</text>
<text transform="translate(1263.3,189.9) scale(1.0337,1)" font-size="30.18">Theoretical AIMD [VACF/PBE-TS]</text>
</svg></body></html>
